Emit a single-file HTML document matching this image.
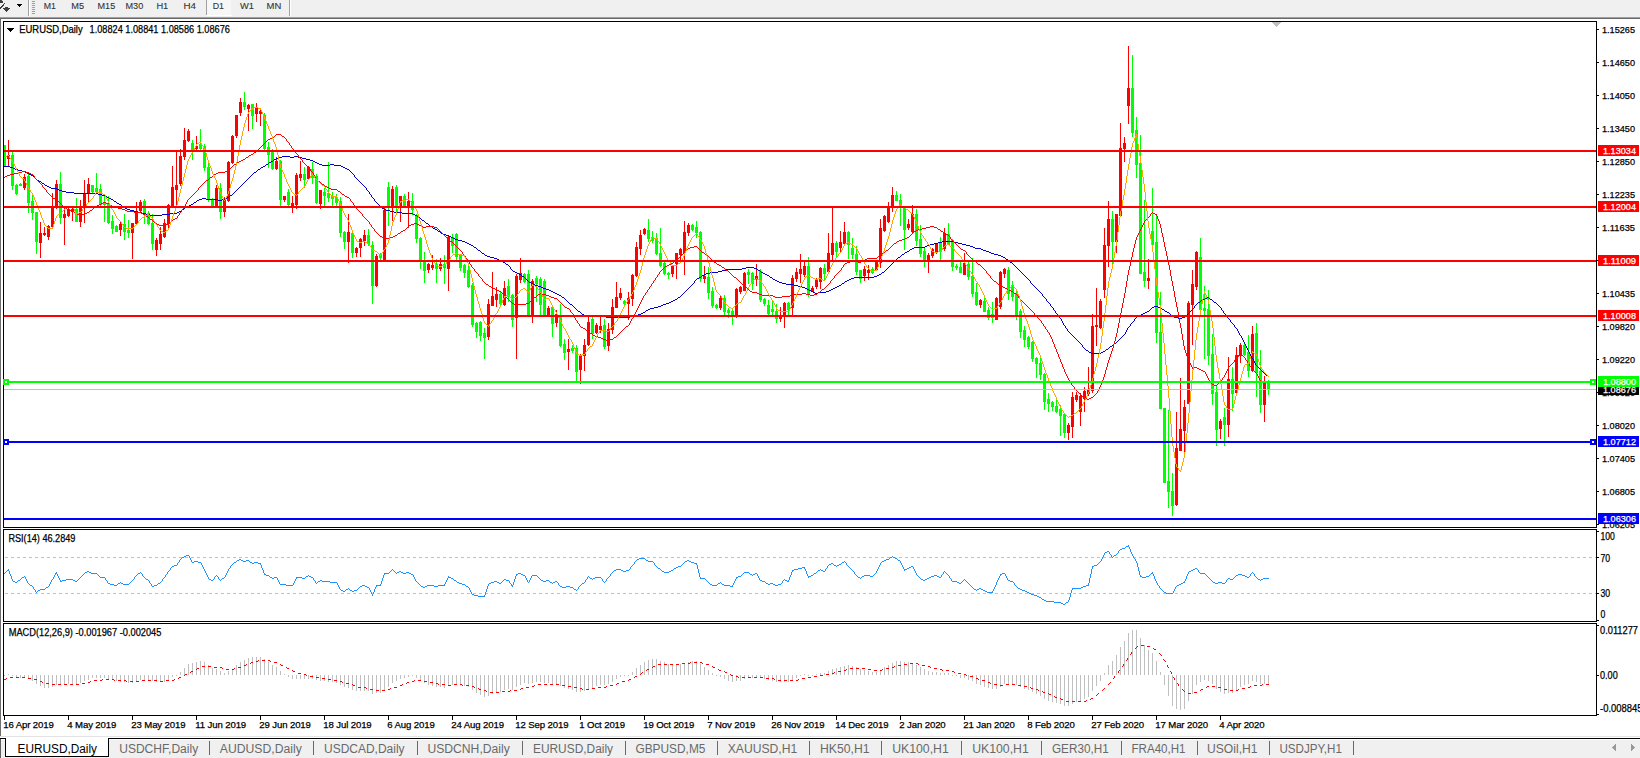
<!DOCTYPE html><html><head><meta charset="utf-8"><style>html,body{margin:0;padding:0;background:#fff;width:1640px;height:758px;overflow:hidden}svg{display:block}text{font-family:"Liberation Sans",sans-serif;stroke:currentColor;stroke-width:0.25px}</style></head><body>
<svg width="1640" height="758" viewBox="0 0 1640 758">
<g shape-rendering="crispEdges">
<rect x="0" y="0" width="1640" height="17" fill="#f0f0f0"/>
<rect x="0" y="17" width="1640" height="1" fill="#a0a0a0"/>
<rect x="0" y="18" width="1640" height="1" fill="#696969"/>
<rect x="0" y="19" width="1" height="717" fill="#6e6e6e"/>
<rect x="28" y="0" width="1" height="16" fill="#a0a0a0"/><rect x="29" y="0" width="1" height="16" fill="#ffffff"/>
<rect x="289" y="0" width="1" height="16" fill="#a0a0a0"/><rect x="290" y="0" width="1" height="16" fill="#ffffff"/>
<rect x="32" y="1" width="3" height="1" fill="#a0a0a0"/>
<rect x="32" y="3" width="3" height="1" fill="#a0a0a0"/>
<rect x="32" y="5" width="3" height="1" fill="#a0a0a0"/>
<rect x="32" y="7" width="3" height="1" fill="#a0a0a0"/>
<rect x="32" y="9" width="3" height="1" fill="#a0a0a0"/>
<rect x="32" y="11" width="3" height="1" fill="#a0a0a0"/>
<rect x="32" y="13" width="3" height="1" fill="#a0a0a0"/>
<rect x="207" y="0" width="24" height="15" fill="#f7f7f7"/>
<rect x="206" y="0" width="1" height="15" fill="#a0a0a0"/>
<rect x="206" y="15" width="26" height="1" fill="#ffffff"/>
</g>
<g shape-rendering="crispEdges" fill="#404040">
<rect x="0" y="0" width="2" height="3"/>
<rect x="2" y="1" width="1" height="2"/>
<rect x="4" y="3" width="1" height="1"/>
<rect x="3" y="4" width="1" height="2"/>
<rect x="2" y="5" width="1" height="2"/>
<rect x="1" y="6" width="1" height="2"/>
<rect x="0" y="7" width="1" height="2"/>
<rect x="5" y="7" width="3" height="1"/>
<rect x="3" y="8" width="7" height="1"/>
<rect x="4" y="9" width="5" height="1"/>
<rect x="5" y="10" width="3" height="1"/>
<rect x="6" y="11" width="1" height="1"/>
</g>
<g shape-rendering="crispEdges" fill="#000">
<rect x="17" y="4" width="5" height="1"/>
<rect x="18" y="5" width="3" height="1"/>
<rect x="19" y="6" width="1" height="1"/>
</g>
<text x="43.8" y="9" font-size="9.4" fill="#333" color="#333" style="stroke-width:0.1" textLength="12.2" lengthAdjust="spacingAndGlyphs">M1</text>
<text x="71.3" y="9" font-size="9.4" fill="#333" color="#333" style="stroke-width:0.1" textLength="12.8" lengthAdjust="spacingAndGlyphs">M5</text>
<text x="97.5" y="9" font-size="9.4" fill="#333" color="#333" style="stroke-width:0.1" textLength="17.7" lengthAdjust="spacingAndGlyphs">M15</text>
<text x="125.5" y="9" font-size="9.4" fill="#333" color="#333" style="stroke-width:0.1" textLength="17.7" lengthAdjust="spacingAndGlyphs">M30</text>
<text x="156.4" y="9" font-size="9.4" fill="#333" color="#333" style="stroke-width:0.1" textLength="11.9" lengthAdjust="spacingAndGlyphs">H1</text>
<text x="183.5" y="9" font-size="9.4" fill="#333" color="#333" style="stroke-width:0.1" textLength="12.5" lengthAdjust="spacingAndGlyphs">H4</text>
<text x="212.7" y="9" font-size="9.4" fill="#333" color="#333" style="stroke-width:0.1" textLength="11.3" lengthAdjust="spacingAndGlyphs">D1</text>
<text x="240" y="9" font-size="9.4" fill="#333" color="#333" style="stroke-width:0.1" textLength="14" lengthAdjust="spacingAndGlyphs">W1</text>
<text x="266.6" y="9" font-size="9.4" fill="#333" color="#333" style="stroke-width:0.1" textLength="14.7" lengthAdjust="spacingAndGlyphs">MN</text>
<g shape-rendering="crispEdges" fill="none" stroke="#000" stroke-width="1">
<rect x="3.5" y="21.5" width="1593" height="506"/>
<rect x="3.5" y="529.5" width="1593" height="92"/>
<rect x="3.5" y="623.5" width="1593" height="92"/>
</g>
<defs><clipPath id="cm"><rect x="4" y="22" width="1592" height="505"/></clipPath><clipPath id="cr"><rect x="4" y="530" width="1592" height="91"/></clipPath><clipPath id="cd"><rect x="4" y="624" width="1592" height="91"/></clipPath></defs>
<g fill="#c0c0c0" shape-rendering="crispEdges"><rect x="1272" y="22" width="9" height="1"/><rect x="1273" y="23" width="7" height="1"/><rect x="1274" y="24" width="5" height="1"/><rect x="1275" y="25" width="3" height="1"/><rect x="1276" y="26" width="1" height="1"/></g>
<g clip-path="url(#cm)" shape-rendering="crispEdges">
<rect x="4" y="145" width="1" height="21" fill="#00ff00"/>
<rect x="3" y="145" width="3" height="21" fill="#00ff00"/>
<rect x="8" y="140" width="1" height="26" fill="#ff0000"/>
<rect x="7" y="155" width="3" height="4" fill="#ff0000"/>
<rect x="12" y="152" width="1" height="38" fill="#00ff00"/>
<rect x="11" y="155" width="3" height="31" fill="#00ff00"/>
<rect x="16" y="184" width="1" height="11" fill="#00ff00"/>
<rect x="15" y="185" width="3" height="9" fill="#00ff00"/>
<rect x="20" y="183" width="1" height="3" fill="#00ff00"/>
<rect x="19" y="184" width="3" height="2" fill="#00ff00"/>
<rect x="24" y="174" width="1" height="16" fill="#ff0000"/>
<rect x="23" y="177" width="3" height="11" fill="#ff0000"/>
<rect x="28" y="174" width="1" height="39" fill="#00ff00"/>
<rect x="27" y="176" width="3" height="27" fill="#00ff00"/>
<rect x="32" y="195" width="1" height="25" fill="#00ff00"/>
<rect x="31" y="201" width="3" height="12" fill="#00ff00"/>
<rect x="36" y="212" width="1" height="42" fill="#00ff00"/>
<rect x="35" y="212" width="3" height="30" fill="#00ff00"/>
<rect x="40" y="222" width="1" height="36" fill="#ff0000"/>
<rect x="39" y="233" width="3" height="10" fill="#ff0000"/>
<rect x="44" y="227" width="1" height="9" fill="#ff0000"/>
<rect x="43" y="233" width="3" height="2" fill="#ff0000"/>
<rect x="48" y="225" width="1" height="15" fill="#ff0000"/>
<rect x="47" y="226" width="3" height="11" fill="#ff0000"/>
<rect x="52" y="193" width="1" height="35" fill="#ff0000"/>
<rect x="51" y="208" width="3" height="19" fill="#ff0000"/>
<rect x="56" y="180" width="1" height="29" fill="#ff0000"/>
<rect x="55" y="184" width="3" height="23" fill="#ff0000"/>
<rect x="60" y="172" width="1" height="52" fill="#00ff00"/>
<rect x="59" y="184" width="3" height="34" fill="#00ff00"/>
<rect x="64" y="208" width="1" height="37" fill="#ff0000"/>
<rect x="63" y="214" width="3" height="4" fill="#ff0000"/>
<rect x="68" y="208" width="1" height="9" fill="#ff0000"/>
<rect x="67" y="210" width="3" height="6" fill="#ff0000"/>
<rect x="72" y="208" width="1" height="13" fill="#ff0000"/>
<rect x="71" y="209" width="3" height="3" fill="#ff0000"/>
<rect x="76" y="198" width="1" height="24" fill="#00ff00"/>
<rect x="75" y="209" width="3" height="13" fill="#00ff00"/>
<rect x="80" y="200" width="1" height="27" fill="#ff0000"/>
<rect x="79" y="206" width="3" height="16" fill="#ff0000"/>
<rect x="84" y="180" width="1" height="43" fill="#ff0000"/>
<rect x="83" y="193" width="3" height="15" fill="#ff0000"/>
<rect x="88" y="178" width="1" height="25" fill="#ff0000"/>
<rect x="87" y="184" width="3" height="10" fill="#ff0000"/>
<rect x="92" y="185" width="1" height="8" fill="#00ff00"/>
<rect x="91" y="185" width="3" height="7" fill="#00ff00"/>
<rect x="96" y="173" width="1" height="20" fill="#00ff00"/>
<rect x="95" y="188" width="3" height="4" fill="#00ff00"/>
<rect x="100" y="184" width="1" height="23" fill="#00ff00"/>
<rect x="99" y="189" width="3" height="16" fill="#00ff00"/>
<rect x="104" y="196" width="1" height="26" fill="#00ff00"/>
<rect x="103" y="202" width="3" height="3" fill="#00ff00"/>
<rect x="108" y="196" width="1" height="28" fill="#00ff00"/>
<rect x="107" y="204" width="3" height="19" fill="#00ff00"/>
<rect x="112" y="215" width="1" height="19" fill="#00ff00"/>
<rect x="111" y="221" width="3" height="8" fill="#00ff00"/>
<rect x="116" y="225" width="1" height="7" fill="#00ff00"/>
<rect x="115" y="226" width="3" height="6" fill="#00ff00"/>
<rect x="120" y="222" width="1" height="14" fill="#ff0000"/>
<rect x="119" y="224" width="3" height="6" fill="#ff0000"/>
<rect x="124" y="214" width="1" height="26" fill="#00ff00"/>
<rect x="123" y="224" width="3" height="8" fill="#00ff00"/>
<rect x="128" y="220" width="1" height="18" fill="#00ff00"/>
<rect x="127" y="230" width="3" height="3" fill="#00ff00"/>
<rect x="132" y="223" width="1" height="36" fill="#ff0000"/>
<rect x="131" y="223" width="3" height="10" fill="#ff0000"/>
<rect x="136" y="202" width="1" height="23" fill="#ff0000"/>
<rect x="135" y="211" width="3" height="13" fill="#ff0000"/>
<rect x="140" y="200" width="1" height="12" fill="#ff0000"/>
<rect x="139" y="202" width="3" height="9" fill="#ff0000"/>
<rect x="144" y="199" width="1" height="25" fill="#00ff00"/>
<rect x="143" y="201" width="3" height="14" fill="#00ff00"/>
<rect x="148" y="211" width="1" height="14" fill="#00ff00"/>
<rect x="147" y="213" width="3" height="11" fill="#00ff00"/>
<rect x="152" y="214" width="1" height="36" fill="#00ff00"/>
<rect x="151" y="223" width="3" height="21" fill="#00ff00"/>
<rect x="156" y="238" width="1" height="18" fill="#ff0000"/>
<rect x="155" y="240" width="3" height="10" fill="#ff0000"/>
<rect x="160" y="227" width="1" height="23" fill="#ff0000"/>
<rect x="159" y="234" width="3" height="10" fill="#ff0000"/>
<rect x="164" y="219" width="1" height="19" fill="#ff0000"/>
<rect x="163" y="223" width="3" height="14" fill="#ff0000"/>
<rect x="168" y="204" width="1" height="24" fill="#ff0000"/>
<rect x="167" y="205" width="3" height="19" fill="#ff0000"/>
<rect x="172" y="166" width="1" height="41" fill="#ff0000"/>
<rect x="171" y="187" width="3" height="19" fill="#ff0000"/>
<rect x="176" y="151" width="1" height="55" fill="#ff0000"/>
<rect x="175" y="185" width="3" height="5" fill="#ff0000"/>
<rect x="180" y="149" width="1" height="37" fill="#ff0000"/>
<rect x="179" y="156" width="3" height="28" fill="#ff0000"/>
<rect x="184" y="128" width="1" height="32" fill="#ff0000"/>
<rect x="183" y="140" width="3" height="17" fill="#ff0000"/>
<rect x="188" y="129" width="1" height="13" fill="#ff0000"/>
<rect x="187" y="131" width="3" height="10" fill="#ff0000"/>
<rect x="192" y="140" width="1" height="20" fill="#00ff00"/>
<rect x="191" y="143" width="3" height="8" fill="#00ff00"/>
<rect x="196" y="136" width="1" height="15" fill="#ff0000"/>
<rect x="195" y="146" width="3" height="3" fill="#ff0000"/>
<rect x="200" y="129" width="1" height="21" fill="#00ff00"/>
<rect x="199" y="144" width="3" height="5" fill="#00ff00"/>
<rect x="204" y="144" width="1" height="27" fill="#00ff00"/>
<rect x="203" y="146" width="3" height="22" fill="#00ff00"/>
<rect x="208" y="163" width="1" height="39" fill="#00ff00"/>
<rect x="207" y="167" width="3" height="33" fill="#00ff00"/>
<rect x="212" y="198" width="1" height="9" fill="#00ff00"/>
<rect x="211" y="199" width="3" height="7" fill="#00ff00"/>
<rect x="216" y="185" width="1" height="22" fill="#ff0000"/>
<rect x="215" y="188" width="3" height="18" fill="#ff0000"/>
<rect x="220" y="183" width="1" height="36" fill="#00ff00"/>
<rect x="219" y="188" width="3" height="24" fill="#00ff00"/>
<rect x="224" y="197" width="1" height="20" fill="#ff0000"/>
<rect x="223" y="199" width="3" height="13" fill="#ff0000"/>
<rect x="228" y="161" width="1" height="41" fill="#ff0000"/>
<rect x="227" y="162" width="3" height="39" fill="#ff0000"/>
<rect x="232" y="135" width="1" height="29" fill="#ff0000"/>
<rect x="231" y="136" width="3" height="27" fill="#ff0000"/>
<rect x="236" y="115" width="1" height="23" fill="#ff0000"/>
<rect x="235" y="115" width="3" height="21" fill="#ff0000"/>
<rect x="240" y="98" width="1" height="18" fill="#ff0000"/>
<rect x="239" y="102" width="3" height="11" fill="#ff0000"/>
<rect x="244" y="92" width="1" height="18" fill="#00ff00"/>
<rect x="243" y="102" width="3" height="5" fill="#00ff00"/>
<rect x="248" y="104" width="1" height="27" fill="#ff0000"/>
<rect x="247" y="105" width="3" height="4" fill="#ff0000"/>
<rect x="252" y="104" width="1" height="25" fill="#00ff00"/>
<rect x="251" y="104" width="3" height="12" fill="#00ff00"/>
<rect x="256" y="103" width="1" height="19" fill="#ff0000"/>
<rect x="255" y="108" width="3" height="6" fill="#ff0000"/>
<rect x="260" y="109" width="1" height="17" fill="#ff0000"/>
<rect x="259" y="111" width="3" height="3" fill="#ff0000"/>
<rect x="264" y="113" width="1" height="39" fill="#00ff00"/>
<rect x="263" y="115" width="3" height="34" fill="#00ff00"/>
<rect x="268" y="142" width="1" height="26" fill="#00ff00"/>
<rect x="267" y="147" width="3" height="8" fill="#00ff00"/>
<rect x="272" y="149" width="1" height="21" fill="#00ff00"/>
<rect x="271" y="152" width="3" height="17" fill="#00ff00"/>
<rect x="276" y="157" width="1" height="13" fill="#ff0000"/>
<rect x="275" y="161" width="3" height="8" fill="#ff0000"/>
<rect x="280" y="160" width="1" height="46" fill="#00ff00"/>
<rect x="279" y="161" width="3" height="39" fill="#00ff00"/>
<rect x="284" y="196" width="1" height="6" fill="#ff0000"/>
<rect x="283" y="196" width="3" height="4" fill="#ff0000"/>
<rect x="288" y="189" width="1" height="17" fill="#00ff00"/>
<rect x="287" y="192" width="3" height="13" fill="#00ff00"/>
<rect x="292" y="196" width="1" height="17" fill="#ff0000"/>
<rect x="291" y="203" width="3" height="3" fill="#ff0000"/>
<rect x="296" y="173" width="1" height="36" fill="#ff0000"/>
<rect x="295" y="175" width="3" height="30" fill="#ff0000"/>
<rect x="300" y="161" width="1" height="20" fill="#ff0000"/>
<rect x="299" y="174" width="3" height="4" fill="#ff0000"/>
<rect x="304" y="167" width="1" height="21" fill="#00ff00"/>
<rect x="303" y="174" width="3" height="6" fill="#00ff00"/>
<rect x="308" y="166" width="1" height="14" fill="#ff0000"/>
<rect x="307" y="167" width="3" height="12" fill="#ff0000"/>
<rect x="312" y="162" width="1" height="22" fill="#00ff00"/>
<rect x="311" y="169" width="3" height="9" fill="#00ff00"/>
<rect x="316" y="174" width="1" height="30" fill="#00ff00"/>
<rect x="315" y="176" width="3" height="27" fill="#00ff00"/>
<rect x="320" y="190" width="1" height="19" fill="#ff0000"/>
<rect x="319" y="190" width="3" height="14" fill="#ff0000"/>
<rect x="324" y="188" width="1" height="19" fill="#00ff00"/>
<rect x="323" y="192" width="3" height="4" fill="#00ff00"/>
<rect x="328" y="162" width="1" height="40" fill="#00ff00"/>
<rect x="327" y="193" width="3" height="5" fill="#00ff00"/>
<rect x="332" y="192" width="1" height="14" fill="#00ff00"/>
<rect x="331" y="196" width="3" height="3" fill="#00ff00"/>
<rect x="336" y="194" width="1" height="13" fill="#00ff00"/>
<rect x="335" y="197" width="3" height="6" fill="#00ff00"/>
<rect x="340" y="197" width="1" height="40" fill="#00ff00"/>
<rect x="339" y="201" width="3" height="32" fill="#00ff00"/>
<rect x="344" y="231" width="1" height="18" fill="#00ff00"/>
<rect x="343" y="232" width="3" height="10" fill="#00ff00"/>
<rect x="348" y="214" width="1" height="49" fill="#ff0000"/>
<rect x="347" y="232" width="3" height="10" fill="#ff0000"/>
<rect x="352" y="232" width="1" height="26" fill="#00ff00"/>
<rect x="351" y="233" width="3" height="20" fill="#00ff00"/>
<rect x="356" y="247" width="1" height="10" fill="#ff0000"/>
<rect x="355" y="248" width="3" height="5" fill="#ff0000"/>
<rect x="360" y="238" width="1" height="19" fill="#ff0000"/>
<rect x="359" y="239" width="3" height="9" fill="#ff0000"/>
<rect x="364" y="230" width="1" height="16" fill="#ff0000"/>
<rect x="363" y="235" width="3" height="6" fill="#ff0000"/>
<rect x="368" y="229" width="1" height="17" fill="#00ff00"/>
<rect x="367" y="235" width="3" height="9" fill="#00ff00"/>
<rect x="372" y="241" width="1" height="63" fill="#00ff00"/>
<rect x="371" y="245" width="3" height="41" fill="#00ff00"/>
<rect x="376" y="254" width="1" height="33" fill="#ff0000"/>
<rect x="375" y="256" width="3" height="30" fill="#ff0000"/>
<rect x="380" y="253" width="1" height="7" fill="#00ff00"/>
<rect x="379" y="254" width="3" height="4" fill="#00ff00"/>
<rect x="384" y="208" width="1" height="54" fill="#ff0000"/>
<rect x="383" y="210" width="3" height="51" fill="#ff0000"/>
<rect x="388" y="182" width="1" height="44" fill="#00ff00"/>
<rect x="387" y="187" width="3" height="21" fill="#00ff00"/>
<rect x="392" y="186" width="1" height="35" fill="#ff0000"/>
<rect x="391" y="189" width="3" height="19" fill="#ff0000"/>
<rect x="396" y="185" width="1" height="28" fill="#00ff00"/>
<rect x="395" y="187" width="3" height="19" fill="#00ff00"/>
<rect x="400" y="196" width="1" height="26" fill="#ff0000"/>
<rect x="399" y="196" width="3" height="11" fill="#ff0000"/>
<rect x="404" y="194" width="1" height="13" fill="#00ff00"/>
<rect x="403" y="196" width="3" height="10" fill="#00ff00"/>
<rect x="408" y="192" width="1" height="36" fill="#ff0000"/>
<rect x="407" y="201" width="3" height="6" fill="#ff0000"/>
<rect x="412" y="193" width="1" height="22" fill="#00ff00"/>
<rect x="411" y="201" width="3" height="9" fill="#00ff00"/>
<rect x="416" y="214" width="1" height="29" fill="#00ff00"/>
<rect x="415" y="215" width="3" height="24" fill="#00ff00"/>
<rect x="420" y="237" width="1" height="32" fill="#00ff00"/>
<rect x="419" y="238" width="3" height="23" fill="#00ff00"/>
<rect x="424" y="252" width="1" height="31" fill="#00ff00"/>
<rect x="423" y="261" width="3" height="10" fill="#00ff00"/>
<rect x="428" y="263" width="1" height="10" fill="#ff0000"/>
<rect x="427" y="264" width="3" height="6" fill="#ff0000"/>
<rect x="432" y="255" width="1" height="15" fill="#ff0000"/>
<rect x="431" y="265" width="3" height="3" fill="#ff0000"/>
<rect x="436" y="259" width="1" height="24" fill="#00ff00"/>
<rect x="435" y="264" width="3" height="5" fill="#00ff00"/>
<rect x="440" y="258" width="1" height="13" fill="#ff0000"/>
<rect x="439" y="264" width="3" height="5" fill="#ff0000"/>
<rect x="444" y="255" width="1" height="29" fill="#00ff00"/>
<rect x="443" y="264" width="3" height="4" fill="#00ff00"/>
<rect x="448" y="236" width="1" height="55" fill="#ff0000"/>
<rect x="447" y="237" width="3" height="32" fill="#ff0000"/>
<rect x="452" y="234" width="1" height="19" fill="#00ff00"/>
<rect x="451" y="237" width="3" height="9" fill="#00ff00"/>
<rect x="456" y="233" width="1" height="27" fill="#00ff00"/>
<rect x="455" y="234" width="3" height="23" fill="#00ff00"/>
<rect x="460" y="254" width="1" height="17" fill="#00ff00"/>
<rect x="459" y="255" width="3" height="13" fill="#00ff00"/>
<rect x="464" y="264" width="1" height="14" fill="#00ff00"/>
<rect x="463" y="265" width="3" height="8" fill="#00ff00"/>
<rect x="468" y="264" width="1" height="24" fill="#00ff00"/>
<rect x="467" y="270" width="3" height="17" fill="#00ff00"/>
<rect x="472" y="283" width="1" height="44" fill="#00ff00"/>
<rect x="471" y="285" width="3" height="40" fill="#00ff00"/>
<rect x="476" y="322" width="1" height="16" fill="#00ff00"/>
<rect x="475" y="323" width="3" height="9" fill="#00ff00"/>
<rect x="480" y="321" width="1" height="20" fill="#00ff00"/>
<rect x="479" y="322" width="3" height="14" fill="#00ff00"/>
<rect x="484" y="328" width="1" height="31" fill="#00ff00"/>
<rect x="483" y="333" width="3" height="5" fill="#00ff00"/>
<rect x="488" y="299" width="1" height="41" fill="#ff0000"/>
<rect x="487" y="304" width="3" height="33" fill="#ff0000"/>
<rect x="492" y="272" width="1" height="34" fill="#ff0000"/>
<rect x="491" y="296" width="3" height="10" fill="#ff0000"/>
<rect x="496" y="287" width="1" height="20" fill="#ff0000"/>
<rect x="495" y="294" width="3" height="6" fill="#ff0000"/>
<rect x="500" y="291" width="1" height="14" fill="#00ff00"/>
<rect x="499" y="294" width="3" height="10" fill="#00ff00"/>
<rect x="504" y="281" width="1" height="25" fill="#ff0000"/>
<rect x="503" y="288" width="3" height="17" fill="#ff0000"/>
<rect x="508" y="279" width="1" height="23" fill="#00ff00"/>
<rect x="507" y="286" width="3" height="11" fill="#00ff00"/>
<rect x="512" y="294" width="1" height="33" fill="#00ff00"/>
<rect x="511" y="295" width="3" height="25" fill="#00ff00"/>
<rect x="516" y="274" width="1" height="85" fill="#ff0000"/>
<rect x="515" y="276" width="3" height="42" fill="#ff0000"/>
<rect x="520" y="258" width="1" height="25" fill="#ff0000"/>
<rect x="519" y="273" width="3" height="7" fill="#ff0000"/>
<rect x="524" y="273" width="1" height="10" fill="#00ff00"/>
<rect x="523" y="274" width="3" height="8" fill="#00ff00"/>
<rect x="528" y="270" width="1" height="46" fill="#00ff00"/>
<rect x="527" y="274" width="3" height="41" fill="#00ff00"/>
<rect x="532" y="279" width="1" height="44" fill="#ff0000"/>
<rect x="531" y="281" width="3" height="34" fill="#ff0000"/>
<rect x="536" y="276" width="1" height="26" fill="#00ff00"/>
<rect x="535" y="278" width="3" height="6" fill="#00ff00"/>
<rect x="540" y="277" width="1" height="38" fill="#00ff00"/>
<rect x="539" y="279" width="3" height="26" fill="#00ff00"/>
<rect x="544" y="279" width="1" height="38" fill="#00ff00"/>
<rect x="543" y="281" width="3" height="34" fill="#00ff00"/>
<rect x="548" y="306" width="1" height="11" fill="#ff0000"/>
<rect x="547" y="308" width="3" height="7" fill="#ff0000"/>
<rect x="552" y="305" width="1" height="32" fill="#00ff00"/>
<rect x="551" y="307" width="3" height="17" fill="#00ff00"/>
<rect x="556" y="310" width="1" height="17" fill="#ff0000"/>
<rect x="555" y="314" width="3" height="9" fill="#ff0000"/>
<rect x="560" y="304" width="1" height="43" fill="#00ff00"/>
<rect x="559" y="317" width="3" height="29" fill="#00ff00"/>
<rect x="564" y="339" width="1" height="21" fill="#00ff00"/>
<rect x="563" y="344" width="3" height="9" fill="#00ff00"/>
<rect x="568" y="339" width="1" height="31" fill="#ff0000"/>
<rect x="567" y="349" width="3" height="3" fill="#ff0000"/>
<rect x="572" y="345" width="1" height="8" fill="#00ff00"/>
<rect x="571" y="348" width="3" height="3" fill="#00ff00"/>
<rect x="576" y="345" width="1" height="37" fill="#00ff00"/>
<rect x="575" y="348" width="3" height="24" fill="#00ff00"/>
<rect x="580" y="354" width="1" height="30" fill="#ff0000"/>
<rect x="579" y="355" width="3" height="15" fill="#ff0000"/>
<rect x="584" y="339" width="1" height="32" fill="#ff0000"/>
<rect x="583" y="345" width="3" height="11" fill="#ff0000"/>
<rect x="588" y="317" width="1" height="29" fill="#ff0000"/>
<rect x="587" y="322" width="3" height="23" fill="#ff0000"/>
<rect x="592" y="317" width="1" height="22" fill="#00ff00"/>
<rect x="591" y="319" width="3" height="15" fill="#00ff00"/>
<rect x="596" y="323" width="1" height="11" fill="#ff0000"/>
<rect x="595" y="325" width="3" height="8" fill="#ff0000"/>
<rect x="600" y="317" width="1" height="16" fill="#ff0000"/>
<rect x="599" y="326" width="3" height="4" fill="#ff0000"/>
<rect x="604" y="319" width="1" height="30" fill="#00ff00"/>
<rect x="603" y="325" width="3" height="22" fill="#00ff00"/>
<rect x="608" y="323" width="1" height="28" fill="#ff0000"/>
<rect x="607" y="329" width="3" height="17" fill="#ff0000"/>
<rect x="612" y="299" width="1" height="35" fill="#ff0000"/>
<rect x="611" y="307" width="3" height="23" fill="#ff0000"/>
<rect x="616" y="282" width="1" height="26" fill="#ff0000"/>
<rect x="615" y="297" width="3" height="11" fill="#ff0000"/>
<rect x="620" y="288" width="1" height="12" fill="#ff0000"/>
<rect x="619" y="293" width="3" height="5" fill="#ff0000"/>
<rect x="624" y="300" width="1" height="6" fill="#00ff00"/>
<rect x="623" y="301" width="3" height="3" fill="#00ff00"/>
<rect x="628" y="292" width="1" height="28" fill="#ff0000"/>
<rect x="627" y="298" width="3" height="6" fill="#ff0000"/>
<rect x="632" y="274" width="1" height="32" fill="#ff0000"/>
<rect x="631" y="275" width="3" height="24" fill="#ff0000"/>
<rect x="636" y="242" width="1" height="35" fill="#ff0000"/>
<rect x="635" y="247" width="3" height="29" fill="#ff0000"/>
<rect x="640" y="230" width="1" height="25" fill="#ff0000"/>
<rect x="639" y="235" width="3" height="14" fill="#ff0000"/>
<rect x="644" y="228" width="1" height="7" fill="#ff0000"/>
<rect x="643" y="229" width="3" height="5" fill="#ff0000"/>
<rect x="648" y="219" width="1" height="23" fill="#00ff00"/>
<rect x="647" y="230" width="3" height="9" fill="#00ff00"/>
<rect x="652" y="231" width="1" height="12" fill="#00ff00"/>
<rect x="651" y="237" width="3" height="4" fill="#00ff00"/>
<rect x="656" y="233" width="1" height="22" fill="#00ff00"/>
<rect x="655" y="238" width="3" height="16" fill="#00ff00"/>
<rect x="660" y="228" width="1" height="39" fill="#00ff00"/>
<rect x="659" y="253" width="3" height="13" fill="#00ff00"/>
<rect x="664" y="262" width="1" height="13" fill="#00ff00"/>
<rect x="663" y="263" width="3" height="11" fill="#00ff00"/>
<rect x="668" y="272" width="1" height="7" fill="#00ff00"/>
<rect x="667" y="273" width="3" height="2" fill="#00ff00"/>
<rect x="672" y="265" width="1" height="12" fill="#ff0000"/>
<rect x="671" y="266" width="3" height="8" fill="#ff0000"/>
<rect x="676" y="253" width="1" height="26" fill="#ff0000"/>
<rect x="675" y="253" width="3" height="11" fill="#ff0000"/>
<rect x="680" y="248" width="1" height="15" fill="#ff0000"/>
<rect x="679" y="249" width="3" height="6" fill="#ff0000"/>
<rect x="684" y="221" width="1" height="54" fill="#ff0000"/>
<rect x="683" y="232" width="3" height="21" fill="#ff0000"/>
<rect x="688" y="223" width="1" height="13" fill="#ff0000"/>
<rect x="687" y="225" width="3" height="8" fill="#ff0000"/>
<rect x="692" y="224" width="1" height="7" fill="#00ff00"/>
<rect x="691" y="225" width="3" height="5" fill="#00ff00"/>
<rect x="696" y="221" width="1" height="17" fill="#00ff00"/>
<rect x="695" y="227" width="3" height="6" fill="#00ff00"/>
<rect x="700" y="231" width="1" height="51" fill="#00ff00"/>
<rect x="699" y="232" width="3" height="47" fill="#00ff00"/>
<rect x="704" y="266" width="1" height="17" fill="#ff0000"/>
<rect x="703" y="276" width="3" height="3" fill="#ff0000"/>
<rect x="708" y="267" width="1" height="32" fill="#00ff00"/>
<rect x="707" y="277" width="3" height="16" fill="#00ff00"/>
<rect x="712" y="287" width="1" height="21" fill="#00ff00"/>
<rect x="711" y="291" width="3" height="15" fill="#00ff00"/>
<rect x="716" y="304" width="1" height="5" fill="#00ff00"/>
<rect x="715" y="305" width="3" height="3" fill="#00ff00"/>
<rect x="720" y="296" width="1" height="14" fill="#ff0000"/>
<rect x="719" y="298" width="3" height="10" fill="#ff0000"/>
<rect x="724" y="295" width="1" height="21" fill="#00ff00"/>
<rect x="723" y="298" width="3" height="14" fill="#00ff00"/>
<rect x="728" y="308" width="1" height="10" fill="#00ff00"/>
<rect x="727" y="310" width="3" height="3" fill="#00ff00"/>
<rect x="732" y="309" width="1" height="16" fill="#00ff00"/>
<rect x="731" y="311" width="3" height="5" fill="#00ff00"/>
<rect x="736" y="288" width="1" height="30" fill="#ff0000"/>
<rect x="735" y="289" width="3" height="28" fill="#ff0000"/>
<rect x="740" y="286" width="1" height="8" fill="#ff0000"/>
<rect x="739" y="287" width="3" height="5" fill="#ff0000"/>
<rect x="744" y="272" width="1" height="18" fill="#ff0000"/>
<rect x="743" y="273" width="3" height="18" fill="#ff0000"/>
<rect x="748" y="269" width="1" height="15" fill="#00ff00"/>
<rect x="747" y="272" width="3" height="3" fill="#00ff00"/>
<rect x="752" y="272" width="1" height="18" fill="#00ff00"/>
<rect x="751" y="273" width="3" height="11" fill="#00ff00"/>
<rect x="756" y="264" width="1" height="22" fill="#ff0000"/>
<rect x="755" y="276" width="3" height="4" fill="#ff0000"/>
<rect x="760" y="269" width="1" height="33" fill="#00ff00"/>
<rect x="759" y="271" width="3" height="29" fill="#00ff00"/>
<rect x="764" y="298" width="1" height="8" fill="#00ff00"/>
<rect x="763" y="299" width="3" height="5" fill="#00ff00"/>
<rect x="768" y="300" width="1" height="16" fill="#00ff00"/>
<rect x="767" y="305" width="3" height="9" fill="#00ff00"/>
<rect x="772" y="300" width="1" height="15" fill="#00ff00"/>
<rect x="771" y="309" width="3" height="3" fill="#00ff00"/>
<rect x="776" y="304" width="1" height="19" fill="#00ff00"/>
<rect x="775" y="311" width="3" height="8" fill="#00ff00"/>
<rect x="780" y="307" width="1" height="15" fill="#ff0000"/>
<rect x="779" y="315" width="3" height="4" fill="#ff0000"/>
<rect x="784" y="302" width="1" height="26" fill="#ff0000"/>
<rect x="783" y="303" width="3" height="13" fill="#ff0000"/>
<rect x="788" y="302" width="1" height="14" fill="#00ff00"/>
<rect x="787" y="303" width="3" height="7" fill="#00ff00"/>
<rect x="792" y="275" width="1" height="41" fill="#ff0000"/>
<rect x="791" y="278" width="3" height="30" fill="#ff0000"/>
<rect x="796" y="268" width="1" height="14" fill="#ff0000"/>
<rect x="795" y="272" width="3" height="7" fill="#ff0000"/>
<rect x="800" y="254" width="1" height="29" fill="#ff0000"/>
<rect x="799" y="269" width="3" height="5" fill="#ff0000"/>
<rect x="804" y="261" width="1" height="16" fill="#ff0000"/>
<rect x="803" y="266" width="3" height="9" fill="#ff0000"/>
<rect x="808" y="257" width="1" height="40" fill="#00ff00"/>
<rect x="807" y="266" width="3" height="29" fill="#00ff00"/>
<rect x="812" y="286" width="1" height="6" fill="#ff0000"/>
<rect x="811" y="288" width="3" height="4" fill="#ff0000"/>
<rect x="816" y="278" width="1" height="11" fill="#ff0000"/>
<rect x="815" y="279" width="3" height="8" fill="#ff0000"/>
<rect x="820" y="267" width="1" height="22" fill="#ff0000"/>
<rect x="819" y="268" width="3" height="14" fill="#ff0000"/>
<rect x="824" y="264" width="1" height="16" fill="#00ff00"/>
<rect x="823" y="268" width="3" height="6" fill="#00ff00"/>
<rect x="828" y="233" width="1" height="40" fill="#ff0000"/>
<rect x="827" y="253" width="3" height="19" fill="#ff0000"/>
<rect x="832" y="207" width="1" height="55" fill="#ff0000"/>
<rect x="831" y="243" width="3" height="12" fill="#ff0000"/>
<rect x="836" y="241" width="1" height="17" fill="#00ff00"/>
<rect x="835" y="243" width="3" height="9" fill="#00ff00"/>
<rect x="840" y="231" width="1" height="21" fill="#ff0000"/>
<rect x="839" y="242" width="3" height="6" fill="#ff0000"/>
<rect x="844" y="222" width="1" height="23" fill="#ff0000"/>
<rect x="843" y="232" width="3" height="12" fill="#ff0000"/>
<rect x="848" y="231" width="1" height="28" fill="#00ff00"/>
<rect x="847" y="232" width="3" height="13" fill="#00ff00"/>
<rect x="852" y="238" width="1" height="21" fill="#00ff00"/>
<rect x="851" y="248" width="3" height="7" fill="#00ff00"/>
<rect x="856" y="246" width="1" height="29" fill="#00ff00"/>
<rect x="855" y="254" width="3" height="18" fill="#00ff00"/>
<rect x="860" y="270" width="1" height="13" fill="#00ff00"/>
<rect x="859" y="270" width="3" height="9" fill="#00ff00"/>
<rect x="864" y="266" width="1" height="15" fill="#ff0000"/>
<rect x="863" y="269" width="3" height="7" fill="#ff0000"/>
<rect x="868" y="265" width="1" height="15" fill="#ff0000"/>
<rect x="867" y="270" width="3" height="3" fill="#ff0000"/>
<rect x="872" y="267" width="1" height="7" fill="#00ff00"/>
<rect x="871" y="269" width="3" height="4" fill="#00ff00"/>
<rect x="876" y="261" width="1" height="7" fill="#ff0000"/>
<rect x="875" y="262" width="3" height="8" fill="#ff0000"/>
<rect x="880" y="219" width="1" height="49" fill="#ff0000"/>
<rect x="879" y="228" width="3" height="35" fill="#ff0000"/>
<rect x="884" y="215" width="1" height="17" fill="#ff0000"/>
<rect x="883" y="216" width="3" height="15" fill="#ff0000"/>
<rect x="888" y="202" width="1" height="21" fill="#ff0000"/>
<rect x="887" y="207" width="3" height="15" fill="#ff0000"/>
<rect x="892" y="187" width="1" height="25" fill="#ff0000"/>
<rect x="891" y="195" width="3" height="13" fill="#ff0000"/>
<rect x="896" y="191" width="1" height="10" fill="#00ff00"/>
<rect x="895" y="195" width="3" height="6" fill="#00ff00"/>
<rect x="900" y="194" width="1" height="32" fill="#00ff00"/>
<rect x="899" y="200" width="3" height="7" fill="#00ff00"/>
<rect x="904" y="206" width="1" height="44" fill="#00ff00"/>
<rect x="903" y="208" width="3" height="22" fill="#00ff00"/>
<rect x="908" y="219" width="1" height="11" fill="#ff0000"/>
<rect x="907" y="224" width="3" height="4" fill="#ff0000"/>
<rect x="912" y="205" width="1" height="29" fill="#ff0000"/>
<rect x="911" y="214" width="3" height="18" fill="#ff0000"/>
<rect x="916" y="209" width="1" height="37" fill="#00ff00"/>
<rect x="915" y="214" width="3" height="27" fill="#00ff00"/>
<rect x="920" y="225" width="1" height="32" fill="#00ff00"/>
<rect x="919" y="239" width="3" height="15" fill="#00ff00"/>
<rect x="924" y="248" width="1" height="19" fill="#00ff00"/>
<rect x="923" y="251" width="3" height="10" fill="#00ff00"/>
<rect x="928" y="253" width="1" height="20" fill="#ff0000"/>
<rect x="927" y="255" width="3" height="5" fill="#ff0000"/>
<rect x="932" y="248" width="1" height="10" fill="#ff0000"/>
<rect x="931" y="249" width="3" height="7" fill="#ff0000"/>
<rect x="936" y="243" width="1" height="11" fill="#ff0000"/>
<rect x="935" y="244" width="3" height="9" fill="#ff0000"/>
<rect x="940" y="237" width="1" height="23" fill="#00ff00"/>
<rect x="939" y="243" width="3" height="9" fill="#00ff00"/>
<rect x="944" y="228" width="1" height="23" fill="#ff0000"/>
<rect x="943" y="233" width="3" height="16" fill="#ff0000"/>
<rect x="948" y="223" width="1" height="22" fill="#00ff00"/>
<rect x="947" y="234" width="3" height="11" fill="#00ff00"/>
<rect x="952" y="239" width="1" height="32" fill="#00ff00"/>
<rect x="951" y="240" width="3" height="27" fill="#00ff00"/>
<rect x="956" y="264" width="1" height="6" fill="#00ff00"/>
<rect x="955" y="266" width="3" height="2" fill="#00ff00"/>
<rect x="960" y="262" width="1" height="10" fill="#00ff00"/>
<rect x="959" y="267" width="3" height="6" fill="#00ff00"/>
<rect x="964" y="253" width="1" height="22" fill="#ff0000"/>
<rect x="963" y="263" width="3" height="12" fill="#ff0000"/>
<rect x="968" y="262" width="1" height="18" fill="#00ff00"/>
<rect x="967" y="264" width="3" height="13" fill="#00ff00"/>
<rect x="972" y="258" width="1" height="39" fill="#00ff00"/>
<rect x="971" y="276" width="3" height="18" fill="#00ff00"/>
<rect x="976" y="283" width="1" height="23" fill="#00ff00"/>
<rect x="975" y="292" width="3" height="13" fill="#00ff00"/>
<rect x="980" y="299" width="1" height="9" fill="#ff0000"/>
<rect x="979" y="300" width="3" height="5" fill="#ff0000"/>
<rect x="984" y="298" width="1" height="14" fill="#00ff00"/>
<rect x="983" y="301" width="3" height="11" fill="#00ff00"/>
<rect x="988" y="307" width="1" height="13" fill="#00ff00"/>
<rect x="987" y="310" width="3" height="8" fill="#00ff00"/>
<rect x="992" y="302" width="1" height="21" fill="#00ff00"/>
<rect x="991" y="314" width="3" height="4" fill="#00ff00"/>
<rect x="996" y="297" width="1" height="23" fill="#ff0000"/>
<rect x="995" y="298" width="3" height="22" fill="#ff0000"/>
<rect x="1000" y="271" width="1" height="38" fill="#ff0000"/>
<rect x="999" y="272" width="3" height="35" fill="#ff0000"/>
<rect x="1004" y="268" width="1" height="10" fill="#ff0000"/>
<rect x="1003" y="269" width="3" height="5" fill="#ff0000"/>
<rect x="1008" y="267" width="1" height="33" fill="#00ff00"/>
<rect x="1007" y="270" width="3" height="24" fill="#00ff00"/>
<rect x="1012" y="281" width="1" height="20" fill="#00ff00"/>
<rect x="1011" y="285" width="3" height="12" fill="#00ff00"/>
<rect x="1016" y="291" width="1" height="29" fill="#00ff00"/>
<rect x="1015" y="293" width="3" height="24" fill="#00ff00"/>
<rect x="1020" y="309" width="1" height="29" fill="#00ff00"/>
<rect x="1019" y="311" width="3" height="21" fill="#00ff00"/>
<rect x="1024" y="326" width="1" height="21" fill="#00ff00"/>
<rect x="1023" y="330" width="3" height="10" fill="#00ff00"/>
<rect x="1028" y="336" width="1" height="13" fill="#00ff00"/>
<rect x="1027" y="337" width="3" height="10" fill="#00ff00"/>
<rect x="1032" y="341" width="1" height="21" fill="#00ff00"/>
<rect x="1031" y="342" width="3" height="17" fill="#00ff00"/>
<rect x="1036" y="357" width="1" height="21" fill="#00ff00"/>
<rect x="1035" y="358" width="3" height="6" fill="#00ff00"/>
<rect x="1040" y="357" width="1" height="23" fill="#00ff00"/>
<rect x="1039" y="363" width="3" height="12" fill="#00ff00"/>
<rect x="1044" y="373" width="1" height="37" fill="#00ff00"/>
<rect x="1043" y="374" width="3" height="28" fill="#00ff00"/>
<rect x="1048" y="393" width="1" height="19" fill="#00ff00"/>
<rect x="1047" y="399" width="3" height="5" fill="#00ff00"/>
<rect x="1052" y="401" width="1" height="10" fill="#00ff00"/>
<rect x="1051" y="402" width="3" height="5" fill="#00ff00"/>
<rect x="1056" y="400" width="1" height="13" fill="#00ff00"/>
<rect x="1055" y="406" width="3" height="6" fill="#00ff00"/>
<rect x="1060" y="405" width="1" height="31" fill="#00ff00"/>
<rect x="1059" y="409" width="3" height="7" fill="#00ff00"/>
<rect x="1064" y="413" width="1" height="25" fill="#00ff00"/>
<rect x="1063" y="414" width="3" height="19" fill="#00ff00"/>
<rect x="1068" y="423" width="1" height="17" fill="#ff0000"/>
<rect x="1067" y="425" width="3" height="8" fill="#ff0000"/>
<rect x="1072" y="392" width="1" height="46" fill="#ff0000"/>
<rect x="1071" y="397" width="3" height="30" fill="#ff0000"/>
<rect x="1076" y="392" width="1" height="10" fill="#ff0000"/>
<rect x="1075" y="395" width="3" height="5" fill="#ff0000"/>
<rect x="1080" y="393" width="1" height="33" fill="#ff0000"/>
<rect x="1079" y="396" width="3" height="16" fill="#ff0000"/>
<rect x="1084" y="387" width="1" height="25" fill="#ff0000"/>
<rect x="1083" y="391" width="3" height="8" fill="#ff0000"/>
<rect x="1088" y="367" width="1" height="29" fill="#ff0000"/>
<rect x="1087" y="390" width="3" height="4" fill="#ff0000"/>
<rect x="1092" y="314" width="1" height="79" fill="#ff0000"/>
<rect x="1091" y="326" width="3" height="65" fill="#ff0000"/>
<rect x="1096" y="288" width="1" height="58" fill="#ff0000"/>
<rect x="1095" y="325" width="3" height="2" fill="#ff0000"/>
<rect x="1100" y="299" width="1" height="30" fill="#ff0000"/>
<rect x="1099" y="301" width="3" height="27" fill="#ff0000"/>
<rect x="1104" y="228" width="1" height="70" fill="#ff0000"/>
<rect x="1103" y="245" width="3" height="45" fill="#ff0000"/>
<rect x="1108" y="201" width="1" height="66" fill="#ff0000"/>
<rect x="1107" y="219" width="3" height="27" fill="#ff0000"/>
<rect x="1112" y="211" width="1" height="53" fill="#00ff00"/>
<rect x="1111" y="219" width="3" height="23" fill="#00ff00"/>
<rect x="1116" y="214" width="1" height="39" fill="#ff0000"/>
<rect x="1115" y="214" width="3" height="28" fill="#ff0000"/>
<rect x="1120" y="123" width="1" height="93" fill="#ff0000"/>
<rect x="1119" y="148" width="3" height="68" fill="#ff0000"/>
<rect x="1124" y="137" width="1" height="25" fill="#ff0000"/>
<rect x="1123" y="143" width="3" height="6" fill="#ff0000"/>
<rect x="1128" y="46" width="1" height="78" fill="#ff0000"/>
<rect x="1127" y="88" width="3" height="18" fill="#ff0000"/>
<rect x="1132" y="55" width="1" height="82" fill="#00ff00"/>
<rect x="1131" y="88" width="3" height="45" fill="#00ff00"/>
<rect x="1136" y="117" width="1" height="61" fill="#00ff00"/>
<rect x="1135" y="130" width="3" height="35" fill="#00ff00"/>
<rect x="1140" y="135" width="1" height="139" fill="#00ff00"/>
<rect x="1139" y="163" width="3" height="111" fill="#00ff00"/>
<rect x="1144" y="200" width="1" height="87" fill="#00ff00"/>
<rect x="1143" y="272" width="3" height="9" fill="#00ff00"/>
<rect x="1148" y="259" width="1" height="30" fill="#ff0000"/>
<rect x="1147" y="278" width="3" height="3" fill="#ff0000"/>
<rect x="1152" y="188" width="1" height="63" fill="#00ff00"/>
<rect x="1151" y="231" width="3" height="14" fill="#00ff00"/>
<rect x="1156" y="214" width="1" height="129" fill="#00ff00"/>
<rect x="1155" y="242" width="3" height="91" fill="#00ff00"/>
<rect x="1160" y="292" width="1" height="117" fill="#00ff00"/>
<rect x="1159" y="332" width="3" height="77" fill="#00ff00"/>
<rect x="1164" y="408" width="1" height="75" fill="#00ff00"/>
<rect x="1163" y="408" width="3" height="75" fill="#00ff00"/>
<rect x="1168" y="410" width="1" height="98" fill="#00ff00"/>
<rect x="1167" y="481" width="3" height="11" fill="#00ff00"/>
<rect x="1172" y="473" width="1" height="43" fill="#00ff00"/>
<rect x="1171" y="491" width="3" height="15" fill="#00ff00"/>
<rect x="1176" y="412" width="1" height="94" fill="#ff0000"/>
<rect x="1175" y="448" width="3" height="57" fill="#ff0000"/>
<rect x="1180" y="378" width="1" height="73" fill="#ff0000"/>
<rect x="1179" y="429" width="3" height="22" fill="#ff0000"/>
<rect x="1184" y="400" width="1" height="52" fill="#ff0000"/>
<rect x="1183" y="407" width="3" height="24" fill="#ff0000"/>
<rect x="1188" y="301" width="1" height="103" fill="#ff0000"/>
<rect x="1187" y="303" width="3" height="101" fill="#ff0000"/>
<rect x="1192" y="270" width="1" height="75" fill="#ff0000"/>
<rect x="1191" y="284" width="3" height="21" fill="#ff0000"/>
<rect x="1196" y="251" width="1" height="39" fill="#ff0000"/>
<rect x="1195" y="252" width="3" height="35" fill="#ff0000"/>
<rect x="1200" y="238" width="1" height="73" fill="#00ff00"/>
<rect x="1199" y="257" width="3" height="53" fill="#00ff00"/>
<rect x="1204" y="286" width="1" height="73" fill="#00ff00"/>
<rect x="1203" y="308" width="3" height="3" fill="#00ff00"/>
<rect x="1208" y="290" width="1" height="75" fill="#00ff00"/>
<rect x="1207" y="309" width="3" height="47" fill="#00ff00"/>
<rect x="1212" y="334" width="1" height="71" fill="#00ff00"/>
<rect x="1211" y="354" width="3" height="40" fill="#00ff00"/>
<rect x="1216" y="385" width="1" height="61" fill="#00ff00"/>
<rect x="1215" y="392" width="3" height="38" fill="#00ff00"/>
<rect x="1220" y="419" width="1" height="20" fill="#ff0000"/>
<rect x="1219" y="421" width="3" height="8" fill="#ff0000"/>
<rect x="1224" y="408" width="1" height="38" fill="#00ff00"/>
<rect x="1223" y="417" width="3" height="8" fill="#00ff00"/>
<rect x="1228" y="357" width="1" height="80" fill="#ff0000"/>
<rect x="1227" y="379" width="3" height="46" fill="#ff0000"/>
<rect x="1232" y="367" width="1" height="44" fill="#00ff00"/>
<rect x="1231" y="379" width="3" height="15" fill="#00ff00"/>
<rect x="1236" y="347" width="1" height="46" fill="#ff0000"/>
<rect x="1235" y="355" width="3" height="38" fill="#ff0000"/>
<rect x="1240" y="343" width="1" height="20" fill="#ff0000"/>
<rect x="1239" y="345" width="3" height="11" fill="#ff0000"/>
<rect x="1244" y="344" width="1" height="12" fill="#00ff00"/>
<rect x="1243" y="345" width="3" height="10" fill="#00ff00"/>
<rect x="1248" y="335" width="1" height="42" fill="#00ff00"/>
<rect x="1247" y="352" width="3" height="19" fill="#00ff00"/>
<rect x="1252" y="326" width="1" height="46" fill="#ff0000"/>
<rect x="1251" y="334" width="3" height="37" fill="#ff0000"/>
<rect x="1256" y="323" width="1" height="74" fill="#00ff00"/>
<rect x="1255" y="333" width="3" height="40" fill="#00ff00"/>
<rect x="1260" y="350" width="1" height="63" fill="#00ff00"/>
<rect x="1259" y="371" width="3" height="34" fill="#00ff00"/>
<rect x="1264" y="376" width="1" height="46" fill="#ff0000"/>
<rect x="1263" y="383" width="3" height="22" fill="#ff0000"/>
<rect x="1268" y="380" width="1" height="15" fill="#00ff00"/>
<rect x="1267" y="381" width="3" height="9" fill="#00ff00"/>
</g>
<path clip-path="url(#cm)" d="M4 166h1v1h-1zM5 166h1v1h-1zM6 166h1v1h-1zM7 166h1v1h-1zM8 166h1v1h-1zM9 166h1v1h-1zM10 167h1v1h-1zM11 167h1v1h-1zM12 167h1v1h-1zM13 168h1v1h-1zM14 168h1v1h-1zM15 169h1v1h-1zM16 169h1v1h-1zM17 169h1v1h-1zM18 170h1v1h-1zM19 170h1v1h-1zM20 170h1v1h-1zM21 170h1v1h-1zM22 171h1v1h-1zM23 171h1v1h-1zM24 171h1v1h-1zM25 172h1v1h-1zM26 172h1v1h-1zM27 173h1v1h-1zM28 173h1v1h-1zM29 174h1v1h-1zM30 174h1v1h-1zM31 175h1v1h-1zM32 175h1v1h-1zM33 176h1v1h-1zM34 177h1v1h-1zM35 178h1v1h-1zM36 179h1v1h-1zM37 180h1v1h-1zM38 180h1v1h-1zM39 181h1v1h-1zM40 181h1v1h-1zM41 182h1v1h-1zM42 183h1v1h-1zM43 183h1v1h-1zM44 184h1v1h-1zM45 185h1v1h-1zM46 185h1v1h-1zM47 186h1v1h-1zM48 186h1v1h-1zM49 187h1v1h-1zM50 187h1v1h-1zM51 188h1v1h-1zM52 188h1v1h-1zM53 188h1v1h-1zM54 188h1v1h-1zM55 188h1v1h-1zM56 188h1v1h-1zM57 189h1v1h-1zM58 189h1v1h-1zM59 190h1v1h-1zM60 190h1v1h-1zM61 190h1v1h-1zM62 191h1v1h-1zM63 191h1v1h-1zM64 191h1v1h-1zM65 191h1v1h-1zM66 192h1v1h-1zM67 192h1v1h-1zM68 192h1v1h-1zM69 192h1v1h-1zM70 192h1v1h-1zM71 192h1v1h-1zM72 192h1v1h-1zM73 192h1v1h-1zM74 193h1v1h-1zM75 193h1v1h-1zM76 193h1v1h-1zM77 193h1v1h-1zM78 193h1v1h-1zM79 193h1v1h-1zM80 193h1v1h-1zM81 193h1v1h-1zM82 193h1v1h-1zM83 193h1v1h-1zM84 193h1v1h-1zM85 193h1v1h-1zM86 193h1v1h-1zM87 193h1v1h-1zM88 193h1v1h-1zM89 193h1v1h-1zM90 193h1v1h-1zM91 193h1v1h-1zM92 193h1v1h-1zM93 193h1v1h-1zM94 193h1v1h-1zM95 193h1v1h-1zM96 193h1v1h-1zM97 193h1v1h-1zM98 194h1v1h-1zM99 194h1v1h-1zM100 194h1v1h-1zM101 194h1v1h-1zM102 195h1v1h-1zM103 195h1v1h-1zM104 195h1v1h-1zM105 196h1v1h-1zM106 196h1v1h-1zM107 197h1v1h-1zM108 197h1v1h-1zM109 198h1v1h-1zM110 198h1v1h-1zM111 199h1v1h-1zM112 199h1v1h-1zM113 200h1v1h-1zM114 201h1v1h-1zM115 201h1v1h-1zM116 202h1v1h-1zM117 203h1v1h-1zM118 203h1v1h-1zM119 204h1v1h-1zM120 204h1v1h-1zM121 205h1v1h-1zM122 206h1v1h-1zM123 206h1v1h-1zM124 207h1v1h-1zM125 208h1v1h-1zM126 208h1v1h-1zM127 209h1v1h-1zM128 209h1v1h-1zM129 209h1v1h-1zM130 210h1v1h-1zM131 210h1v1h-1zM132 210h1v1h-1zM133 210h1v1h-1zM134 211h1v1h-1zM135 211h1v1h-1zM136 211h1v1h-1zM137 211h1v1h-1zM138 212h1v1h-1zM139 212h1v1h-1zM140 212h1v1h-1zM141 212h1v1h-1zM142 213h1v1h-1zM143 213h1v1h-1zM144 213h1v1h-1zM145 213h1v1h-1zM146 214h1v1h-1zM147 214h1v1h-1zM148 214h1v1h-1zM149 214h1v1h-1zM150 215h1v1h-1zM151 215h1v1h-1zM152 215h1v1h-1zM153 215h1v1h-1zM154 215h1v1h-1zM155 215h1v1h-1zM156 215h1v1h-1zM157 215h1v1h-1zM158 215h1v1h-1zM159 215h1v1h-1zM160 215h1v1h-1zM161 215h1v1h-1zM162 214h1v1h-1zM163 214h1v1h-1zM164 214h1v1h-1zM165 214h1v1h-1zM166 214h1v1h-1zM167 214h1v1h-1zM168 214h1v1h-1zM169 214h1v1h-1zM170 213h1v1h-1zM171 213h1v1h-1zM172 213h1v1h-1zM173 213h1v1h-1zM174 213h1v1h-1zM175 213h1v1h-1zM176 213h1v1h-1zM177 212h1v1h-1zM178 212h1v1h-1zM179 211h1v1h-1zM180 211h1v1h-1zM181 210h1v1h-1zM182 209h1v1h-1zM183 209h1v1h-1zM184 208h1v1h-1zM185 207h1v1h-1zM186 207h1v1h-1zM187 206h1v1h-1zM188 206h1v1h-1zM189 205h1v1h-1zM190 205h1v1h-1zM191 204h1v1h-1zM192 204h1v1h-1zM193 203h1v1h-1zM194 202h1v1h-1zM195 202h1v1h-1zM196 201h1v1h-1zM197 200h1v1h-1zM198 200h1v1h-1zM199 199h1v1h-1zM200 199h1v1h-1zM201 199h1v1h-1zM202 198h1v1h-1zM203 198h1v1h-1zM204 198h1v1h-1zM205 198h1v1h-1zM206 199h1v1h-1zM207 199h1v1h-1zM208 199h1v1h-1zM209 199h1v1h-1zM210 199h1v1h-1zM211 199h1v1h-1zM212 199h1v1h-1zM213 199h1v1h-1zM214 199h1v1h-1zM215 199h1v1h-1zM216 199h1v1h-1zM217 199h1v1h-1zM218 200h1v1h-1zM219 200h1v1h-1zM220 200h1v1h-1zM221 200h1v1h-1zM222 199h1v1h-1zM223 199h1v1h-1zM224 199h1v1h-1zM225 198h1v1h-1zM226 198h1v1h-1zM227 197h1v1h-1zM228 197h1v1h-1zM229 196h1v1h-1zM230 195h1v1h-1zM231 195h1v1h-1zM232 194h1v1h-1zM233 193h1v1h-1zM234 192h1v1h-1zM235 191h1v1h-1zM236 190h1v1h-1zM237 189h1v1h-1zM238 188h1v1h-1zM239 187h1v1h-1zM240 186h1v1h-1zM241 185h1v1h-1zM242 184h1v1h-1zM243 183h1v1h-1zM244 182h1v1h-1zM245 181h1v1h-1zM246 180h1v1h-1zM247 179h1v1h-1zM248 178h1v1h-1zM249 177h1v1h-1zM250 176h1v1h-1zM251 175h1v1h-1zM252 174h1v1h-1zM253 173h1v1h-1zM254 172h1v1h-1zM255 172h1v1h-1zM256 171h1v1h-1zM257 170h1v1h-1zM258 169h1v1h-1zM259 169h1v1h-1zM260 168h1v1h-1zM261 167h1v1h-1zM262 167h1v1h-1zM263 166h1v1h-1zM264 166h1v1h-1zM265 165h1v1h-1zM266 164h1v1h-1zM267 164h1v1h-1zM268 163h1v1h-1zM269 162h1v1h-1zM270 162h1v1h-1zM271 161h1v1h-1zM272 161h1v1h-1zM273 160h1v1h-1zM274 159h1v1h-1zM275 159h1v1h-1zM276 158h1v1h-1zM277 158h1v1h-1zM278 157h1v1h-1zM279 157h1v1h-1zM280 157h1v1h-1zM281 157h1v1h-1zM282 156h1v1h-1zM283 156h1v1h-1zM284 156h1v1h-1zM285 156h1v1h-1zM286 156h1v1h-1zM287 156h1v1h-1zM288 156h1v1h-1zM289 156h1v1h-1zM290 157h1v1h-1zM291 157h1v1h-1zM292 157h1v1h-1zM293 157h1v1h-1zM294 156h1v1h-1zM295 156h1v1h-1zM296 156h1v1h-1zM297 156h1v1h-1zM298 157h1v1h-1zM299 157h1v1h-1zM300 157h1v1h-1zM301 157h1v1h-1zM302 158h1v1h-1zM303 158h1v1h-1zM304 158h1v1h-1zM305 158h1v1h-1zM306 159h1v1h-1zM307 159h1v1h-1zM308 159h1v1h-1zM309 159h1v1h-1zM310 160h1v1h-1zM311 160h1v1h-1zM312 160h1v1h-1zM313 161h1v1h-1zM314 161h1v1h-1zM315 162h1v1h-1zM316 162h1v1h-1zM317 163h1v1h-1zM318 163h1v1h-1zM319 164h1v1h-1zM320 164h1v1h-1zM321 164h1v1h-1zM322 165h1v1h-1zM323 165h1v1h-1zM324 165h1v1h-1zM325 165h1v1h-1zM326 165h1v1h-1zM327 165h1v1h-1zM328 165h1v1h-1zM329 165h1v1h-1zM330 164h1v1h-1zM331 164h1v1h-1zM332 164h1v1h-1zM333 164h1v1h-1zM334 165h1v1h-1zM335 165h1v1h-1zM336 165h1v1h-1zM337 165h1v1h-1zM338 165h1v1h-1zM339 165h1v1h-1zM340 165h1v1h-1zM341 166h1v1h-1zM342 166h1v1h-1zM343 167h1v1h-1zM344 167h1v1h-1zM345 168h1v1h-1zM346 168h1v1h-1zM347 169h1v1h-1zM348 169h1v1h-1zM349 170h1v1h-1zM350 171h1v1h-1zM351 172h1v1h-1zM352 173h1v1h-1zM353 174h1v1h-1zM354 175h1v2h-1zM355 177h1v1h-1zM356 178h1v1h-1zM357 179h1v1h-1zM358 180h1v1h-1zM359 181h1v1h-1zM360 182h1v1h-1zM361 183h1v1h-1zM362 184h1v1h-1zM363 185h1v1h-1zM364 186h1v1h-1zM365 187h1v1h-1zM366 188h1v2h-1zM367 190h1v1h-1zM368 191h1v1h-1zM369 192h1v2h-1zM370 194h1v1h-1zM371 195h1v2h-1zM372 197h1v1h-1zM373 198h1v1h-1zM374 199h1v2h-1zM375 201h1v1h-1zM376 202h1v1h-1zM377 203h1v1h-1zM378 204h1v1h-1zM379 205h1v1h-1zM380 206h1v1h-1zM381 207h1v1h-1zM382 208h1v1h-1zM383 208h1v1h-1zM384 209h1v1h-1zM385 209h1v1h-1zM386 210h1v1h-1zM387 210h1v1h-1zM388 210h1v1h-1zM389 210h1v1h-1zM390 211h1v1h-1zM391 211h1v1h-1zM392 211h1v1h-1zM393 211h1v1h-1zM394 212h1v1h-1zM395 212h1v1h-1zM396 212h1v1h-1zM397 212h1v1h-1zM398 212h1v1h-1zM399 212h1v1h-1zM400 212h1v1h-1zM401 212h1v1h-1zM402 213h1v1h-1zM403 213h1v1h-1zM404 213h1v1h-1zM405 213h1v1h-1zM406 213h1v1h-1zM407 213h1v1h-1zM408 213h1v1h-1zM409 213h1v1h-1zM410 213h1v1h-1zM411 213h1v1h-1zM412 213h1v1h-1zM413 214h1v1h-1zM414 214h1v1h-1zM415 215h1v1h-1zM416 215h1v1h-1zM417 216h1v1h-1zM418 217h1v1h-1zM419 217h1v1h-1zM420 218h1v1h-1zM421 219h1v1h-1zM422 220h1v1h-1zM423 220h1v1h-1zM424 221h1v1h-1zM425 222h1v1h-1zM426 223h1v1h-1zM427 223h1v1h-1zM428 224h1v1h-1zM429 225h1v1h-1zM430 226h1v1h-1zM431 226h1v1h-1zM432 227h1v1h-1zM433 228h1v1h-1zM434 228h1v1h-1zM435 229h1v1h-1zM436 229h1v1h-1zM437 230h1v1h-1zM438 231h1v1h-1zM439 231h1v1h-1zM440 232h1v1h-1zM441 233h1v1h-1zM442 233h1v1h-1zM443 234h1v1h-1zM444 234h1v1h-1zM445 234h1v1h-1zM446 235h1v1h-1zM447 235h1v1h-1zM448 235h1v1h-1zM449 236h1v1h-1zM450 236h1v1h-1zM451 237h1v1h-1zM452 237h1v1h-1zM453 238h1v1h-1zM454 238h1v1h-1zM455 239h1v1h-1zM456 239h1v1h-1zM457 239h1v1h-1zM458 240h1v1h-1zM459 240h1v1h-1zM460 240h1v1h-1zM461 240h1v1h-1zM462 241h1v1h-1zM463 241h1v1h-1zM464 241h1v1h-1zM465 242h1v1h-1zM466 242h1v1h-1zM467 243h1v1h-1zM468 243h1v1h-1zM469 244h1v1h-1zM470 244h1v1h-1zM471 245h1v1h-1zM472 245h1v1h-1zM473 246h1v1h-1zM474 247h1v1h-1zM475 247h1v1h-1zM476 248h1v1h-1zM477 249h1v1h-1zM478 250h1v1h-1zM479 250h1v1h-1zM480 251h1v1h-1zM481 252h1v1h-1zM482 253h1v1h-1zM483 253h1v1h-1zM484 254h1v1h-1zM485 255h1v1h-1zM486 255h1v1h-1zM487 256h1v1h-1zM488 256h1v1h-1zM489 256h1v1h-1zM490 257h1v1h-1zM491 257h1v1h-1zM492 257h1v1h-1zM493 257h1v1h-1zM494 258h1v1h-1zM495 258h1v1h-1zM496 258h1v1h-1zM497 259h1v1h-1zM498 259h1v1h-1zM499 260h1v1h-1zM500 260h1v1h-1zM501 261h1v1h-1zM502 261h1v1h-1zM503 262h1v1h-1zM504 262h1v1h-1zM505 263h1v1h-1zM506 264h1v1h-1zM507 264h1v1h-1zM508 265h1v1h-1zM509 266h1v1h-1zM510 267h1v2h-1zM511 269h1v1h-1zM512 270h1v1h-1zM513 271h1v1h-1zM514 271h1v1h-1zM515 272h1v1h-1zM516 272h1v1h-1zM517 273h1v1h-1zM518 273h1v1h-1zM519 274h1v1h-1zM520 274h1v1h-1zM521 275h1v1h-1zM522 276h1v1h-1zM523 276h1v1h-1zM524 277h1v1h-1zM525 278h1v1h-1zM526 279h1v1h-1zM527 280h1v1h-1zM528 281h1v1h-1zM529 282h1v1h-1zM530 282h1v1h-1zM531 283h1v1h-1zM532 283h1v1h-1zM533 284h1v1h-1zM534 284h1v1h-1zM535 285h1v1h-1zM536 285h1v1h-1zM537 285h1v1h-1zM538 286h1v1h-1zM539 286h1v1h-1zM540 286h1v1h-1zM541 287h1v1h-1zM542 287h1v1h-1zM543 288h1v1h-1zM544 288h1v1h-1zM545 288h1v1h-1zM546 289h1v1h-1zM547 289h1v1h-1zM548 289h1v1h-1zM549 290h1v1h-1zM550 290h1v1h-1zM551 291h1v1h-1zM552 291h1v1h-1zM553 292h1v1h-1zM554 292h1v1h-1zM555 293h1v1h-1zM556 293h1v1h-1zM557 294h1v1h-1zM558 294h1v1h-1zM559 295h1v1h-1zM560 295h1v1h-1zM561 296h1v1h-1zM562 297h1v1h-1zM563 297h1v1h-1zM564 298h1v1h-1zM565 299h1v1h-1zM566 300h1v1h-1zM567 301h1v1h-1zM568 302h1v1h-1zM569 303h1v1h-1zM570 304h1v1h-1zM571 304h1v1h-1zM572 305h1v1h-1zM573 306h1v1h-1zM574 307h1v1h-1zM575 308h1v1h-1zM576 309h1v1h-1zM577 310h1v1h-1zM578 311h1v1h-1zM579 311h1v1h-1zM580 312h1v1h-1zM581 313h1v1h-1zM582 314h1v1h-1zM583 314h1v1h-1zM584 315h1v1h-1zM585 315h1v1h-1zM586 316h1v1h-1zM587 316h1v1h-1zM588 316h1v1h-1zM589 316h1v1h-1zM590 316h1v1h-1zM591 316h1v1h-1zM592 316h1v1h-1zM593 316h1v1h-1zM594 316h1v1h-1zM595 316h1v1h-1zM596 316h1v1h-1zM597 316h1v1h-1zM598 316h1v1h-1zM599 316h1v1h-1zM600 316h1v1h-1zM601 316h1v1h-1zM602 316h1v1h-1zM603 316h1v1h-1zM604 316h1v1h-1zM605 316h1v1h-1zM606 317h1v1h-1zM607 317h1v1h-1zM608 317h1v1h-1zM609 317h1v1h-1zM610 317h1v1h-1zM611 317h1v1h-1zM612 317h1v1h-1zM613 317h1v1h-1zM614 317h1v1h-1zM615 317h1v1h-1zM616 317h1v1h-1zM617 317h1v1h-1zM618 317h1v1h-1zM619 317h1v1h-1zM620 317h1v1h-1zM621 317h1v1h-1zM622 317h1v1h-1zM623 317h1v1h-1zM624 317h1v1h-1zM625 317h1v1h-1zM626 317h1v1h-1zM627 317h1v1h-1zM628 317h1v1h-1zM629 317h1v1h-1zM630 316h1v1h-1zM631 316h1v1h-1zM632 316h1v1h-1zM633 316h1v1h-1zM634 315h1v1h-1zM635 315h1v1h-1zM636 315h1v1h-1zM637 315h1v1h-1zM638 314h1v1h-1zM639 314h1v1h-1zM640 314h1v1h-1zM641 313h1v1h-1zM642 313h1v1h-1zM643 312h1v1h-1zM644 312h1v1h-1zM645 311h1v1h-1zM646 310h1v1h-1zM647 310h1v1h-1zM648 309h1v1h-1zM649 309h1v1h-1zM650 308h1v1h-1zM651 308h1v1h-1zM652 308h1v1h-1zM653 308h1v1h-1zM654 307h1v1h-1zM655 307h1v1h-1zM656 307h1v1h-1zM657 307h1v1h-1zM658 306h1v1h-1zM659 306h1v1h-1zM660 306h1v1h-1zM661 305h1v1h-1zM662 305h1v1h-1zM663 304h1v1h-1zM664 304h1v1h-1zM665 304h1v1h-1zM666 303h1v1h-1zM667 303h1v1h-1zM668 303h1v1h-1zM669 302h1v1h-1zM670 302h1v1h-1zM671 301h1v1h-1zM672 301h1v1h-1zM673 300h1v1h-1zM674 300h1v1h-1zM675 299h1v1h-1zM676 299h1v1h-1zM677 298h1v1h-1zM678 297h1v1h-1zM679 297h1v1h-1zM680 296h1v1h-1zM681 295h1v1h-1zM682 294h1v1h-1zM683 293h1v1h-1zM684 292h1v1h-1zM685 291h1v1h-1zM686 290h1v1h-1zM687 289h1v1h-1zM688 288h1v1h-1zM689 287h1v1h-1zM690 286h1v1h-1zM691 285h1v1h-1zM692 284h1v1h-1zM693 283h1v1h-1zM694 281h1v2h-1zM695 280h1v1h-1zM696 279h1v1h-1zM697 278h1v1h-1zM698 278h1v1h-1zM699 277h1v1h-1zM700 277h1v1h-1zM701 276h1v1h-1zM702 275h1v1h-1zM703 275h1v1h-1zM704 274h1v1h-1zM705 274h1v1h-1zM706 273h1v1h-1zM707 273h1v1h-1zM708 273h1v1h-1zM709 273h1v1h-1zM710 272h1v1h-1zM711 272h1v1h-1zM712 272h1v1h-1zM713 272h1v1h-1zM714 272h1v1h-1zM715 272h1v1h-1zM716 272h1v1h-1zM717 272h1v1h-1zM718 271h1v1h-1zM719 271h1v1h-1zM720 271h1v1h-1zM721 271h1v1h-1zM722 270h1v1h-1zM723 270h1v1h-1zM724 270h1v1h-1zM725 270h1v1h-1zM726 269h1v1h-1zM727 269h1v1h-1zM728 269h1v1h-1zM729 269h1v1h-1zM730 269h1v1h-1zM731 269h1v1h-1zM732 269h1v1h-1zM733 269h1v1h-1zM734 269h1v1h-1zM735 269h1v1h-1zM736 269h1v1h-1zM737 269h1v1h-1zM738 269h1v1h-1zM739 269h1v1h-1zM740 269h1v1h-1zM741 269h1v1h-1zM742 268h1v1h-1zM743 268h1v1h-1zM744 268h1v1h-1zM745 268h1v1h-1zM746 267h1v1h-1zM747 267h1v1h-1zM748 267h1v1h-1zM749 267h1v1h-1zM750 267h1v1h-1zM751 267h1v1h-1zM752 267h1v1h-1zM753 267h1v1h-1zM754 268h1v1h-1zM755 268h1v1h-1zM756 268h1v1h-1zM757 269h1v1h-1zM758 270h1v1h-1zM759 270h1v1h-1zM760 271h1v1h-1zM761 272h1v1h-1zM762 272h1v1h-1zM763 273h1v1h-1zM764 273h1v1h-1zM765 274h1v1h-1zM766 274h1v1h-1zM767 275h1v1h-1zM768 275h1v1h-1zM769 276h1v1h-1zM770 277h1v1h-1zM771 277h1v1h-1zM772 278h1v1h-1zM773 279h1v1h-1zM774 279h1v1h-1zM775 280h1v1h-1zM776 280h1v1h-1zM777 281h1v1h-1zM778 281h1v1h-1zM779 282h1v1h-1zM780 282h1v1h-1zM781 282h1v1h-1zM782 283h1v1h-1zM783 283h1v1h-1zM784 283h1v1h-1zM785 283h1v1h-1zM786 284h1v1h-1zM787 284h1v1h-1zM788 284h1v1h-1zM789 284h1v1h-1zM790 284h1v1h-1zM791 284h1v1h-1zM792 284h1v1h-1zM793 284h1v1h-1zM794 285h1v1h-1zM795 285h1v1h-1zM796 285h1v1h-1zM797 285h1v1h-1zM798 286h1v1h-1zM799 286h1v1h-1zM800 286h1v1h-1zM801 286h1v1h-1zM802 287h1v1h-1zM803 287h1v1h-1zM804 287h1v1h-1zM805 288h1v1h-1zM806 288h1v1h-1zM807 289h1v1h-1zM808 289h1v1h-1zM809 290h1v1h-1zM810 290h1v1h-1zM811 291h1v1h-1zM812 291h1v1h-1zM813 292h1v1h-1zM814 292h1v1h-1zM815 293h1v1h-1zM816 293h1v1h-1zM817 293h1v1h-1zM818 292h1v1h-1zM819 292h1v1h-1zM820 292h1v1h-1zM821 292h1v1h-1zM822 292h1v1h-1zM823 292h1v1h-1zM824 292h1v1h-1zM825 292h1v1h-1zM826 291h1v1h-1zM827 291h1v1h-1zM828 291h1v1h-1zM829 290h1v1h-1zM830 290h1v1h-1zM831 289h1v1h-1zM832 289h1v1h-1zM833 288h1v1h-1zM834 288h1v1h-1zM835 287h1v1h-1zM836 287h1v1h-1zM837 286h1v1h-1zM838 286h1v1h-1zM839 285h1v1h-1zM840 285h1v1h-1zM841 284h1v1h-1zM842 283h1v1h-1zM843 283h1v1h-1zM844 282h1v1h-1zM845 281h1v1h-1zM846 281h1v1h-1zM847 280h1v1h-1zM848 280h1v1h-1zM849 279h1v1h-1zM850 279h1v1h-1zM851 278h1v1h-1zM852 278h1v1h-1zM853 278h1v1h-1zM854 277h1v1h-1zM855 277h1v1h-1zM856 277h1v1h-1zM857 277h1v1h-1zM858 277h1v1h-1zM859 277h1v1h-1zM860 277h1v1h-1zM861 277h1v1h-1zM862 277h1v1h-1zM863 277h1v1h-1zM864 277h1v1h-1zM865 277h1v1h-1zM866 277h1v1h-1zM867 277h1v1h-1zM868 277h1v1h-1zM869 277h1v1h-1zM870 277h1v1h-1zM871 277h1v1h-1zM872 277h1v1h-1zM873 277h1v1h-1zM874 276h1v1h-1zM875 276h1v1h-1zM876 276h1v1h-1zM877 275h1v1h-1zM878 275h1v1h-1zM879 274h1v1h-1zM880 274h1v1h-1zM881 273h1v1h-1zM882 272h1v1h-1zM883 272h1v1h-1zM884 271h1v1h-1zM885 270h1v1h-1zM886 269h1v1h-1zM887 268h1v1h-1zM888 267h1v1h-1zM889 266h1v1h-1zM890 265h1v1h-1zM891 264h1v1h-1zM892 263h1v1h-1zM893 262h1v1h-1zM894 261h1v1h-1zM895 260h1v1h-1zM896 259h1v1h-1zM897 258h1v1h-1zM898 257h1v1h-1zM899 257h1v1h-1zM900 256h1v1h-1zM901 255h1v1h-1zM902 254h1v1h-1zM903 254h1v1h-1zM904 253h1v1h-1zM905 252h1v1h-1zM906 252h1v1h-1zM907 251h1v1h-1zM908 251h1v1h-1zM909 250h1v1h-1zM910 249h1v1h-1zM911 249h1v1h-1zM912 248h1v1h-1zM913 248h1v1h-1zM914 247h1v1h-1zM915 247h1v1h-1zM916 247h1v1h-1zM917 247h1v1h-1zM918 247h1v1h-1zM919 247h1v1h-1zM920 247h1v1h-1zM921 247h1v1h-1zM922 247h1v1h-1zM923 247h1v1h-1zM924 247h1v1h-1zM925 246h1v1h-1zM926 246h1v1h-1zM927 245h1v1h-1zM928 245h1v1h-1zM929 245h1v1h-1zM930 244h1v1h-1zM931 244h1v1h-1zM932 244h1v1h-1zM933 244h1v1h-1zM934 243h1v1h-1zM935 243h1v1h-1zM936 243h1v1h-1zM937 243h1v1h-1zM938 242h1v1h-1zM939 242h1v1h-1zM940 242h1v1h-1zM941 242h1v1h-1zM942 241h1v1h-1zM943 241h1v1h-1zM944 241h1v1h-1zM945 241h1v1h-1zM946 241h1v1h-1zM947 241h1v1h-1zM948 241h1v1h-1zM949 241h1v1h-1zM950 241h1v1h-1zM951 241h1v1h-1zM952 241h1v1h-1zM953 241h1v1h-1zM954 242h1v1h-1zM955 242h1v1h-1zM956 242h1v1h-1zM957 242h1v1h-1zM958 243h1v1h-1zM959 243h1v1h-1zM960 243h1v1h-1zM961 243h1v1h-1zM962 244h1v1h-1zM963 244h1v1h-1zM964 244h1v1h-1zM965 244h1v1h-1zM966 245h1v1h-1zM967 245h1v1h-1zM968 245h1v1h-1zM969 245h1v1h-1zM970 246h1v1h-1zM971 246h1v1h-1zM972 246h1v1h-1zM973 247h1v1h-1zM974 247h1v1h-1zM975 248h1v1h-1zM976 248h1v1h-1zM977 248h1v1h-1zM978 248h1v1h-1zM979 248h1v1h-1zM980 248h1v1h-1zM981 249h1v1h-1zM982 249h1v1h-1zM983 250h1v1h-1zM984 250h1v1h-1zM985 250h1v1h-1zM986 251h1v1h-1zM987 251h1v1h-1zM988 251h1v1h-1zM989 252h1v1h-1zM990 252h1v1h-1zM991 253h1v1h-1zM992 253h1v1h-1zM993 253h1v1h-1zM994 254h1v1h-1zM995 254h1v1h-1zM996 254h1v1h-1zM997 254h1v1h-1zM998 255h1v1h-1zM999 255h1v1h-1zM1000 255h1v1h-1zM1001 256h1v1h-1zM1002 256h1v1h-1zM1003 257h1v1h-1zM1004 257h1v1h-1zM1005 258h1v1h-1zM1006 259h1v1h-1zM1007 259h1v1h-1zM1008 260h1v1h-1zM1009 261h1v1h-1zM1010 262h1v1h-1zM1011 262h1v1h-1zM1012 263h1v1h-1zM1013 264h1v1h-1zM1014 265h1v1h-1zM1015 266h1v1h-1zM1016 267h1v1h-1zM1017 268h1v1h-1zM1018 269h1v1h-1zM1019 270h1v1h-1zM1020 271h1v1h-1zM1021 272h1v1h-1zM1022 273h1v1h-1zM1023 274h1v1h-1zM1024 275h1v1h-1zM1025 276h1v1h-1zM1026 277h1v1h-1zM1027 278h1v1h-1zM1028 279h1v1h-1zM1029 280h1v1h-1zM1030 281h1v2h-1zM1031 283h1v1h-1zM1032 284h1v1h-1zM1033 285h1v1h-1zM1034 286h1v1h-1zM1035 287h1v1h-1zM1036 288h1v1h-1zM1037 289h1v1h-1zM1038 290h1v1h-1zM1039 291h1v1h-1zM1040 292h1v1h-1zM1041 293h1v1h-1zM1042 294h1v2h-1zM1043 296h1v1h-1zM1044 297h1v1h-1zM1045 298h1v1h-1zM1046 299h1v2h-1zM1047 301h1v1h-1zM1048 302h1v1h-1zM1049 303h1v1h-1zM1050 304h1v2h-1zM1051 306h1v1h-1zM1052 307h1v1h-1zM1053 308h1v2h-1zM1054 310h1v1h-1zM1055 311h1v2h-1zM1056 313h1v1h-1zM1057 314h1v1h-1zM1058 315h1v2h-1zM1059 317h1v1h-1zM1060 318h1v1h-1zM1061 319h1v2h-1zM1062 321h1v2h-1zM1063 323h1v2h-1zM1064 325h1v1h-1zM1065 326h1v2h-1zM1066 328h1v1h-1zM1067 329h1v2h-1zM1068 331h1v1h-1zM1069 332h1v1h-1zM1070 333h1v1h-1zM1071 334h1v1h-1zM1072 335h1v1h-1zM1073 336h1v1h-1zM1074 337h1v1h-1zM1075 338h1v1h-1zM1076 339h1v1h-1zM1077 340h1v1h-1zM1078 341h1v1h-1zM1079 342h1v1h-1zM1080 343h1v1h-1zM1081 344h1v1h-1zM1082 345h1v2h-1zM1083 347h1v1h-1zM1084 348h1v1h-1zM1085 349h1v1h-1zM1086 350h1v1h-1zM1087 350h1v1h-1zM1088 351h1v1h-1zM1089 352h1v1h-1zM1090 352h1v1h-1zM1091 353h1v1h-1zM1092 353h1v1h-1zM1093 353h1v1h-1zM1094 353h1v1h-1zM1095 353h1v1h-1zM1096 353h1v1h-1zM1097 353h1v1h-1zM1098 353h1v1h-1zM1099 353h1v1h-1zM1100 353h1v1h-1zM1101 352h1v1h-1zM1102 352h1v1h-1zM1103 351h1v1h-1zM1104 351h1v1h-1zM1105 350h1v1h-1zM1106 349h1v1h-1zM1107 349h1v1h-1zM1108 348h1v1h-1zM1109 347h1v1h-1zM1110 346h1v1h-1zM1111 346h1v1h-1zM1112 345h1v1h-1zM1113 344h1v1h-1zM1114 343h1v1h-1zM1115 343h1v1h-1zM1116 342h1v1h-1zM1117 341h1v1h-1zM1118 340h1v1h-1zM1119 339h1v1h-1zM1120 338h1v1h-1zM1121 337h1v1h-1zM1122 336h1v1h-1zM1123 335h1v1h-1zM1124 334h1v1h-1zM1125 332h1v2h-1zM1126 330h1v2h-1zM1127 328h1v2h-1zM1128 327h1v1h-1zM1129 326h1v1h-1zM1130 324h1v2h-1zM1131 323h1v1h-1zM1132 322h1v1h-1zM1133 321h1v1h-1zM1134 319h1v2h-1zM1135 318h1v1h-1zM1136 317h1v1h-1zM1137 316h1v1h-1zM1138 316h1v1h-1zM1139 315h1v1h-1zM1140 315h1v1h-1zM1141 314h1v1h-1zM1142 314h1v1h-1zM1143 313h1v1h-1zM1144 313h1v1h-1zM1145 312h1v1h-1zM1146 312h1v1h-1zM1147 311h1v1h-1zM1148 311h1v1h-1zM1149 310h1v1h-1zM1150 309h1v1h-1zM1151 308h1v1h-1zM1152 307h1v1h-1zM1153 307h1v1h-1zM1154 306h1v1h-1zM1155 306h1v1h-1zM1156 306h1v1h-1zM1157 306h1v1h-1zM1158 307h1v1h-1zM1159 307h1v1h-1zM1160 307h1v1h-1zM1161 308h1v1h-1zM1162 309h1v1h-1zM1163 309h1v1h-1zM1164 310h1v1h-1zM1165 311h1v1h-1zM1166 311h1v1h-1zM1167 312h1v1h-1zM1168 312h1v1h-1zM1169 313h1v1h-1zM1170 314h1v1h-1zM1171 315h1v1h-1zM1172 316h1v1h-1zM1173 316h1v1h-1zM1174 317h1v1h-1zM1175 317h1v1h-1zM1176 317h1v1h-1zM1177 317h1v1h-1zM1178 318h1v1h-1zM1179 318h1v1h-1zM1180 318h1v1h-1zM1181 318h1v1h-1zM1182 317h1v1h-1zM1183 317h1v1h-1zM1184 317h1v1h-1zM1185 316h1v1h-1zM1186 315h1v1h-1zM1187 314h1v1h-1zM1188 313h1v1h-1zM1189 312h1v1h-1zM1190 311h1v1h-1zM1191 310h1v1h-1zM1192 309h1v1h-1zM1193 308h1v1h-1zM1194 306h1v2h-1zM1195 305h1v1h-1zM1196 304h1v1h-1zM1197 303h1v1h-1zM1198 302h1v1h-1zM1199 302h1v1h-1zM1200 301h1v1h-1zM1201 300h1v1h-1zM1202 300h1v1h-1zM1203 299h1v1h-1zM1204 299h1v1h-1zM1205 298h1v1h-1zM1206 298h1v1h-1zM1207 297h1v1h-1zM1208 297h1v1h-1zM1209 298h1v1h-1zM1210 299h1v1h-1zM1211 299h1v1h-1zM1212 300h1v1h-1zM1213 301h1v1h-1zM1214 302h1v1h-1zM1215 302h1v1h-1zM1216 303h1v1h-1zM1217 304h1v1h-1zM1218 305h1v1h-1zM1219 306h1v1h-1zM1220 307h1v1h-1zM1221 308h1v2h-1zM1222 310h1v1h-1zM1223 311h1v2h-1zM1224 313h1v1h-1zM1225 314h1v1h-1zM1226 315h1v2h-1zM1227 317h1v1h-1zM1228 318h1v1h-1zM1229 319h1v1h-1zM1230 320h1v2h-1zM1231 322h1v1h-1zM1232 323h1v1h-1zM1233 324h1v1h-1zM1234 325h1v2h-1zM1235 327h1v1h-1zM1236 328h1v1h-1zM1237 329h1v2h-1zM1238 331h1v2h-1zM1239 333h1v2h-1zM1240 335h1v1h-1zM1241 336h1v2h-1zM1242 338h1v2h-1zM1243 340h1v2h-1zM1244 342h1v2h-1zM1245 344h1v2h-1zM1246 346h1v2h-1zM1247 348h1v2h-1zM1248 350h1v2h-1zM1249 352h1v2h-1zM1250 354h1v2h-1zM1251 356h1v2h-1zM1252 358h1v1h-1zM1253 359h1v2h-1zM1254 361h1v2h-1zM1255 363h1v2h-1zM1256 365h1v1h-1zM1257 366h1v1h-1zM1258 367h1v1h-1zM1259 368h1v1h-1zM1260 369h1v1h-1zM1261 370h1v1h-1zM1262 371h1v1h-1zM1263 372h1v1h-1zM1264 373h1v1h-1zM1265 374h1v1h-1zM1266 375h1v1h-1zM1267 375h1v1h-1zM1268 376h1v1h-1z" fill="#0000cd" shape-rendering="crispEdges"/>
<path clip-path="url(#cm)" d="M4 177h1v1h-1zM5 176h1v1h-1zM6 176h1v1h-1zM7 175h1v1h-1zM8 175h1v1h-1zM9 175h1v1h-1zM10 174h1v1h-1zM11 174h1v1h-1zM12 174h1v1h-1zM13 174h1v1h-1zM14 173h1v1h-1zM15 173h1v1h-1zM16 173h1v1h-1zM17 173h1v1h-1zM18 172h1v1h-1zM19 172h1v1h-1zM20 172h1v1h-1zM21 172h1v1h-1zM22 171h1v1h-1zM23 171h1v1h-1zM24 171h1v1h-1zM25 171h1v1h-1zM26 172h1v1h-1zM27 172h1v1h-1zM28 172h1v1h-1zM29 173h1v1h-1zM30 173h1v1h-1zM31 174h1v1h-1zM32 174h1v1h-1zM33 175h1v1h-1zM34 176h1v2h-1zM35 178h1v1h-1zM36 179h1v1h-1zM37 180h1v1h-1zM38 181h1v1h-1zM39 182h1v1h-1zM40 183h1v1h-1zM41 184h1v1h-1zM42 185h1v2h-1zM43 187h1v1h-1zM44 188h1v1h-1zM45 189h1v1h-1zM46 190h1v2h-1zM47 192h1v1h-1zM48 193h1v1h-1zM49 194h1v1h-1zM50 195h1v1h-1zM51 196h1v1h-1zM52 197h1v1h-1zM53 198h1v1h-1zM54 198h1v1h-1zM55 199h1v1h-1zM56 199h1v1h-1zM57 200h1v1h-1zM58 201h1v1h-1zM59 202h1v1h-1zM60 203h1v1h-1zM61 204h1v1h-1zM62 205h1v1h-1zM63 206h1v1h-1zM64 207h1v1h-1zM65 208h1v1h-1zM66 208h1v1h-1zM67 209h1v1h-1zM68 209h1v1h-1zM69 209h1v1h-1zM70 210h1v1h-1zM71 210h1v1h-1zM72 210h1v1h-1zM73 211h1v1h-1zM74 212h1v1h-1zM75 212h1v1h-1zM76 213h1v1h-1zM77 214h1v1h-1zM78 214h1v1h-1zM79 215h1v1h-1zM80 215h1v1h-1zM81 215h1v1h-1zM82 214h1v1h-1zM83 214h1v1h-1zM84 214h1v1h-1zM85 213h1v1h-1zM86 213h1v1h-1zM87 212h1v1h-1zM88 212h1v1h-1zM89 211h1v1h-1zM90 210h1v1h-1zM91 210h1v1h-1zM92 209h1v1h-1zM93 208h1v1h-1zM94 207h1v1h-1zM95 207h1v1h-1zM96 206h1v1h-1zM97 205h1v1h-1zM98 205h1v1h-1zM99 204h1v1h-1zM100 204h1v1h-1zM101 203h1v1h-1zM102 203h1v1h-1zM103 202h1v1h-1zM104 202h1v1h-1zM105 202h1v1h-1zM106 203h1v1h-1zM107 203h1v1h-1zM108 203h1v1h-1zM109 204h1v1h-1zM110 205h1v1h-1zM111 205h1v1h-1zM112 206h1v1h-1zM113 206h1v1h-1zM114 207h1v1h-1zM115 207h1v1h-1zM116 207h1v1h-1zM117 207h1v1h-1zM118 208h1v1h-1zM119 208h1v1h-1zM120 208h1v1h-1zM121 208h1v1h-1zM122 209h1v1h-1zM123 209h1v1h-1zM124 209h1v1h-1zM125 210h1v1h-1zM126 210h1v1h-1zM127 211h1v1h-1zM128 211h1v1h-1zM129 211h1v1h-1zM130 211h1v1h-1zM131 211h1v1h-1zM132 211h1v1h-1zM133 211h1v1h-1zM134 212h1v1h-1zM135 212h1v1h-1zM136 212h1v1h-1zM137 212h1v1h-1zM138 212h1v1h-1zM139 212h1v1h-1zM140 212h1v1h-1zM141 213h1v1h-1zM142 213h1v1h-1zM143 214h1v1h-1zM144 214h1v1h-1zM145 215h1v1h-1zM146 216h1v1h-1zM147 216h1v1h-1zM148 217h1v1h-1zM149 218h1v1h-1zM150 219h1v1h-1zM151 219h1v1h-1zM152 220h1v1h-1zM153 221h1v1h-1zM154 222h1v1h-1zM155 222h1v1h-1zM156 223h1v1h-1zM157 224h1v1h-1zM158 224h1v1h-1zM159 225h1v1h-1zM160 225h1v1h-1zM161 225h1v1h-1zM162 225h1v1h-1zM163 225h1v1h-1zM164 225h1v1h-1zM165 225h1v1h-1zM166 224h1v1h-1zM167 224h1v1h-1zM168 224h1v1h-1zM169 223h1v1h-1zM170 222h1v1h-1zM171 221h1v1h-1zM172 220h1v1h-1zM173 219h1v1h-1zM174 219h1v1h-1zM175 218h1v1h-1zM176 218h1v1h-1zM177 216h1v2h-1zM178 215h1v1h-1zM179 213h1v2h-1zM180 212h1v1h-1zM181 210h1v2h-1zM182 209h1v1h-1zM183 207h1v2h-1zM184 206h1v1h-1zM185 204h1v2h-1zM186 202h1v2h-1zM187 200h1v2h-1zM188 199h1v1h-1zM189 198h1v1h-1zM190 197h1v1h-1zM191 196h1v1h-1zM192 195h1v1h-1zM193 194h1v1h-1zM194 193h1v1h-1zM195 192h1v1h-1zM196 191h1v1h-1zM197 190h1v1h-1zM198 188h1v2h-1zM199 187h1v1h-1zM200 186h1v1h-1zM201 185h1v1h-1zM202 184h1v1h-1zM203 183h1v1h-1zM204 182h1v1h-1zM205 181h1v1h-1zM206 180h1v1h-1zM207 180h1v1h-1zM208 179h1v1h-1zM209 178h1v1h-1zM210 177h1v1h-1zM211 177h1v1h-1zM212 176h1v1h-1zM213 175h1v1h-1zM214 174h1v1h-1zM215 174h1v1h-1zM216 173h1v1h-1zM217 173h1v1h-1zM218 172h1v1h-1zM219 172h1v1h-1zM220 172h1v1h-1zM221 172h1v1h-1zM222 172h1v1h-1zM223 172h1v1h-1zM224 172h1v1h-1zM225 171h1v1h-1zM226 171h1v1h-1zM227 170h1v1h-1zM228 170h1v1h-1zM229 169h1v1h-1zM230 168h1v1h-1zM231 167h1v1h-1zM232 166h1v1h-1zM233 165h1v1h-1zM234 164h1v1h-1zM235 164h1v1h-1zM236 163h1v1h-1zM237 162h1v1h-1zM238 162h1v1h-1zM239 161h1v1h-1zM240 161h1v1h-1zM241 160h1v1h-1zM242 160h1v1h-1zM243 159h1v1h-1zM244 159h1v1h-1zM245 158h1v1h-1zM246 157h1v1h-1zM247 157h1v1h-1zM248 156h1v1h-1zM249 155h1v1h-1zM250 155h1v1h-1zM251 154h1v1h-1zM252 154h1v1h-1zM253 153h1v1h-1zM254 152h1v1h-1zM255 152h1v1h-1zM256 151h1v1h-1zM257 150h1v1h-1zM258 149h1v1h-1zM259 148h1v1h-1zM260 147h1v1h-1zM261 146h1v1h-1zM262 145h1v1h-1zM263 144h1v1h-1zM264 143h1v1h-1zM265 142h1v1h-1zM266 141h1v1h-1zM267 140h1v1h-1zM268 139h1v1h-1zM269 139h1v1h-1zM270 138h1v1h-1zM271 138h1v1h-1zM272 138h1v1h-1zM273 137h1v1h-1zM274 136h1v1h-1zM275 135h1v1h-1zM276 134h1v1h-1zM277 134h1v1h-1zM278 134h1v1h-1zM279 134h1v1h-1zM280 134h1v1h-1zM281 135h1v1h-1zM282 136h1v1h-1zM283 136h1v1h-1zM284 137h1v1h-1zM285 138h1v1h-1zM286 139h1v2h-1zM287 141h1v1h-1zM288 142h1v1h-1zM289 143h1v2h-1zM290 145h1v1h-1zM291 146h1v2h-1zM292 148h1v1h-1zM293 149h1v1h-1zM294 150h1v2h-1zM295 152h1v1h-1zM296 153h1v1h-1zM297 154h1v1h-1zM298 155h1v2h-1zM299 157h1v1h-1zM300 158h1v1h-1zM301 159h1v1h-1zM302 160h1v2h-1zM303 162h1v1h-1zM304 163h1v1h-1zM305 164h1v1h-1zM306 165h1v1h-1zM307 166h1v1h-1zM308 167h1v1h-1zM309 168h1v1h-1zM310 169h1v2h-1zM311 171h1v1h-1zM312 172h1v1h-1zM313 173h1v2h-1zM314 175h1v2h-1zM315 177h1v2h-1zM316 179h1v1h-1zM317 180h1v1h-1zM318 181h1v1h-1zM319 181h1v1h-1zM320 182h1v1h-1zM321 183h1v1h-1zM322 184h1v1h-1zM323 184h1v1h-1zM324 185h1v1h-1zM325 186h1v1h-1zM326 186h1v1h-1zM327 187h1v1h-1zM328 187h1v1h-1zM329 188h1v1h-1zM330 188h1v1h-1zM331 189h1v1h-1zM332 189h1v1h-1zM333 189h1v1h-1zM334 189h1v1h-1zM335 189h1v1h-1zM336 189h1v1h-1zM337 190h1v1h-1zM338 191h1v1h-1zM339 191h1v1h-1zM340 192h1v1h-1zM341 193h1v1h-1zM342 194h1v1h-1zM343 194h1v1h-1zM344 195h1v1h-1zM345 196h1v1h-1zM346 196h1v1h-1zM347 197h1v1h-1zM348 197h1v1h-1zM349 198h1v1h-1zM350 199h1v2h-1zM351 201h1v1h-1zM352 202h1v1h-1zM353 203h1v2h-1zM354 205h1v1h-1zM355 206h1v2h-1zM356 208h1v1h-1zM357 209h1v1h-1zM358 210h1v1h-1zM359 211h1v1h-1zM360 212h1v1h-1zM361 213h1v1h-1zM362 214h1v2h-1zM363 216h1v1h-1zM364 217h1v1h-1zM365 218h1v1h-1zM366 219h1v1h-1zM367 220h1v1h-1zM368 221h1v1h-1zM369 222h1v2h-1zM370 224h1v1h-1zM371 225h1v2h-1zM372 227h1v1h-1zM373 228h1v1h-1zM374 229h1v2h-1zM375 231h1v1h-1zM376 232h1v1h-1zM377 233h1v1h-1zM378 234h1v1h-1zM379 235h1v1h-1zM380 236h1v1h-1zM381 236h1v1h-1zM382 237h1v1h-1zM383 237h1v1h-1zM384 237h1v1h-1zM385 237h1v1h-1zM386 238h1v1h-1zM387 238h1v1h-1zM388 238h1v1h-1zM389 238h1v1h-1zM390 237h1v1h-1zM391 237h1v1h-1zM392 237h1v1h-1zM393 236h1v1h-1zM394 236h1v1h-1zM395 235h1v1h-1zM396 235h1v1h-1zM397 234h1v1h-1zM398 233h1v1h-1zM399 233h1v1h-1zM400 232h1v1h-1zM401 231h1v1h-1zM402 231h1v1h-1zM403 230h1v1h-1zM404 230h1v1h-1zM405 229h1v1h-1zM406 228h1v1h-1zM407 227h1v1h-1zM408 226h1v1h-1zM409 225h1v1h-1zM410 225h1v1h-1zM411 224h1v1h-1zM412 224h1v1h-1zM413 224h1v1h-1zM414 223h1v1h-1zM415 223h1v1h-1zM416 223h1v1h-1zM417 224h1v1h-1zM418 224h1v1h-1zM419 225h1v1h-1zM420 225h1v1h-1zM421 226h1v1h-1zM422 226h1v1h-1zM423 227h1v1h-1zM424 227h1v1h-1zM425 227h1v1h-1zM426 226h1v1h-1zM427 226h1v1h-1zM428 226h1v1h-1zM429 226h1v1h-1zM430 226h1v1h-1zM431 226h1v1h-1zM432 226h1v1h-1zM433 226h1v1h-1zM434 227h1v1h-1zM435 227h1v1h-1zM436 227h1v1h-1zM437 228h1v1h-1zM438 229h1v1h-1zM439 230h1v1h-1zM440 231h1v1h-1zM441 232h1v1h-1zM442 233h1v1h-1zM443 234h1v1h-1zM444 235h1v1h-1zM445 236h1v1h-1zM446 237h1v1h-1zM447 238h1v1h-1zM448 239h1v1h-1zM449 240h1v1h-1zM450 241h1v1h-1zM451 241h1v1h-1zM452 242h1v1h-1zM453 243h1v1h-1zM454 244h1v1h-1zM455 245h1v1h-1zM456 246h1v1h-1zM457 247h1v1h-1zM458 248h1v1h-1zM459 249h1v1h-1zM460 250h1v1h-1zM461 251h1v1h-1zM462 252h1v2h-1zM463 254h1v1h-1zM464 255h1v1h-1zM465 256h1v2h-1zM466 258h1v1h-1zM467 259h1v2h-1zM468 261h1v1h-1zM469 262h1v2h-1zM470 264h1v1h-1zM471 265h1v2h-1zM472 267h1v1h-1zM473 268h1v1h-1zM474 269h1v2h-1zM475 271h1v1h-1zM476 272h1v1h-1zM477 273h1v1h-1zM478 274h1v2h-1zM479 276h1v1h-1zM480 277h1v1h-1zM481 278h1v1h-1zM482 279h1v2h-1zM483 281h1v1h-1zM484 282h1v1h-1zM485 283h1v1h-1zM486 284h1v1h-1zM487 284h1v1h-1zM488 285h1v1h-1zM489 286h1v1h-1zM490 286h1v1h-1zM491 287h1v1h-1zM492 287h1v1h-1zM493 288h1v1h-1zM494 288h1v1h-1zM495 289h1v1h-1zM496 289h1v1h-1zM497 290h1v1h-1zM498 290h1v1h-1zM499 291h1v1h-1zM500 291h1v1h-1zM501 292h1v1h-1zM502 293h1v1h-1zM503 294h1v1h-1zM504 295h1v1h-1zM505 296h1v1h-1zM506 297h1v1h-1zM507 298h1v1h-1zM508 299h1v1h-1zM509 300h1v1h-1zM510 301h1v1h-1zM511 302h1v1h-1zM512 303h1v1h-1zM513 303h1v1h-1zM514 304h1v1h-1zM515 304h1v1h-1zM516 304h1v1h-1zM517 304h1v1h-1zM518 304h1v1h-1zM519 304h1v1h-1zM520 304h1v1h-1zM521 304h1v1h-1zM522 304h1v1h-1zM523 304h1v1h-1zM524 304h1v1h-1zM525 304h1v1h-1zM526 303h1v1h-1zM527 303h1v1h-1zM528 303h1v1h-1zM529 302h1v1h-1zM530 301h1v1h-1zM531 300h1v1h-1zM532 299h1v1h-1zM533 298h1v1h-1zM534 297h1v1h-1zM535 297h1v1h-1zM536 296h1v1h-1zM537 295h1v1h-1zM538 294h1v1h-1zM539 294h1v1h-1zM540 293h1v1h-1zM541 293h1v1h-1zM542 294h1v1h-1zM543 294h1v1h-1zM544 294h1v1h-1zM545 294h1v1h-1zM546 295h1v1h-1zM547 295h1v1h-1zM548 295h1v1h-1zM549 296h1v1h-1zM550 296h1v1h-1zM551 297h1v1h-1zM552 297h1v1h-1zM553 297h1v1h-1zM554 298h1v1h-1zM555 298h1v1h-1zM556 298h1v1h-1zM557 299h1v1h-1zM558 300h1v1h-1zM559 301h1v1h-1zM560 302h1v1h-1zM561 303h1v1h-1zM562 304h1v1h-1zM563 305h1v1h-1zM564 306h1v1h-1zM565 307h1v1h-1zM566 307h1v1h-1zM567 308h1v1h-1zM568 308h1v1h-1zM569 309h1v1h-1zM570 310h1v2h-1zM571 312h1v1h-1zM572 313h1v1h-1zM573 314h1v2h-1zM574 316h1v2h-1zM575 318h1v2h-1zM576 320h1v1h-1zM577 321h1v2h-1zM578 323h1v1h-1zM579 324h1v2h-1zM580 326h1v1h-1zM581 327h1v1h-1zM582 327h1v1h-1zM583 328h1v1h-1zM584 328h1v1h-1zM585 329h1v1h-1zM586 330h1v1h-1zM587 330h1v1h-1zM588 331h1v1h-1zM589 332h1v1h-1zM590 333h1v1h-1zM591 333h1v1h-1zM592 334h1v1h-1zM593 335h1v1h-1zM594 335h1v1h-1zM595 336h1v1h-1zM596 336h1v1h-1zM597 336h1v1h-1zM598 337h1v1h-1zM599 337h1v1h-1zM600 337h1v1h-1zM601 338h1v1h-1zM602 338h1v1h-1zM603 339h1v1h-1zM604 339h1v1h-1zM605 339h1v1h-1zM606 340h1v1h-1zM607 340h1v1h-1zM608 340h1v1h-1zM609 340h1v1h-1zM610 339h1v1h-1zM611 339h1v1h-1zM612 339h1v1h-1zM613 338h1v1h-1zM614 337h1v1h-1zM615 337h1v1h-1zM616 336h1v1h-1zM617 335h1v1h-1zM618 334h1v1h-1zM619 333h1v1h-1zM620 332h1v1h-1zM621 331h1v1h-1zM622 330h1v1h-1zM623 329h1v1h-1zM624 328h1v1h-1zM625 327h1v1h-1zM626 326h1v1h-1zM627 326h1v1h-1zM628 325h1v1h-1zM629 323h1v2h-1zM630 321h1v2h-1zM631 319h1v2h-1zM632 318h1v1h-1zM633 316h1v2h-1zM634 314h1v2h-1zM635 312h1v2h-1zM636 310h1v2h-1zM637 308h1v2h-1zM638 306h1v2h-1zM639 304h1v2h-1zM640 302h1v2h-1zM641 300h1v2h-1zM642 298h1v2h-1zM643 296h1v2h-1zM644 295h1v1h-1zM645 293h1v2h-1zM646 292h1v1h-1zM647 290h1v2h-1zM648 289h1v1h-1zM649 287h1v2h-1zM650 286h1v1h-1zM651 284h1v2h-1zM652 283h1v1h-1zM653 281h1v2h-1zM654 280h1v1h-1zM655 278h1v2h-1zM656 277h1v1h-1zM657 275h1v2h-1zM658 274h1v1h-1zM659 272h1v2h-1zM660 271h1v1h-1zM661 270h1v1h-1zM662 269h1v1h-1zM663 268h1v1h-1zM664 267h1v1h-1zM665 266h1v1h-1zM666 266h1v1h-1zM667 265h1v1h-1zM668 265h1v1h-1zM669 264h1v1h-1zM670 264h1v1h-1zM671 263h1v1h-1zM672 263h1v1h-1zM673 262h1v1h-1zM674 261h1v1h-1zM675 261h1v1h-1zM676 260h1v1h-1zM677 259h1v1h-1zM678 258h1v1h-1zM679 257h1v1h-1zM680 256h1v1h-1zM681 255h1v1h-1zM682 254h1v1h-1zM683 253h1v1h-1zM684 252h1v1h-1zM685 251h1v1h-1zM686 250h1v1h-1zM687 249h1v1h-1zM688 248h1v1h-1zM689 248h1v1h-1zM690 247h1v1h-1zM691 247h1v1h-1zM692 247h1v1h-1zM693 247h1v1h-1zM694 246h1v1h-1zM695 246h1v1h-1zM696 246h1v1h-1zM697 247h1v1h-1zM698 248h1v1h-1zM699 249h1v1h-1zM700 250h1v1h-1zM701 251h1v1h-1zM702 252h1v1h-1zM703 252h1v1h-1zM704 253h1v1h-1zM705 254h1v1h-1zM706 255h1v1h-1zM707 255h1v1h-1zM708 256h1v1h-1zM709 257h1v1h-1zM710 258h1v1h-1zM711 259h1v1h-1zM712 260h1v1h-1zM713 261h1v1h-1zM714 262h1v1h-1zM715 262h1v1h-1zM716 263h1v1h-1zM717 264h1v1h-1zM718 264h1v1h-1zM719 265h1v1h-1zM720 265h1v1h-1zM721 266h1v1h-1zM722 267h1v1h-1zM723 267h1v1h-1zM724 268h1v1h-1zM725 269h1v1h-1zM726 270h1v1h-1zM727 270h1v1h-1zM728 271h1v1h-1zM729 272h1v1h-1zM730 273h1v1h-1zM731 274h1v1h-1zM732 275h1v1h-1zM733 276h1v1h-1zM734 277h1v1h-1zM735 277h1v1h-1zM736 278h1v1h-1zM737 279h1v1h-1zM738 280h1v1h-1zM739 281h1v1h-1zM740 282h1v1h-1zM741 283h1v1h-1zM742 284h1v1h-1zM743 284h1v1h-1zM744 285h1v1h-1zM745 286h1v1h-1zM746 287h1v1h-1zM747 288h1v1h-1zM748 289h1v1h-1zM749 290h1v1h-1zM750 291h1v1h-1zM751 291h1v1h-1zM752 292h1v1h-1zM753 292h1v1h-1zM754 292h1v1h-1zM755 292h1v1h-1zM756 292h1v1h-1zM757 293h1v1h-1zM758 293h1v1h-1zM759 294h1v1h-1zM760 294h1v1h-1zM761 294h1v1h-1zM762 295h1v1h-1zM763 295h1v1h-1zM764 295h1v1h-1zM765 295h1v1h-1zM766 295h1v1h-1zM767 295h1v1h-1zM768 295h1v1h-1zM769 295h1v1h-1zM770 295h1v1h-1zM771 295h1v1h-1zM772 295h1v1h-1zM773 296h1v1h-1zM774 296h1v1h-1zM775 297h1v1h-1zM776 297h1v1h-1zM777 297h1v1h-1zM778 297h1v1h-1zM779 297h1v1h-1zM780 297h1v1h-1zM781 297h1v1h-1zM782 296h1v1h-1zM783 296h1v1h-1zM784 296h1v1h-1zM785 296h1v1h-1zM786 296h1v1h-1zM787 296h1v1h-1zM788 296h1v1h-1zM789 296h1v1h-1zM790 295h1v1h-1zM791 295h1v1h-1zM792 295h1v1h-1zM793 295h1v1h-1zM794 294h1v1h-1zM795 294h1v1h-1zM796 294h1v1h-1zM797 294h1v1h-1zM798 294h1v1h-1zM799 294h1v1h-1zM800 294h1v1h-1zM801 294h1v1h-1zM802 293h1v1h-1zM803 293h1v1h-1zM804 293h1v1h-1zM805 293h1v1h-1zM806 294h1v1h-1zM807 294h1v1h-1zM808 294h1v1h-1zM809 294h1v1h-1zM810 295h1v1h-1zM811 295h1v1h-1zM812 295h1v1h-1zM813 295h1v1h-1zM814 294h1v1h-1zM815 294h1v1h-1zM816 294h1v1h-1zM817 293h1v1h-1zM818 292h1v1h-1zM819 292h1v1h-1zM820 291h1v1h-1zM821 290h1v1h-1zM822 289h1v1h-1zM823 289h1v1h-1zM824 288h1v1h-1zM825 287h1v1h-1zM826 286h1v1h-1zM827 285h1v1h-1zM828 284h1v1h-1zM829 283h1v1h-1zM830 281h1v2h-1zM831 280h1v1h-1zM832 279h1v1h-1zM833 278h1v1h-1zM834 276h1v2h-1zM835 275h1v1h-1zM836 274h1v1h-1zM837 273h1v1h-1zM838 272h1v1h-1zM839 271h1v1h-1zM840 270h1v1h-1zM841 268h1v2h-1zM842 267h1v1h-1zM843 265h1v2h-1zM844 264h1v1h-1zM845 263h1v1h-1zM846 263h1v1h-1zM847 262h1v1h-1zM848 262h1v1h-1zM849 262h1v1h-1zM850 261h1v1h-1zM851 261h1v1h-1zM852 261h1v1h-1zM853 261h1v1h-1zM854 261h1v1h-1zM855 261h1v1h-1zM856 261h1v1h-1zM857 261h1v1h-1zM858 262h1v1h-1zM859 262h1v1h-1zM860 262h1v1h-1zM861 261h1v1h-1zM862 261h1v1h-1zM863 260h1v1h-1zM864 260h1v1h-1zM865 259h1v1h-1zM866 259h1v1h-1zM867 258h1v1h-1zM868 258h1v1h-1zM869 258h1v1h-1zM870 258h1v1h-1zM871 258h1v1h-1zM872 258h1v1h-1zM873 258h1v1h-1zM874 258h1v1h-1zM875 258h1v1h-1zM876 258h1v1h-1zM877 257h1v1h-1zM878 256h1v1h-1zM879 255h1v1h-1zM880 254h1v1h-1zM881 253h1v1h-1zM882 253h1v1h-1zM883 252h1v1h-1zM884 252h1v1h-1zM885 251h1v1h-1zM886 250h1v1h-1zM887 250h1v1h-1zM888 249h1v1h-1zM889 248h1v1h-1zM890 247h1v1h-1zM891 246h1v1h-1zM892 245h1v1h-1zM893 244h1v1h-1zM894 243h1v1h-1zM895 243h1v1h-1zM896 242h1v1h-1zM897 241h1v1h-1zM898 241h1v1h-1zM899 240h1v1h-1zM900 240h1v1h-1zM901 240h1v1h-1zM902 239h1v1h-1zM903 239h1v1h-1zM904 239h1v1h-1zM905 238h1v1h-1zM906 238h1v1h-1zM907 237h1v1h-1zM908 237h1v1h-1zM909 236h1v1h-1zM910 235h1v1h-1zM911 234h1v1h-1zM912 233h1v1h-1zM913 232h1v1h-1zM914 231h1v1h-1zM915 231h1v1h-1zM916 230h1v1h-1zM917 230h1v1h-1zM918 229h1v1h-1zM919 229h1v1h-1zM920 229h1v1h-1zM921 229h1v1h-1zM922 228h1v1h-1zM923 228h1v1h-1zM924 228h1v1h-1zM925 228h1v1h-1zM926 227h1v1h-1zM927 227h1v1h-1zM928 227h1v1h-1zM929 227h1v1h-1zM930 226h1v1h-1zM931 226h1v1h-1zM932 226h1v1h-1zM933 226h1v1h-1zM934 227h1v1h-1zM935 227h1v1h-1zM936 227h1v1h-1zM937 228h1v1h-1zM938 229h1v1h-1zM939 229h1v1h-1zM940 230h1v1h-1zM941 231h1v1h-1zM942 231h1v1h-1zM943 232h1v1h-1zM944 232h1v1h-1zM945 233h1v1h-1zM946 234h1v1h-1zM947 234h1v1h-1zM948 235h1v1h-1zM949 236h1v1h-1zM950 237h1v2h-1zM951 239h1v1h-1zM952 240h1v1h-1zM953 241h1v1h-1zM954 242h1v1h-1zM955 243h1v1h-1zM956 244h1v1h-1zM957 245h1v1h-1zM958 246h1v1h-1zM959 247h1v1h-1zM960 248h1v1h-1zM961 249h1v1h-1zM962 249h1v1h-1zM963 250h1v1h-1zM964 250h1v1h-1zM965 251h1v1h-1zM966 252h1v2h-1zM967 254h1v1h-1zM968 255h1v1h-1zM969 256h1v1h-1zM970 257h1v1h-1zM971 258h1v1h-1zM972 259h1v1h-1zM973 260h1v1h-1zM974 261h1v1h-1zM975 261h1v1h-1zM976 262h1v1h-1zM977 263h1v1h-1zM978 264h1v1h-1zM979 264h1v1h-1zM980 265h1v1h-1zM981 266h1v1h-1zM982 267h1v1h-1zM983 268h1v1h-1zM984 269h1v1h-1zM985 270h1v1h-1zM986 271h1v2h-1zM987 273h1v1h-1zM988 274h1v1h-1zM989 275h1v1h-1zM990 276h1v2h-1zM991 278h1v1h-1zM992 279h1v1h-1zM993 280h1v1h-1zM994 281h1v1h-1zM995 281h1v1h-1zM996 282h1v1h-1zM997 283h1v1h-1zM998 284h1v1h-1zM999 284h1v1h-1zM1000 285h1v1h-1zM1001 286h1v1h-1zM1002 286h1v1h-1zM1003 287h1v1h-1zM1004 287h1v1h-1zM1005 288h1v1h-1zM1006 288h1v1h-1zM1007 289h1v1h-1zM1008 289h1v1h-1zM1009 290h1v1h-1zM1010 290h1v1h-1zM1011 291h1v1h-1zM1012 291h1v1h-1zM1013 292h1v1h-1zM1014 293h1v1h-1zM1015 293h1v1h-1zM1016 294h1v1h-1zM1017 295h1v1h-1zM1018 296h1v2h-1zM1019 298h1v1h-1zM1020 299h1v1h-1zM1021 300h1v1h-1zM1022 301h1v1h-1zM1023 302h1v1h-1zM1024 303h1v1h-1zM1025 304h1v1h-1zM1026 305h1v1h-1zM1027 306h1v1h-1zM1028 307h1v1h-1zM1029 308h1v1h-1zM1030 309h1v1h-1zM1031 310h1v1h-1zM1032 311h1v1h-1zM1033 312h1v1h-1zM1034 313h1v2h-1zM1035 315h1v1h-1zM1036 316h1v1h-1zM1037 317h1v1h-1zM1038 318h1v1h-1zM1039 319h1v1h-1zM1040 320h1v1h-1zM1041 321h1v2h-1zM1042 323h1v1h-1zM1043 324h1v2h-1zM1044 326h1v1h-1zM1045 327h1v2h-1zM1046 329h1v1h-1zM1047 330h1v2h-1zM1048 332h1v1h-1zM1049 333h1v2h-1zM1050 335h1v2h-1zM1051 337h1v2h-1zM1052 339h1v3h-1zM1053 342h1v2h-1zM1054 344h1v3h-1zM1055 347h1v2h-1zM1056 349h1v3h-1zM1057 352h1v2h-1zM1058 354h1v3h-1zM1059 357h1v2h-1zM1060 359h1v3h-1zM1061 362h1v2h-1zM1062 364h1v3h-1zM1063 367h1v2h-1zM1064 369h1v3h-1zM1065 372h1v2h-1zM1066 374h1v2h-1zM1067 376h1v2h-1zM1068 378h1v2h-1zM1069 380h1v2h-1zM1070 382h1v1h-1zM1071 383h1v2h-1zM1072 385h1v1h-1zM1073 386h1v1h-1zM1074 387h1v2h-1zM1075 389h1v1h-1zM1076 390h1v1h-1zM1077 391h1v1h-1zM1078 392h1v1h-1zM1079 393h1v1h-1zM1080 394h1v1h-1zM1081 395h1v1h-1zM1082 396h1v1h-1zM1083 396h1v1h-1zM1084 397h1v1h-1zM1085 398h1v1h-1zM1086 398h1v1h-1zM1087 399h1v1h-1zM1088 399h1v1h-1zM1089 398h1v1h-1zM1090 398h1v1h-1zM1091 397h1v1h-1zM1092 397h1v1h-1zM1093 396h1v1h-1zM1094 395h1v1h-1zM1095 394h1v1h-1zM1096 393h1v1h-1zM1097 391h1v2h-1zM1098 389h1v2h-1zM1099 387h1v2h-1zM1100 385h1v2h-1zM1101 382h1v3h-1zM1102 380h1v2h-1zM1103 377h1v3h-1zM1104 374h1v3h-1zM1105 370h1v4h-1zM1106 367h1v3h-1zM1107 363h1v4h-1zM1108 360h1v3h-1zM1109 357h1v3h-1zM1110 354h1v3h-1zM1111 351h1v3h-1zM1112 348h1v3h-1zM1113 344h1v4h-1zM1114 341h1v3h-1zM1115 337h1v4h-1zM1116 333h1v4h-1zM1117 328h1v5h-1zM1118 323h1v5h-1zM1119 318h1v5h-1zM1120 313h1v5h-1zM1121 308h1v5h-1zM1122 303h1v5h-1zM1123 298h1v5h-1zM1124 293h1v5h-1zM1125 287h1v6h-1zM1126 281h1v6h-1zM1127 275h1v6h-1zM1128 270h1v5h-1zM1129 266h1v4h-1zM1130 261h1v5h-1zM1131 257h1v4h-1zM1132 252h1v5h-1zM1133 248h1v4h-1zM1134 244h1v4h-1zM1135 240h1v4h-1zM1136 237h1v3h-1zM1137 235h1v2h-1zM1138 233h1v2h-1zM1139 231h1v2h-1zM1140 229h1v2h-1zM1141 227h1v2h-1zM1142 225h1v2h-1zM1143 223h1v2h-1zM1144 221h1v2h-1zM1145 220h1v1h-1zM1146 219h1v1h-1zM1147 218h1v1h-1zM1148 217h1v1h-1zM1149 216h1v1h-1zM1150 214h1v2h-1zM1151 213h1v1h-1zM1152 212h1v1h-1zM1153 213h1v1h-1zM1154 213h1v1h-1zM1155 214h1v1h-1zM1156 214h1v2h-1zM1157 216h1v3h-1zM1158 219h1v2h-1zM1159 221h1v3h-1zM1160 224h1v4h-1zM1161 228h1v5h-1zM1162 233h1v4h-1zM1163 237h1v5h-1zM1164 242h1v5h-1zM1165 247h1v4h-1zM1166 251h1v5h-1zM1167 256h1v4h-1zM1168 260h1v5h-1zM1169 265h1v5h-1zM1170 270h1v6h-1zM1171 276h1v5h-1zM1172 281h1v5h-1zM1173 286h1v5h-1zM1174 291h1v6h-1zM1175 297h1v5h-1zM1176 302h1v5h-1zM1177 307h1v5h-1zM1178 312h1v6h-1zM1179 318h1v5h-1zM1180 323h1v5h-1zM1181 328h1v6h-1zM1182 334h1v6h-1zM1183 340h1v6h-1zM1184 346h1v4h-1zM1185 350h1v3h-1zM1186 353h1v3h-1zM1187 356h1v3h-1zM1188 359h1v2h-1zM1189 361h1v2h-1zM1190 363h1v2h-1zM1191 365h1v2h-1zM1192 367h1v2h-1zM1193 368h1v1h-1zM1194 367h1v1h-1zM1195 367h1v1h-1zM1196 367h1v1h-1zM1197 368h1v1h-1zM1198 368h1v1h-1zM1199 369h1v1h-1zM1200 369h1v1h-1zM1201 370h1v1h-1zM1202 370h1v1h-1zM1203 371h1v1h-1zM1204 371h1v1h-1zM1205 372h1v2h-1zM1206 374h1v2h-1zM1207 376h1v2h-1zM1208 378h1v2h-1zM1209 380h1v1h-1zM1210 381h1v2h-1zM1211 383h1v1h-1zM1212 384h1v1h-1zM1213 384h1v1h-1zM1214 385h1v1h-1zM1215 385h1v1h-1zM1216 385h1v1h-1zM1217 384h1v1h-1zM1218 383h1v1h-1zM1219 382h1v1h-1zM1220 381h1v1h-1zM1221 380h1v1h-1zM1222 378h1v2h-1zM1223 377h1v1h-1zM1224 375h1v2h-1zM1225 373h1v2h-1zM1226 371h1v2h-1zM1227 369h1v2h-1zM1228 367h1v2h-1zM1229 366h1v1h-1zM1230 365h1v1h-1zM1231 364h1v1h-1zM1232 363h1v1h-1zM1233 362h1v1h-1zM1234 360h1v2h-1zM1235 359h1v1h-1zM1236 358h1v1h-1zM1237 357h1v1h-1zM1238 355h1v2h-1zM1239 354h1v1h-1zM1240 353h1v1h-1zM1241 354h1v1h-1zM1242 355h1v1h-1zM1243 356h1v1h-1zM1244 357h1v1h-1zM1245 358h1v2h-1zM1246 360h1v1h-1zM1247 361h1v2h-1zM1248 363h1v1h-1zM1249 364h1v2h-1zM1250 366h1v1h-1zM1251 367h1v2h-1zM1252 369h1v1h-1zM1253 370h1v1h-1zM1254 371h1v1h-1zM1255 372h1v1h-1zM1256 373h1v1h-1zM1257 374h1v2h-1zM1258 376h1v2h-1zM1259 378h1v2h-1zM1260 380h1v1h-1zM1261 381h1v1h-1zM1262 381h1v1h-1zM1263 382h1v1h-1zM1264 382h1v1h-1zM1265 382h1v1h-1zM1266 382h1v1h-1zM1267 382h1v1h-1zM1268 382h1v1h-1z" fill="#ff0000" shape-rendering="crispEdges"/>
<path clip-path="url(#cm)" d="M4 157h1v1h-1zM5 156h1v1h-1zM6 156h1v1h-1zM7 155h1v1h-1zM8 155h1v1h-1zM9 156h1v2h-1zM10 158h1v1h-1zM11 159h1v2h-1zM12 161h1v1h-1zM13 162h1v2h-1zM14 164h1v2h-1zM15 166h1v2h-1zM16 168h1v2h-1zM17 170h1v2h-1zM18 172h1v2h-1zM19 174h1v2h-1zM20 176h1v1h-1zM21 177h1v1h-1zM22 178h1v1h-1zM23 178h1v1h-1zM24 179h1v2h-1zM25 181h1v2h-1zM26 183h1v2h-1zM27 185h1v2h-1zM28 187h1v2h-1zM29 189h1v1h-1zM30 190h1v2h-1zM31 192h1v1h-1zM32 193h1v2h-1zM33 195h1v2h-1zM34 197h1v3h-1zM35 200h1v2h-1zM36 202h1v3h-1zM37 205h1v2h-1zM38 207h1v3h-1zM39 210h1v2h-1zM40 212h1v3h-1zM41 215h1v3h-1zM42 218h1v2h-1zM43 220h1v3h-1zM44 223h1v2h-1zM45 225h1v1h-1zM46 226h1v1h-1zM47 227h1v1h-1zM48 228h1v1h-1zM49 228h1v1h-1zM50 228h1v1h-1zM51 228h1v1h-1zM52 227h1v2h-1zM53 224h1v3h-1zM54 221h1v3h-1zM55 218h1v3h-1zM56 216h1v2h-1zM57 215h1v1h-1zM58 214h1v1h-1zM59 214h1v1h-1zM60 213h1v1h-1zM61 212h1v1h-1zM62 211h1v1h-1zM63 210h1v1h-1zM64 209h1v1h-1zM65 208h1v1h-1zM66 207h1v1h-1zM67 207h1v1h-1zM68 206h1v1h-1zM69 206h1v1h-1zM70 206h1v1h-1zM71 206h1v1h-1zM72 206h1v1h-1zM73 207h1v2h-1zM74 209h1v2h-1zM75 211h1v2h-1zM76 213h1v2h-1zM77 213h1v1h-1zM78 213h1v1h-1zM79 212h1v1h-1zM80 212h1v1h-1zM81 211h1v1h-1zM82 209h1v2h-1zM83 208h1v1h-1zM84 207h1v1h-1zM85 206h1v1h-1zM86 204h1v2h-1zM87 203h1v1h-1zM88 202h1v1h-1zM89 201h1v1h-1zM90 200h1v1h-1zM91 199h1v1h-1zM92 198h1v1h-1zM93 196h1v2h-1zM94 195h1v1h-1zM95 193h1v2h-1zM96 192h1v1h-1zM97 192h1v1h-1zM98 192h1v1h-1zM99 192h1v1h-1zM100 192h1v1h-1zM101 193h1v1h-1zM102 193h1v1h-1zM103 194h1v1h-1zM104 194h1v1h-1zM105 195h1v2h-1zM106 197h1v2h-1zM107 199h1v2h-1zM108 201h1v2h-1zM109 203h1v2h-1zM110 205h1v2h-1zM111 207h1v2h-1zM112 209h1v1h-1zM113 210h1v2h-1zM114 212h1v2h-1zM115 214h1v2h-1zM116 216h1v2h-1zM117 218h1v1h-1zM118 219h1v1h-1zM119 220h1v1h-1zM120 221h1v1h-1zM121 222h1v2h-1zM122 224h1v1h-1zM123 225h1v2h-1zM124 227h1v1h-1zM125 227h1v1h-1zM126 228h1v1h-1zM127 228h1v1h-1zM128 228h1v1h-1zM129 228h1v1h-1zM130 228h1v1h-1zM131 228h1v1h-1zM132 228h1v1h-1zM133 227h1v1h-1zM134 226h1v1h-1zM135 225h1v1h-1zM136 224h1v1h-1zM137 223h1v1h-1zM138 221h1v2h-1zM139 220h1v1h-1zM140 219h1v1h-1zM141 218h1v1h-1zM142 217h1v1h-1zM143 217h1v1h-1zM144 216h1v1h-1zM145 215h1v1h-1zM146 215h1v1h-1zM147 214h1v1h-1zM148 214h1v1h-1zM149 215h1v1h-1zM150 216h1v1h-1zM151 217h1v1h-1zM152 218h1v1h-1zM153 219h1v2h-1zM154 221h1v1h-1zM155 222h1v2h-1zM156 224h1v1h-1zM157 225h1v2h-1zM158 227h1v1h-1zM159 228h1v2h-1zM160 230h1v1h-1zM161 231h1v1h-1zM162 231h1v1h-1zM163 232h1v1h-1zM164 232h1v1h-1zM165 231h1v1h-1zM166 230h1v1h-1zM167 230h1v1h-1zM168 228h1v2h-1zM169 225h1v3h-1zM170 222h1v3h-1zM171 219h1v3h-1zM172 216h1v3h-1zM173 213h1v3h-1zM174 211h1v2h-1zM175 208h1v3h-1zM176 205h1v3h-1zM177 201h1v4h-1zM178 197h1v4h-1zM179 193h1v4h-1zM180 189h1v4h-1zM181 185h1v4h-1zM182 181h1v4h-1zM183 177h1v4h-1zM184 173h1v4h-1zM185 169h1v4h-1zM186 165h1v4h-1zM187 161h1v4h-1zM188 159h1v2h-1zM189 157h1v2h-1zM190 155h1v2h-1zM191 153h1v2h-1zM192 152h1v1h-1zM193 150h1v2h-1zM194 148h1v2h-1zM195 146h1v2h-1zM196 144h1v2h-1zM197 143h1v1h-1zM198 143h1v1h-1zM199 142h1v1h-1zM200 142h1v1h-1zM201 143h1v2h-1zM202 145h1v1h-1zM203 146h1v2h-1zM204 148h1v2h-1zM205 150h1v3h-1zM206 153h1v4h-1zM207 157h1v3h-1zM208 160h1v3h-1zM209 163h1v3h-1zM210 166h1v2h-1zM211 168h1v3h-1zM212 171h1v3h-1zM213 174h1v2h-1zM214 176h1v2h-1zM215 178h1v2h-1zM216 180h1v3h-1zM217 183h1v3h-1zM218 186h1v3h-1zM219 189h1v3h-1zM220 192h1v2h-1zM221 194h1v2h-1zM222 196h1v2h-1zM223 198h1v2h-1zM224 200h1v1h-1zM225 198h1v2h-1zM226 196h1v2h-1zM227 194h1v2h-1zM228 191h1v3h-1zM229 188h1v3h-1zM230 184h1v4h-1zM231 181h1v3h-1zM232 178h1v3h-1zM233 174h1v4h-1zM234 170h1v4h-1zM235 166h1v4h-1zM236 162h1v4h-1zM237 156h1v6h-1zM238 151h1v5h-1zM239 145h1v6h-1zM240 140h1v5h-1zM241 136h1v4h-1zM242 131h1v5h-1zM243 127h1v4h-1zM244 123h1v4h-1zM245 120h1v3h-1zM246 117h1v3h-1zM247 114h1v3h-1zM248 112h1v2h-1zM249 111h1v1h-1zM250 110h1v1h-1zM251 109h1v1h-1zM252 108h1v1h-1zM253 108h1v1h-1zM254 107h1v1h-1zM255 107h1v1h-1zM256 107h1v1h-1zM257 107h1v1h-1zM258 108h1v1h-1zM259 108h1v1h-1zM260 108h1v2h-1zM261 110h1v2h-1zM262 112h1v2h-1zM263 114h1v2h-1zM264 116h1v3h-1zM265 119h1v2h-1zM266 121h1v3h-1zM267 124h1v2h-1zM268 126h1v3h-1zM269 129h1v2h-1zM270 131h1v3h-1zM271 134h1v2h-1zM272 136h1v3h-1zM273 139h1v3h-1zM274 142h1v2h-1zM275 144h1v3h-1zM276 147h1v4h-1zM277 151h1v4h-1zM278 155h1v5h-1zM279 160h1v4h-1zM280 164h1v4h-1zM281 168h1v2h-1zM282 170h1v2h-1zM283 172h1v2h-1zM284 174h1v3h-1zM285 177h1v2h-1zM286 179h1v3h-1zM287 182h1v2h-1zM288 184h1v2h-1zM289 186h1v2h-1zM290 188h1v2h-1zM291 190h1v2h-1zM292 192h1v1h-1zM293 193h1v1h-1zM294 194h1v1h-1zM295 194h1v1h-1zM296 195h1v1h-1zM297 194h1v1h-1zM298 192h1v2h-1zM299 191h1v1h-1zM300 190h1v1h-1zM301 189h1v1h-1zM302 188h1v1h-1zM303 187h1v1h-1zM304 186h1v1h-1zM305 184h1v2h-1zM306 182h1v2h-1zM307 180h1v2h-1zM308 179h1v1h-1zM309 178h1v1h-1zM310 176h1v2h-1zM311 175h1v1h-1zM312 174h1v1h-1zM313 175h1v1h-1zM314 176h1v2h-1zM315 178h1v1h-1zM316 179h1v1h-1zM317 180h1v1h-1zM318 181h1v1h-1zM319 182h1v1h-1zM320 183h1v1h-1zM321 184h1v1h-1zM322 185h1v1h-1zM323 185h1v1h-1zM324 186h1v1h-1zM325 187h1v2h-1zM326 189h1v1h-1zM327 190h1v2h-1zM328 192h1v1h-1zM329 193h1v1h-1zM330 194h1v1h-1zM331 195h1v1h-1zM332 196h1v1h-1zM333 196h1v1h-1zM334 196h1v1h-1zM335 196h1v1h-1zM336 196h1v1h-1zM337 197h1v2h-1zM338 199h1v2h-1zM339 201h1v2h-1zM340 203h1v3h-1zM341 206h1v2h-1zM342 208h1v3h-1zM343 211h1v2h-1zM344 213h1v2h-1zM345 215h1v2h-1zM346 217h1v1h-1zM347 218h1v2h-1zM348 220h1v2h-1zM349 222h1v3h-1zM350 225h1v2h-1zM351 227h1v3h-1zM352 230h1v3h-1zM353 233h1v2h-1zM354 235h1v2h-1zM355 237h1v2h-1zM356 239h1v2h-1zM357 241h1v1h-1zM358 241h1v1h-1zM359 242h1v1h-1zM360 242h1v1h-1zM361 242h1v1h-1zM362 241h1v1h-1zM363 241h1v1h-1zM364 241h1v1h-1zM365 242h1v1h-1zM366 242h1v1h-1zM367 243h1v1h-1zM368 243h1v1h-1zM369 244h1v2h-1zM370 246h1v1h-1zM371 247h1v2h-1zM372 249h1v1h-1zM373 250h1v1h-1zM374 250h1v1h-1zM375 251h1v1h-1zM376 251h1v1h-1zM377 252h1v1h-1zM378 253h1v1h-1zM379 254h1v1h-1zM380 255h1v1h-1zM381 253h1v2h-1zM382 252h1v1h-1zM383 250h1v2h-1zM384 249h1v1h-1zM385 247h1v2h-1zM386 245h1v2h-1zM387 243h1v2h-1zM388 240h1v3h-1zM389 235h1v5h-1zM390 231h1v4h-1zM391 226h1v5h-1zM392 222h1v4h-1zM393 220h1v2h-1zM394 217h1v3h-1zM395 215h1v2h-1zM396 212h1v3h-1zM397 209h1v3h-1zM398 206h1v3h-1zM399 203h1v3h-1zM400 201h1v2h-1zM401 201h1v1h-1zM402 200h1v1h-1zM403 200h1v1h-1zM404 200h1v1h-1zM405 200h1v1h-1zM406 199h1v1h-1zM407 199h1v1h-1zM408 199h1v1h-1zM409 200h1v1h-1zM410 201h1v1h-1zM411 202h1v1h-1zM412 203h1v1h-1zM413 204h1v2h-1zM414 206h1v1h-1zM415 207h1v2h-1zM416 209h1v2h-1zM417 211h1v3h-1zM418 214h1v4h-1zM419 218h1v3h-1zM420 221h1v3h-1zM421 224h1v3h-1zM422 227h1v4h-1zM423 231h1v3h-1zM424 234h1v3h-1zM425 237h1v3h-1zM426 240h1v4h-1zM427 244h1v3h-1zM428 247h1v3h-1zM429 250h1v3h-1zM430 253h1v2h-1zM431 255h1v3h-1zM432 258h1v2h-1zM433 260h1v2h-1zM434 262h1v1h-1zM435 263h1v2h-1zM436 265h1v1h-1zM437 265h1v1h-1zM438 266h1v1h-1zM439 266h1v1h-1zM440 266h1v1h-1zM441 266h1v1h-1zM442 265h1v1h-1zM443 265h1v1h-1zM444 265h1v1h-1zM445 264h1v1h-1zM446 262h1v2h-1zM447 261h1v1h-1zM448 260h1v1h-1zM449 259h1v1h-1zM450 257h1v2h-1zM451 256h1v1h-1zM452 255h1v1h-1zM453 254h1v1h-1zM454 254h1v1h-1zM455 253h1v1h-1zM456 253h1v1h-1zM457 253h1v1h-1zM458 254h1v1h-1zM459 254h1v1h-1zM460 254h1v1h-1zM461 254h1v1h-1zM462 255h1v1h-1zM463 255h1v1h-1zM464 255h1v2h-1zM465 257h1v2h-1zM466 259h1v2h-1zM467 261h1v2h-1zM468 263h1v3h-1zM469 266h1v4h-1zM470 270h1v4h-1zM471 274h1v4h-1zM472 278h1v4h-1zM473 282h1v4h-1zM474 286h1v4h-1zM475 290h1v4h-1zM476 294h1v3h-1zM477 297h1v4h-1zM478 301h1v3h-1zM479 304h1v4h-1zM480 308h1v3h-1zM481 311h1v3h-1zM482 314h1v4h-1zM483 318h1v3h-1zM484 321h1v2h-1zM485 323h1v1h-1zM486 324h1v1h-1zM487 325h1v1h-1zM488 326h1v1h-1zM489 324h1v2h-1zM490 323h1v1h-1zM491 321h1v2h-1zM492 320h1v1h-1zM493 318h1v2h-1zM494 316h1v2h-1zM495 314h1v2h-1zM496 313h1v1h-1zM497 311h1v2h-1zM498 309h1v2h-1zM499 307h1v2h-1zM500 305h1v2h-1zM501 303h1v2h-1zM502 300h1v3h-1zM503 298h1v2h-1zM504 296h1v2h-1zM505 296h1v1h-1zM506 295h1v1h-1zM507 295h1v1h-1zM508 295h1v1h-1zM509 296h1v1h-1zM510 297h1v1h-1zM511 298h1v1h-1zM512 299h1v1h-1zM513 298h1v1h-1zM514 297h1v1h-1zM515 297h1v1h-1zM516 296h1v1h-1zM517 294h1v2h-1zM518 293h1v1h-1zM519 291h1v2h-1zM520 290h1v1h-1zM521 289h1v1h-1zM522 289h1v1h-1zM523 288h1v1h-1zM524 288h1v1h-1zM525 289h1v1h-1zM526 290h1v1h-1zM527 291h1v1h-1zM528 292h1v1h-1zM529 290h1v2h-1zM530 288h1v2h-1zM531 286h1v2h-1zM532 284h1v2h-1zM533 285h1v1h-1zM534 285h1v1h-1zM535 286h1v1h-1zM536 286h1v1h-1zM537 287h1v2h-1zM538 289h1v1h-1zM539 290h1v2h-1zM540 292h1v1h-1zM541 293h1v2h-1zM542 295h1v2h-1zM543 297h1v2h-1zM544 299h1v1h-1zM545 299h1v1h-1zM546 298h1v1h-1zM547 298h1v1h-1zM548 298h1v1h-1zM549 299h1v2h-1zM550 301h1v2h-1zM551 303h1v2h-1zM552 305h1v2h-1zM553 307h1v2h-1zM554 309h1v1h-1zM555 310h1v2h-1zM556 312h1v2h-1zM557 314h1v2h-1zM558 316h1v2h-1zM559 318h1v2h-1zM560 320h1v2h-1zM561 322h1v2h-1zM562 324h1v2h-1zM563 326h1v2h-1zM564 328h1v1h-1zM565 329h1v2h-1zM566 331h1v2h-1zM567 333h1v2h-1zM568 335h1v2h-1zM569 337h1v2h-1zM570 339h1v1h-1zM571 340h1v2h-1zM572 342h1v2h-1zM573 344h1v3h-1zM574 347h1v2h-1zM575 349h1v3h-1zM576 352h1v2h-1zM577 354h1v1h-1zM578 354h1v1h-1zM579 355h1v1h-1zM580 355h1v1h-1zM581 355h1v1h-1zM582 354h1v1h-1zM583 354h1v1h-1zM584 354h1v1h-1zM585 352h1v2h-1zM586 351h1v1h-1zM587 349h1v2h-1zM588 348h1v1h-1zM589 347h1v1h-1zM590 346h1v1h-1zM591 346h1v1h-1zM592 344h1v2h-1zM593 342h1v2h-1zM594 340h1v2h-1zM595 338h1v2h-1zM596 336h1v2h-1zM597 334h1v2h-1zM598 333h1v1h-1zM599 331h1v2h-1zM600 330h1v1h-1zM601 330h1v1h-1zM602 330h1v1h-1zM603 330h1v1h-1zM604 330h1v1h-1zM605 330h1v1h-1zM606 331h1v1h-1zM607 331h1v1h-1zM608 331h1v1h-1zM609 330h1v1h-1zM610 328h1v2h-1zM611 327h1v1h-1zM612 326h1v1h-1zM613 325h1v1h-1zM614 323h1v2h-1zM615 322h1v1h-1zM616 321h1v1h-1zM617 319h1v2h-1zM618 317h1v2h-1zM619 315h1v2h-1zM620 313h1v2h-1zM621 311h1v2h-1zM622 309h1v2h-1zM623 307h1v2h-1zM624 305h1v2h-1zM625 303h1v2h-1zM626 302h1v1h-1zM627 300h1v2h-1zM628 299h1v1h-1zM629 297h1v2h-1zM630 296h1v1h-1zM631 294h1v2h-1zM632 292h1v2h-1zM633 290h1v2h-1zM634 287h1v3h-1zM635 285h1v2h-1zM636 282h1v3h-1zM637 279h1v3h-1zM638 276h1v3h-1zM639 273h1v3h-1zM640 270h1v3h-1zM641 266h1v4h-1zM642 262h1v4h-1zM643 258h1v4h-1zM644 255h1v3h-1zM645 252h1v3h-1zM646 249h1v3h-1zM647 246h1v3h-1zM648 244h1v2h-1zM649 242h1v2h-1zM650 240h1v2h-1zM651 238h1v2h-1zM652 237h1v1h-1zM653 237h1v1h-1zM654 238h1v1h-1zM655 238h1v1h-1zM656 238h1v1h-1zM657 239h1v2h-1zM658 241h1v1h-1zM659 242h1v2h-1zM660 244h1v2h-1zM661 246h1v2h-1zM662 248h1v2h-1zM663 250h1v2h-1zM664 252h1v2h-1zM665 254h1v2h-1zM666 256h1v2h-1zM667 258h1v2h-1zM668 260h1v1h-1zM669 261h1v1h-1zM670 262h1v2h-1zM671 264h1v1h-1zM672 265h1v1h-1zM673 265h1v1h-1zM674 265h1v1h-1zM675 265h1v1h-1zM676 265h1v1h-1zM677 264h1v1h-1zM678 263h1v1h-1zM679 263h1v1h-1zM680 262h1v1h-1zM681 260h1v2h-1zM682 258h1v2h-1zM683 256h1v2h-1zM684 253h1v3h-1zM685 251h1v2h-1zM686 248h1v3h-1zM687 246h1v2h-1zM688 244h1v2h-1zM689 242h1v2h-1zM690 240h1v2h-1zM691 238h1v2h-1zM692 237h1v1h-1zM693 236h1v1h-1zM694 235h1v1h-1zM695 234h1v1h-1zM696 233h1v1h-1zM697 234h1v2h-1zM698 236h1v1h-1zM699 237h1v2h-1zM700 239h1v1h-1zM701 240h1v2h-1zM702 242h1v2h-1zM703 244h1v2h-1zM704 246h1v3h-1zM705 249h1v4h-1zM706 253h1v3h-1zM707 256h1v4h-1zM708 260h1v3h-1zM709 263h1v4h-1zM710 267h1v4h-1zM711 271h1v4h-1zM712 275h1v3h-1zM713 278h1v4h-1zM714 282h1v4h-1zM715 286h1v4h-1zM716 290h1v2h-1zM717 292h1v1h-1zM718 293h1v1h-1zM719 294h1v1h-1zM720 295h1v1h-1zM721 296h1v2h-1zM722 298h1v2h-1zM723 300h1v2h-1zM724 302h1v1h-1zM725 303h1v1h-1zM726 304h1v1h-1zM727 305h1v1h-1zM728 306h1v1h-1zM729 307h1v1h-1zM730 307h1v1h-1zM731 308h1v1h-1zM732 308h1v1h-1zM733 307h1v1h-1zM734 306h1v1h-1zM735 305h1v1h-1zM736 304h1v1h-1zM737 303h1v1h-1zM738 303h1v1h-1zM739 302h1v1h-1zM740 302h1v1h-1zM741 300h1v2h-1zM742 298h1v2h-1zM743 296h1v2h-1zM744 295h1v1h-1zM745 293h1v2h-1zM746 291h1v2h-1zM747 289h1v2h-1zM748 287h1v2h-1zM749 285h1v2h-1zM750 284h1v1h-1zM751 282h1v2h-1zM752 281h1v1h-1zM753 280h1v1h-1zM754 279h1v1h-1zM755 279h1v1h-1zM756 278h1v1h-1zM757 279h1v1h-1zM758 279h1v1h-1zM759 280h1v1h-1zM760 280h1v1h-1zM761 281h1v2h-1zM762 283h1v1h-1zM763 284h1v2h-1zM764 286h1v1h-1zM765 287h1v2h-1zM766 289h1v2h-1zM767 291h1v2h-1zM768 293h1v2h-1zM769 295h1v2h-1zM770 297h1v1h-1zM771 298h1v2h-1zM772 300h1v1h-1zM773 301h1v2h-1zM774 303h1v2h-1zM775 305h1v2h-1zM776 307h1v2h-1zM777 309h1v1h-1zM778 310h1v1h-1zM779 310h1v1h-1zM780 311h1v1h-1zM781 311h1v1h-1zM782 311h1v1h-1zM783 311h1v1h-1zM784 311h1v1h-1zM785 311h1v1h-1zM786 311h1v1h-1zM787 311h1v1h-1zM788 311h1v1h-1zM789 309h1v2h-1zM790 307h1v2h-1zM791 305h1v2h-1zM792 303h1v2h-1zM793 301h1v2h-1zM794 299h1v2h-1zM795 297h1v2h-1zM796 294h1v3h-1zM797 292h1v2h-1zM798 290h1v2h-1zM799 288h1v2h-1zM800 286h1v2h-1zM801 284h1v2h-1zM802 282h1v2h-1zM803 280h1v2h-1zM804 278h1v2h-1zM805 277h1v1h-1zM806 276h1v1h-1zM807 276h1v1h-1zM808 275h1v1h-1zM809 276h1v1h-1zM810 276h1v1h-1zM811 277h1v1h-1zM812 277h1v1h-1zM813 278h1v1h-1zM814 278h1v1h-1zM815 279h1v1h-1zM816 279h1v1h-1zM817 279h1v1h-1zM818 278h1v1h-1zM819 278h1v1h-1zM820 278h1v1h-1zM821 279h1v1h-1zM822 279h1v1h-1zM823 280h1v1h-1zM824 280h1v1h-1zM825 278h1v2h-1zM826 276h1v2h-1zM827 274h1v2h-1zM828 271h1v3h-1zM829 269h1v2h-1zM830 267h1v2h-1zM831 265h1v2h-1zM832 263h1v2h-1zM833 261h1v2h-1zM834 260h1v1h-1zM835 258h1v2h-1zM836 257h1v1h-1zM837 256h1v1h-1zM838 254h1v2h-1zM839 253h1v1h-1zM840 252h1v1h-1zM841 250h1v2h-1zM842 248h1v2h-1zM843 246h1v2h-1zM844 244h1v2h-1zM845 243h1v1h-1zM846 243h1v1h-1zM847 242h1v1h-1zM848 242h1v1h-1zM849 243h1v1h-1zM850 243h1v1h-1zM851 244h1v1h-1zM852 244h1v1h-1zM853 245h1v1h-1zM854 246h1v1h-1zM855 247h1v1h-1zM856 248h1v1h-1zM857 249h1v2h-1zM858 251h1v2h-1zM859 253h1v2h-1zM860 255h1v1h-1zM861 256h1v2h-1zM862 258h1v2h-1zM863 260h1v2h-1zM864 262h1v2h-1zM865 264h1v1h-1zM866 265h1v2h-1zM867 267h1v1h-1zM868 268h1v1h-1zM869 269h1v1h-1zM870 270h1v1h-1zM871 270h1v1h-1zM872 271h1v1h-1zM873 271h1v1h-1zM874 270h1v1h-1zM875 270h1v1h-1zM876 269h1v2h-1zM877 267h1v2h-1zM878 264h1v3h-1zM879 262h1v2h-1zM880 259h1v3h-1zM881 256h1v3h-1zM882 254h1v2h-1zM883 251h1v3h-1zM884 248h1v3h-1zM885 245h1v3h-1zM886 242h1v3h-1zM887 239h1v3h-1zM888 236h1v3h-1zM889 232h1v4h-1zM890 228h1v4h-1zM891 224h1v4h-1zM892 220h1v4h-1zM893 217h1v3h-1zM894 214h1v3h-1zM895 211h1v3h-1zM896 209h1v2h-1zM897 208h1v1h-1zM898 206h1v2h-1zM899 205h1v1h-1zM900 204h1v1h-1zM901 205h1v1h-1zM902 206h1v1h-1zM903 206h1v1h-1zM904 207h1v1h-1zM905 208h1v1h-1zM906 209h1v1h-1zM907 209h1v1h-1zM908 210h1v1h-1zM909 211h1v1h-1zM910 212h1v1h-1zM911 213h1v1h-1zM912 214h1v1h-1zM913 215h1v2h-1zM914 217h1v2h-1zM915 219h1v2h-1zM916 221h1v3h-1zM917 224h1v2h-1zM918 226h1v3h-1zM919 229h1v2h-1zM920 231h1v2h-1zM921 233h1v2h-1zM922 235h1v1h-1zM923 236h1v2h-1zM924 238h1v1h-1zM925 239h1v2h-1zM926 241h1v1h-1zM927 242h1v2h-1zM928 244h1v1h-1zM929 245h1v2h-1zM930 247h1v2h-1zM931 249h1v2h-1zM932 251h1v1h-1zM933 251h1v1h-1zM934 252h1v1h-1zM935 252h1v1h-1zM936 252h1v1h-1zM937 252h1v1h-1zM938 251h1v1h-1zM939 251h1v1h-1zM940 251h1v1h-1zM941 250h1v1h-1zM942 248h1v2h-1zM943 247h1v1h-1zM944 246h1v1h-1zM945 245h1v1h-1zM946 245h1v1h-1zM947 244h1v1h-1zM948 244h1v1h-1zM949 245h1v1h-1zM950 246h1v1h-1zM951 246h1v1h-1zM952 247h1v1h-1zM953 248h1v1h-1zM954 249h1v2h-1zM955 251h1v1h-1zM956 252h1v1h-1zM957 253h1v1h-1zM958 254h1v1h-1zM959 255h1v1h-1zM960 256h1v1h-1zM961 257h1v2h-1zM962 259h1v1h-1zM963 260h1v2h-1zM964 262h1v1h-1zM965 263h1v2h-1zM966 265h1v1h-1zM967 266h1v2h-1zM968 268h1v1h-1zM969 269h1v2h-1zM970 271h1v1h-1zM971 272h1v2h-1zM972 274h1v1h-1zM973 275h1v2h-1zM974 277h1v2h-1zM975 279h1v2h-1zM976 281h1v1h-1zM977 282h1v2h-1zM978 284h1v1h-1zM979 285h1v2h-1zM980 287h1v2h-1zM981 289h1v2h-1zM982 291h1v2h-1zM983 293h1v2h-1zM984 295h1v3h-1zM985 298h1v2h-1zM986 300h1v2h-1zM987 302h1v2h-1zM988 304h1v2h-1zM989 306h1v1h-1zM990 307h1v1h-1zM991 308h1v1h-1zM992 309h1v1h-1zM993 309h1v1h-1zM994 308h1v1h-1zM995 308h1v1h-1zM996 308h1v1h-1zM997 306h1v2h-1zM998 305h1v1h-1zM999 303h1v2h-1zM1000 302h1v1h-1zM1001 300h1v2h-1zM1002 298h1v2h-1zM1003 296h1v2h-1zM1004 294h1v2h-1zM1005 293h1v1h-1zM1006 291h1v2h-1zM1007 290h1v1h-1zM1008 289h1v1h-1zM1009 288h1v1h-1zM1010 287h1v1h-1zM1011 286h1v1h-1zM1012 285h1v1h-1zM1013 286h1v1h-1zM1014 287h1v1h-1zM1015 288h1v1h-1zM1016 289h1v2h-1zM1017 291h1v3h-1zM1018 294h1v2h-1zM1019 296h1v3h-1zM1020 299h1v3h-1zM1021 302h1v4h-1zM1022 306h1v3h-1zM1023 309h1v4h-1zM1024 313h1v3h-1zM1025 316h1v3h-1zM1026 319h1v2h-1zM1027 321h1v3h-1zM1028 324h1v3h-1zM1029 327h1v3h-1zM1030 330h1v4h-1zM1031 334h1v3h-1zM1032 337h1v3h-1zM1033 340h1v2h-1zM1034 342h1v2h-1zM1035 344h1v2h-1zM1036 346h1v3h-1zM1037 349h1v2h-1zM1038 351h1v2h-1zM1039 353h1v2h-1zM1040 355h1v3h-1zM1041 358h1v3h-1zM1042 361h1v3h-1zM1043 364h1v3h-1zM1044 367h1v3h-1zM1045 370h1v3h-1zM1046 373h1v2h-1zM1047 375h1v3h-1zM1048 378h1v3h-1zM1049 381h1v2h-1zM1050 383h1v3h-1zM1051 386h1v2h-1zM1052 388h1v3h-1zM1053 391h1v2h-1zM1054 393h1v2h-1zM1055 395h1v2h-1zM1056 397h1v3h-1zM1057 400h1v2h-1zM1058 402h1v2h-1zM1059 404h1v2h-1zM1060 406h1v2h-1zM1061 408h1v2h-1zM1062 410h1v1h-1zM1063 411h1v2h-1zM1064 413h1v1h-1zM1065 414h1v1h-1zM1066 415h1v1h-1zM1067 416h1v1h-1zM1068 417h1v1h-1zM1069 416h1v1h-1zM1070 416h1v1h-1zM1071 415h1v1h-1zM1072 415h1v1h-1zM1073 414h1v1h-1zM1074 413h1v1h-1zM1075 413h1v1h-1zM1076 412h1v1h-1zM1077 411h1v1h-1zM1078 410h1v1h-1zM1079 409h1v1h-1zM1080 408h1v1h-1zM1081 406h1v2h-1zM1082 404h1v2h-1zM1083 402h1v2h-1zM1084 400h1v2h-1zM1085 398h1v2h-1zM1086 396h1v2h-1zM1087 394h1v2h-1zM1088 392h1v2h-1zM1089 388h1v4h-1zM1090 385h1v3h-1zM1091 381h1v4h-1zM1092 378h1v3h-1zM1093 374h1v4h-1zM1094 371h1v3h-1zM1095 367h1v4h-1zM1096 363h1v4h-1zM1097 358h1v5h-1zM1098 354h1v4h-1zM1099 349h1v5h-1zM1100 343h1v6h-1zM1101 336h1v7h-1zM1102 328h1v8h-1zM1103 321h1v7h-1zM1104 313h1v8h-1zM1105 305h1v8h-1zM1106 296h1v9h-1zM1107 288h1v8h-1zM1108 281h1v7h-1zM1109 277h1v4h-1zM1110 273h1v4h-1zM1111 269h1v4h-1zM1112 264h1v5h-1zM1113 258h1v6h-1zM1114 252h1v6h-1zM1115 246h1v6h-1zM1116 240h1v6h-1zM1117 232h1v8h-1zM1118 225h1v7h-1zM1119 217h1v8h-1zM1120 211h1v6h-1zM1121 206h1v5h-1zM1122 200h1v6h-1zM1123 195h1v5h-1zM1124 189h1v6h-1zM1125 183h1v6h-1zM1126 176h1v7h-1zM1127 170h1v6h-1zM1128 164h1v6h-1zM1129 158h1v6h-1zM1130 153h1v5h-1zM1131 147h1v6h-1zM1132 143h1v4h-1zM1133 141h1v2h-1zM1134 138h1v3h-1zM1135 136h1v2h-1zM1136 134h1v4h-1zM1137 138h1v6h-1zM1138 144h1v6h-1zM1139 150h1v6h-1zM1140 156h1v7h-1zM1141 163h1v7h-1zM1142 170h1v7h-1zM1143 177h1v7h-1zM1144 184h1v8h-1zM1145 192h1v10h-1zM1146 202h1v9h-1zM1147 211h1v10h-1zM1148 221h1v7h-1zM1149 228h1v6h-1zM1150 234h1v5h-1zM1151 239h1v6h-1zM1152 245h1v7h-1zM1153 252h1v8h-1zM1154 260h1v9h-1zM1155 269h1v8h-1zM1156 277h1v8h-1zM1157 285h1v7h-1zM1158 292h1v6h-1zM1159 298h1v7h-1zM1160 305h1v8h-1zM1161 313h1v10h-1zM1162 323h1v10h-1zM1163 333h1v10h-1zM1164 343h1v11h-1zM1165 354h1v11h-1zM1166 365h1v10h-1zM1167 375h1v11h-1zM1168 386h1v12h-1zM1169 398h1v13h-1zM1170 411h1v13h-1zM1171 424h1v13h-1zM1172 437h1v9h-1zM1173 446h1v6h-1zM1174 452h1v6h-1zM1175 458h1v6h-1zM1176 464h1v3h-1zM1177 467h1v1h-1zM1178 468h1v2h-1zM1179 470h1v1h-1zM1180 470h1v2h-1zM1181 466h1v4h-1zM1182 462h1v4h-1zM1183 458h1v4h-1zM1184 452h1v6h-1zM1185 442h1v10h-1zM1186 433h1v9h-1zM1187 423h1v10h-1zM1188 413h1v10h-1zM1189 402h1v11h-1zM1190 391h1v11h-1zM1191 380h1v11h-1zM1192 370h1v10h-1zM1193 360h1v10h-1zM1194 350h1v10h-1zM1195 340h1v10h-1zM1196 333h1v7h-1zM1197 327h1v6h-1zM1198 321h1v6h-1zM1199 315h1v6h-1zM1200 309h1v6h-1zM1201 304h1v5h-1zM1202 299h1v5h-1zM1203 294h1v5h-1zM1204 291h1v3h-1zM1205 293h1v2h-1zM1206 295h1v3h-1zM1207 298h1v2h-1zM1208 300h1v4h-1zM1209 304h1v6h-1zM1210 310h1v5h-1zM1211 315h1v6h-1zM1212 321h1v7h-1zM1213 328h1v9h-1zM1214 337h1v9h-1zM1215 346h1v9h-1zM1216 355h1v7h-1zM1217 362h1v6h-1zM1218 368h1v5h-1zM1219 373h1v6h-1zM1220 379h1v5h-1zM1221 384h1v6h-1zM1222 390h1v6h-1zM1223 396h1v6h-1zM1224 402h1v3h-1zM1225 405h1v1h-1zM1226 406h1v2h-1zM1227 408h1v1h-1zM1228 409h1v1h-1zM1229 409h1v1h-1zM1230 409h1v1h-1zM1231 409h1v1h-1zM1232 408h1v2h-1zM1233 404h1v4h-1zM1234 400h1v4h-1zM1235 396h1v4h-1zM1236 393h1v3h-1zM1237 389h1v4h-1zM1238 385h1v4h-1zM1239 381h1v4h-1zM1240 378h1v3h-1zM1241 374h1v4h-1zM1242 371h1v3h-1zM1243 367h1v4h-1zM1244 365h1v2h-1zM1245 364h1v1h-1zM1246 364h1v1h-1zM1247 363h1v1h-1zM1248 362h1v2h-1zM1249 359h1v3h-1zM1250 356h1v3h-1zM1251 353h1v3h-1zM1252 351h1v2h-1zM1253 352h1v1h-1zM1254 353h1v1h-1zM1255 353h1v1h-1zM1256 354h1v2h-1zM1257 356h1v3h-1zM1258 359h1v3h-1zM1259 362h1v3h-1zM1260 365h1v2h-1zM1261 367h1v2h-1zM1262 369h1v1h-1zM1263 370h1v2h-1zM1264 372h1v1h-1zM1265 373h1v1h-1zM1266 374h1v1h-1zM1267 375h1v1h-1zM1268 376h1v1h-1z" fill="#ffa500" shape-rendering="crispEdges"/>
<rect x="4" y="389" width="1592" height="1" fill="#c0c0c0" shape-rendering="crispEdges"/>
<rect x="4" y="150" width="1592" height="2" fill="#ff0000" shape-rendering="crispEdges"/>
<rect x="4" y="206" width="1592" height="2" fill="#ff0000" shape-rendering="crispEdges"/>
<rect x="4" y="260" width="1592" height="2" fill="#ff0000" shape-rendering="crispEdges"/>
<rect x="4" y="315" width="1592" height="2" fill="#ff0000" shape-rendering="crispEdges"/>
<rect x="4" y="381" width="1592" height="2" fill="#00ff00" shape-rendering="crispEdges"/>
<rect x="4" y="441" width="1592" height="2" fill="#0000ff" shape-rendering="crispEdges"/>
<rect x="4" y="518" width="1592" height="2" fill="#0000ff" shape-rendering="crispEdges"/>
<rect x="3" y="379" width="6" height="6" fill="#00ff00" shape-rendering="crispEdges"/><rect x="5" y="381" width="2" height="2" fill="#fff" shape-rendering="crispEdges"/>
<rect x="1590" y="379" width="6" height="6" fill="#00ff00" shape-rendering="crispEdges"/><rect x="1592" y="381" width="2" height="2" fill="#fff" shape-rendering="crispEdges"/>
<rect x="3" y="439" width="6" height="6" fill="#0000ff" shape-rendering="crispEdges"/><rect x="5" y="441" width="2" height="2" fill="#fff" shape-rendering="crispEdges"/>
<rect x="1590" y="439" width="6" height="6" fill="#0000ff" shape-rendering="crispEdges"/><rect x="1592" y="441" width="2" height="2" fill="#fff" shape-rendering="crispEdges"/>
<g shape-rendering="crispEdges" fill="#000">
<rect x="1597" y="29" width="2" height="1"/>
<rect x="1597" y="62" width="2" height="1"/>
<rect x="1597" y="95" width="2" height="1"/>
<rect x="1597" y="128" width="2" height="1"/>
<rect x="1597" y="161" width="2" height="1"/>
<rect x="1597" y="194" width="2" height="1"/>
<rect x="1597" y="227" width="2" height="1"/>
<rect x="1597" y="260" width="2" height="1"/>
<rect x="1597" y="293" width="2" height="1"/>
<rect x="1597" y="326" width="2" height="1"/>
<rect x="1597" y="359" width="2" height="1"/>
<rect x="1597" y="392" width="2" height="1"/>
<rect x="1597" y="425" width="2" height="1"/>
<rect x="1597" y="458" width="2" height="1"/>
<rect x="1597" y="491" width="2" height="1"/>
<rect x="1597" y="524" width="2" height="1"/>
</g>
<text x="1602" y="33" font-size="9.8" textLength="33" lengthAdjust="spacingAndGlyphs" fill="#000" color="#000">1.15265</text>
<text x="1602" y="66" font-size="9.8" textLength="33" lengthAdjust="spacingAndGlyphs" fill="#000" color="#000">1.14650</text>
<text x="1602" y="99" font-size="9.8" textLength="33" lengthAdjust="spacingAndGlyphs" fill="#000" color="#000">1.14050</text>
<text x="1602" y="132" font-size="9.8" textLength="33" lengthAdjust="spacingAndGlyphs" fill="#000" color="#000">1.13450</text>
<text x="1602" y="165" font-size="9.8" textLength="33" lengthAdjust="spacingAndGlyphs" fill="#000" color="#000">1.12850</text>
<text x="1602" y="198" font-size="9.8" textLength="33" lengthAdjust="spacingAndGlyphs" fill="#000" color="#000">1.12235</text>
<text x="1602" y="231" font-size="9.8" textLength="33" lengthAdjust="spacingAndGlyphs" fill="#000" color="#000">1.11635</text>
<text x="1602" y="264" font-size="9.8" textLength="33" lengthAdjust="spacingAndGlyphs" fill="#000" color="#000">1.11035</text>
<text x="1602" y="297" font-size="9.8" textLength="33" lengthAdjust="spacingAndGlyphs" fill="#000" color="#000">1.10435</text>
<text x="1602" y="330" font-size="9.8" textLength="33" lengthAdjust="spacingAndGlyphs" fill="#000" color="#000">1.09820</text>
<text x="1602" y="363" font-size="9.8" textLength="33" lengthAdjust="spacingAndGlyphs" fill="#000" color="#000">1.09220</text>
<text x="1602" y="396" font-size="9.8" textLength="33" lengthAdjust="spacingAndGlyphs" fill="#000" color="#000">1.08620</text>
<text x="1602" y="429" font-size="9.8" textLength="33" lengthAdjust="spacingAndGlyphs" fill="#000" color="#000">1.08020</text>
<text x="1602" y="462" font-size="9.8" textLength="33" lengthAdjust="spacingAndGlyphs" fill="#000" color="#000">1.07405</text>
<text x="1602" y="495" font-size="9.8" textLength="33" lengthAdjust="spacingAndGlyphs" fill="#000" color="#000">1.06805</text>
<text x="1602" y="528" font-size="9.8" textLength="33" lengthAdjust="spacingAndGlyphs" fill="#000" color="#000">1.06205</text>
<rect x="1598" y="387" width="41" height="8" fill="#000" shape-rendering="crispEdges"/>
<text x="1603" y="393" font-size="9.8" textLength="33" lengthAdjust="spacingAndGlyphs" fill="#fff" color="#fff">1.08676</text>
<rect x="1598" y="145" width="41" height="11" fill="#ff0000" shape-rendering="crispEdges"/>
<text x="1603" y="154" font-size="9.8" textLength="33" lengthAdjust="spacingAndGlyphs" fill="#fff" color="#fff">1.13034</text>
<rect x="1598" y="201" width="41" height="11" fill="#ff0000" shape-rendering="crispEdges"/>
<text x="1603" y="210" font-size="9.8" textLength="33" lengthAdjust="spacingAndGlyphs" fill="#fff" color="#fff">1.12004</text>
<rect x="1598" y="255" width="41" height="11" fill="#ff0000" shape-rendering="crispEdges"/>
<text x="1603" y="264" font-size="9.8" textLength="33" lengthAdjust="spacingAndGlyphs" fill="#fff" color="#fff">1.11009</text>
<rect x="1598" y="310" width="41" height="11" fill="#ff0000" shape-rendering="crispEdges"/>
<text x="1603" y="319" font-size="9.8" textLength="33" lengthAdjust="spacingAndGlyphs" fill="#fff" color="#fff">1.10008</text>
<rect x="1598" y="376" width="41" height="11" fill="#00ff00" shape-rendering="crispEdges"/>
<text x="1603" y="385" font-size="9.8" textLength="33" lengthAdjust="spacingAndGlyphs" fill="#fff" color="#fff">1.08800</text>
<rect x="1598" y="436" width="41" height="11" fill="#0000ff" shape-rendering="crispEdges"/>
<text x="1603" y="445" font-size="9.8" textLength="33" lengthAdjust="spacingAndGlyphs" fill="#fff" color="#fff">1.07712</text>
<rect x="1598" y="513" width="41" height="11" fill="#0000ff" shape-rendering="crispEdges"/>
<text x="1603" y="522" font-size="9.8" textLength="33" lengthAdjust="spacingAndGlyphs" fill="#fff" color="#fff">1.06306</text>
<g fill="#000" shape-rendering="crispEdges"><rect x="7" y="28" width="7" height="1"/><rect x="8" y="29" width="5" height="1"/><rect x="9" y="30" width="3" height="1"/><rect x="10" y="31" width="1" height="1"/></g>
<text x="19.2" y="33" font-size="10" fill="#000" color="#000" textLength="63.5" lengthAdjust="spacingAndGlyphs">EURUSD,Daily</text>
<text x="89.6" y="33" font-size="10" fill="#000" color="#000" textLength="140.3" lengthAdjust="spacingAndGlyphs">1.08824 1.08841 1.08586 1.08676</text>
<g shape-rendering="crispEdges">
<line x1="5" y1="557.5" x2="1596" y2="557.5" stroke="#c0c0c0" stroke-dasharray="3,3" shape-rendering="crispEdges"/>
<line x1="5" y1="593.5" x2="1596" y2="593.5" stroke="#c0c0c0" stroke-dasharray="3,3" shape-rendering="crispEdges"/>
</g>
<path clip-path="url(#cr)" d="M4 573h1v1h-1zM5 572h1v1h-1zM6 571h1v1h-1zM7 570h1v1h-1zM8 569h1v2h-1zM9 571h1v3h-1zM10 574h1v2h-1zM11 576h1v3h-1zM12 579h1v2h-1zM13 581h1v1h-1zM14 581h1v1h-1zM15 582h1v1h-1zM16 582h1v1h-1zM17 581h1v1h-1zM18 580h1v1h-1zM19 580h1v1h-1zM20 579h1v1h-1zM21 578h1v1h-1zM22 577h1v1h-1zM23 577h1v1h-1zM24 576h1v1h-1zM25 577h1v2h-1zM26 579h1v2h-1zM27 581h1v2h-1zM28 583h1v1h-1zM29 584h1v1h-1zM30 585h1v1h-1zM31 585h1v1h-1zM32 586h1v1h-1zM33 587h1v2h-1zM34 589h1v1h-1zM35 590h1v2h-1zM36 592h1v1h-1zM37 591h1v1h-1zM38 590h1v1h-1zM39 590h1v1h-1zM40 589h1v1h-1zM41 589h1v1h-1zM42 589h1v1h-1zM43 589h1v1h-1zM44 589h1v1h-1zM45 588h1v1h-1zM46 587h1v1h-1zM47 587h1v1h-1zM48 586h1v1h-1zM49 584h1v2h-1zM50 582h1v2h-1zM51 580h1v2h-1zM52 579h1v1h-1zM53 577h1v2h-1zM54 575h1v2h-1zM55 573h1v2h-1zM56 572h1v2h-1zM57 574h1v2h-1zM58 576h1v2h-1zM59 578h1v2h-1zM60 580h1v2h-1zM61 581h1v1h-1zM62 580h1v1h-1zM63 580h1v1h-1zM64 580h1v1h-1zM65 580h1v1h-1zM66 579h1v1h-1zM67 579h1v1h-1zM68 579h1v1h-1zM69 579h1v1h-1zM70 579h1v1h-1zM71 579h1v1h-1zM72 579h1v1h-1zM73 580h1v1h-1zM74 580h1v1h-1zM75 581h1v1h-1zM76 581h1v1h-1zM77 580h1v1h-1zM78 579h1v1h-1zM79 578h1v1h-1zM80 577h1v1h-1zM81 576h1v1h-1zM82 575h1v1h-1zM83 574h1v1h-1zM84 573h1v1h-1zM85 572h1v1h-1zM86 572h1v1h-1zM87 571h1v1h-1zM88 571h1v1h-1zM89 572h1v1h-1zM90 572h1v1h-1zM91 573h1v1h-1zM92 573h1v1h-1zM93 573h1v1h-1zM94 573h1v1h-1zM95 573h1v1h-1zM96 573h1v1h-1zM97 574h1v1h-1zM98 575h1v1h-1zM99 576h1v1h-1zM100 577h1v1h-1zM101 577h1v1h-1zM102 577h1v1h-1zM103 577h1v1h-1zM104 577h1v1h-1zM105 578h1v2h-1zM106 580h1v1h-1zM107 581h1v2h-1zM108 583h1v1h-1zM109 583h1v1h-1zM110 584h1v1h-1zM111 584h1v1h-1zM112 584h1v1h-1zM113 584h1v1h-1zM114 585h1v1h-1zM115 585h1v1h-1zM116 585h1v1h-1zM117 584h1v1h-1zM118 583h1v1h-1zM119 583h1v1h-1zM120 582h1v1h-1zM121 583h1v1h-1zM122 583h1v1h-1zM123 584h1v1h-1zM124 584h1v1h-1zM125 584h1v1h-1zM126 584h1v1h-1zM127 584h1v1h-1zM128 584h1v1h-1zM129 583h1v1h-1zM130 582h1v1h-1zM131 581h1v1h-1zM132 580h1v1h-1zM133 579h1v1h-1zM134 577h1v2h-1zM135 576h1v1h-1zM136 575h1v1h-1zM137 574h1v1h-1zM138 573h1v1h-1zM139 573h1v1h-1zM140 572h1v1h-1zM141 573h1v1h-1zM142 574h1v2h-1zM143 576h1v1h-1zM144 577h1v1h-1zM145 578h1v1h-1zM146 579h1v1h-1zM147 579h1v1h-1zM148 580h1v1h-1zM149 581h1v2h-1zM150 583h1v1h-1zM151 584h1v2h-1zM152 586h1v1h-1zM153 586h1v1h-1zM154 585h1v1h-1zM155 585h1v1h-1zM156 585h1v1h-1zM157 584h1v1h-1zM158 583h1v1h-1zM159 583h1v1h-1zM160 582h1v1h-1zM161 581h1v1h-1zM162 579h1v2h-1zM163 578h1v1h-1zM164 577h1v1h-1zM165 575h1v2h-1zM166 574h1v1h-1zM167 572h1v2h-1zM168 571h1v1h-1zM169 570h1v1h-1zM170 568h1v2h-1zM171 567h1v1h-1zM172 566h1v1h-1zM173 566h1v1h-1zM174 565h1v1h-1zM175 565h1v1h-1zM176 565h1v1h-1zM177 563h1v2h-1zM178 562h1v1h-1zM179 560h1v2h-1zM180 559h1v1h-1zM181 558h1v1h-1zM182 557h1v1h-1zM183 557h1v1h-1zM184 556h1v1h-1zM185 556h1v1h-1zM186 555h1v1h-1zM187 555h1v1h-1zM188 555h1v1h-1zM189 556h1v2h-1zM190 558h1v2h-1zM191 560h1v2h-1zM192 562h1v1h-1zM193 562h1v1h-1zM194 561h1v1h-1zM195 561h1v1h-1zM196 561h1v1h-1zM197 561h1v1h-1zM198 562h1v1h-1zM199 562h1v1h-1zM200 562h1v1h-1zM201 563h1v2h-1zM202 565h1v2h-1zM203 567h1v2h-1zM204 569h1v2h-1zM205 571h1v2h-1zM206 573h1v2h-1zM207 575h1v2h-1zM208 577h1v2h-1zM209 579h1v1h-1zM210 579h1v1h-1zM211 580h1v1h-1zM212 580h1v1h-1zM213 579h1v1h-1zM214 577h1v2h-1zM215 576h1v1h-1zM216 575h1v1h-1zM217 576h1v1h-1zM218 577h1v2h-1zM219 579h1v1h-1zM220 580h1v1h-1zM221 579h1v1h-1zM222 578h1v1h-1zM223 578h1v1h-1zM224 577h1v1h-1zM225 575h1v2h-1zM226 573h1v2h-1zM227 571h1v2h-1zM228 569h1v2h-1zM229 568h1v1h-1zM230 566h1v2h-1zM231 565h1v1h-1zM232 564h1v1h-1zM233 563h1v1h-1zM234 562h1v1h-1zM235 562h1v1h-1zM236 561h1v1h-1zM237 560h1v1h-1zM238 560h1v1h-1zM239 559h1v1h-1zM240 559h1v1h-1zM241 560h1v1h-1zM242 560h1v1h-1zM243 561h1v1h-1zM244 561h1v1h-1zM245 561h1v1h-1zM246 560h1v1h-1zM247 560h1v1h-1zM248 560h1v1h-1zM249 561h1v1h-1zM250 562h1v1h-1zM251 562h1v1h-1zM252 563h1v1h-1zM253 563h1v1h-1zM254 562h1v1h-1zM255 562h1v1h-1zM256 562h1v1h-1zM257 562h1v1h-1zM258 563h1v1h-1zM259 563h1v1h-1zM260 563h1v2h-1zM261 565h1v3h-1zM262 568h1v2h-1zM263 570h1v3h-1zM264 573h1v2h-1zM265 574h1v1h-1zM266 575h1v1h-1zM267 575h1v1h-1zM268 575h1v1h-1zM269 576h1v1h-1zM270 577h1v1h-1zM271 577h1v1h-1zM272 578h1v1h-1zM273 578h1v1h-1zM274 577h1v1h-1zM275 577h1v1h-1zM276 577h1v1h-1zM277 578h1v2h-1zM278 580h1v2h-1zM279 582h1v2h-1zM280 584h1v1h-1zM281 584h1v1h-1zM282 584h1v1h-1zM283 584h1v1h-1zM284 584h1v1h-1zM285 584h1v1h-1zM286 585h1v1h-1zM287 585h1v1h-1zM288 585h1v1h-1zM289 585h1v1h-1zM290 585h1v1h-1zM291 585h1v1h-1zM292 585h1v1h-1zM293 583h1v2h-1zM294 581h1v2h-1zM295 579h1v2h-1zM296 577h1v2h-1zM297 577h1v1h-1zM298 577h1v1h-1zM299 577h1v1h-1zM300 577h1v1h-1zM301 577h1v1h-1zM302 578h1v1h-1zM303 578h1v1h-1zM304 578h1v1h-1zM305 577h1v1h-1zM306 576h1v1h-1zM307 576h1v1h-1zM308 575h1v1h-1zM309 576h1v1h-1zM310 576h1v1h-1zM311 577h1v1h-1zM312 577h1v1h-1zM313 578h1v2h-1zM314 580h1v1h-1zM315 581h1v2h-1zM316 583h1v1h-1zM317 582h1v1h-1zM318 581h1v1h-1zM319 581h1v1h-1zM320 580h1v1h-1zM321 580h1v1h-1zM322 581h1v1h-1zM323 581h1v1h-1zM324 581h1v1h-1zM325 581h1v1h-1zM326 581h1v1h-1zM327 581h1v1h-1zM328 581h1v1h-1zM329 581h1v1h-1zM330 582h1v1h-1zM331 582h1v1h-1zM332 582h1v1h-1zM333 582h1v1h-1zM334 582h1v1h-1zM335 582h1v1h-1zM336 582h1v1h-1zM337 583h1v2h-1zM338 585h1v2h-1zM339 587h1v2h-1zM340 589h1v1h-1zM341 590h1v1h-1zM342 590h1v1h-1zM343 591h1v1h-1zM344 591h1v1h-1zM345 590h1v1h-1zM346 589h1v1h-1zM347 589h1v1h-1zM348 588h1v1h-1zM349 589h1v1h-1zM350 590h1v1h-1zM351 590h1v1h-1zM352 591h1v1h-1zM353 591h1v1h-1zM354 590h1v1h-1zM355 590h1v1h-1zM356 590h1v1h-1zM357 589h1v1h-1zM358 588h1v1h-1zM359 587h1v1h-1zM360 586h1v1h-1zM361 586h1v1h-1zM362 585h1v1h-1zM363 585h1v1h-1zM364 585h1v1h-1zM365 586h1v1h-1zM366 586h1v1h-1zM367 587h1v1h-1zM368 587h1v1h-1zM369 588h1v2h-1zM370 590h1v2h-1zM371 592h1v2h-1zM372 594h1v2h-1zM373 592h1v2h-1zM374 589h1v3h-1zM375 587h1v2h-1zM376 585h1v2h-1zM377 585h1v1h-1zM378 585h1v1h-1zM379 585h1v1h-1zM380 584h1v2h-1zM381 581h1v3h-1zM382 578h1v3h-1zM383 575h1v3h-1zM384 573h1v2h-1zM385 573h1v1h-1zM386 573h1v1h-1zM387 573h1v1h-1zM388 573h1v1h-1zM389 572h1v1h-1zM390 571h1v1h-1zM391 570h1v1h-1zM392 569h1v1h-1zM393 570h1v1h-1zM394 571h1v1h-1zM395 572h1v1h-1zM396 573h1v1h-1zM397 572h1v1h-1zM398 572h1v1h-1zM399 571h1v1h-1zM400 571h1v1h-1zM401 572h1v1h-1zM402 572h1v1h-1zM403 573h1v1h-1zM404 573h1v1h-1zM405 573h1v1h-1zM406 572h1v1h-1zM407 572h1v1h-1zM408 572h1v1h-1zM409 573h1v1h-1zM410 573h1v1h-1zM411 574h1v1h-1zM412 574h1v1h-1zM413 575h1v2h-1zM414 577h1v2h-1zM415 579h1v2h-1zM416 581h1v1h-1zM417 582h1v1h-1zM418 583h1v1h-1zM419 584h1v1h-1zM420 585h1v1h-1zM421 586h1v1h-1zM422 586h1v1h-1zM423 587h1v1h-1zM424 587h1v1h-1zM425 586h1v1h-1zM426 586h1v1h-1zM427 585h1v1h-1zM428 585h1v1h-1zM429 585h1v1h-1zM430 585h1v1h-1zM431 585h1v1h-1zM432 585h1v1h-1zM433 585h1v1h-1zM434 586h1v1h-1zM435 586h1v1h-1zM436 586h1v1h-1zM437 586h1v1h-1zM438 585h1v1h-1zM439 585h1v1h-1zM440 585h1v1h-1zM441 585h1v1h-1zM442 585h1v1h-1zM443 585h1v1h-1zM444 584h1v2h-1zM445 582h1v2h-1zM446 580h1v2h-1zM447 578h1v2h-1zM448 576h1v2h-1zM449 577h1v1h-1zM450 577h1v1h-1zM451 578h1v1h-1zM452 578h1v1h-1zM453 579h1v1h-1zM454 580h1v1h-1zM455 580h1v1h-1zM456 581h1v1h-1zM457 582h1v1h-1zM458 582h1v1h-1zM459 583h1v1h-1zM460 583h1v1h-1zM461 583h1v1h-1zM462 584h1v1h-1zM463 584h1v1h-1zM464 584h1v1h-1zM465 585h1v1h-1zM466 586h1v1h-1zM467 586h1v1h-1zM468 587h1v1h-1zM469 588h1v2h-1zM470 590h1v2h-1zM471 592h1v2h-1zM472 594h1v1h-1zM473 594h1v1h-1zM474 595h1v1h-1zM475 595h1v1h-1zM476 595h1v1h-1zM477 595h1v1h-1zM478 596h1v1h-1zM479 596h1v1h-1zM480 596h1v1h-1zM481 596h1v1h-1zM482 596h1v1h-1zM483 596h1v1h-1zM484 595h1v2h-1zM485 592h1v3h-1zM486 589h1v3h-1zM487 586h1v3h-1zM488 584h1v2h-1zM489 583h1v1h-1zM490 583h1v1h-1zM491 582h1v1h-1zM492 582h1v1h-1zM493 582h1v1h-1zM494 581h1v1h-1zM495 581h1v1h-1zM496 581h1v1h-1zM497 582h1v1h-1zM498 582h1v1h-1zM499 583h1v1h-1zM500 583h1v1h-1zM501 582h1v1h-1zM502 581h1v1h-1zM503 580h1v1h-1zM504 579h1v1h-1zM505 579h1v1h-1zM506 580h1v1h-1zM507 580h1v1h-1zM508 580h1v1h-1zM509 581h1v2h-1zM510 583h1v1h-1zM511 584h1v2h-1zM512 585h1v2h-1zM513 582h1v3h-1zM514 579h1v3h-1zM515 576h1v3h-1zM516 574h1v2h-1zM517 574h1v1h-1zM518 573h1v1h-1zM519 573h1v1h-1zM520 573h1v1h-1zM521 574h1v1h-1zM522 574h1v1h-1zM523 575h1v1h-1zM524 575h1v1h-1zM525 576h1v2h-1zM526 578h1v2h-1zM527 580h1v2h-1zM528 582h1v1h-1zM529 580h1v2h-1zM530 578h1v2h-1zM531 576h1v2h-1zM532 575h1v1h-1zM533 575h1v1h-1zM534 575h1v1h-1zM535 575h1v1h-1zM536 575h1v1h-1zM537 576h1v1h-1zM538 577h1v1h-1zM539 578h1v1h-1zM540 579h1v1h-1zM541 580h1v1h-1zM542 580h1v1h-1zM543 581h1v1h-1zM544 581h1v1h-1zM545 581h1v1h-1zM546 580h1v1h-1zM547 580h1v1h-1zM548 580h1v1h-1zM549 581h1v1h-1zM550 582h1v1h-1zM551 582h1v1h-1zM552 583h1v1h-1zM553 582h1v1h-1zM554 582h1v1h-1zM555 581h1v1h-1zM556 581h1v1h-1zM557 582h1v1h-1zM558 583h1v2h-1zM559 585h1v1h-1zM560 586h1v1h-1zM561 586h1v1h-1zM562 587h1v1h-1zM563 587h1v1h-1zM564 587h1v1h-1zM565 587h1v1h-1zM566 586h1v1h-1zM567 586h1v1h-1zM568 586h1v1h-1zM569 586h1v1h-1zM570 587h1v1h-1zM571 587h1v1h-1zM572 587h1v1h-1zM573 588h1v1h-1zM574 589h1v1h-1zM575 589h1v1h-1zM576 590h1v1h-1zM577 589h1v1h-1zM578 587h1v2h-1zM579 586h1v1h-1zM580 585h1v1h-1zM581 584h1v1h-1zM582 583h1v1h-1zM583 583h1v1h-1zM584 582h1v1h-1zM585 580h1v2h-1zM586 579h1v1h-1zM587 577h1v2h-1zM588 576h1v1h-1zM589 577h1v1h-1zM590 578h1v1h-1zM591 578h1v1h-1zM592 579h1v1h-1zM593 578h1v1h-1zM594 578h1v1h-1zM595 577h1v1h-1zM596 577h1v1h-1zM597 577h1v1h-1zM598 577h1v1h-1zM599 577h1v1h-1zM600 577h1v1h-1zM601 578h1v1h-1zM602 579h1v2h-1zM603 581h1v1h-1zM604 582h1v1h-1zM605 581h1v1h-1zM606 579h1v2h-1zM607 578h1v1h-1zM608 577h1v1h-1zM609 576h1v1h-1zM610 574h1v2h-1zM611 573h1v1h-1zM612 572h1v1h-1zM613 571h1v1h-1zM614 570h1v1h-1zM615 570h1v1h-1zM616 569h1v1h-1zM617 569h1v1h-1zM618 569h1v1h-1zM619 569h1v1h-1zM620 569h1v1h-1zM621 570h1v1h-1zM622 570h1v1h-1zM623 571h1v1h-1zM624 571h1v1h-1zM625 571h1v1h-1zM626 570h1v1h-1zM627 570h1v1h-1zM628 570h1v1h-1zM629 569h1v1h-1zM630 567h1v2h-1zM631 566h1v1h-1zM632 565h1v1h-1zM633 564h1v1h-1zM634 562h1v2h-1zM635 561h1v1h-1zM636 560h1v1h-1zM637 559h1v1h-1zM638 559h1v1h-1zM639 558h1v1h-1zM640 558h1v1h-1zM641 558h1v1h-1zM642 558h1v1h-1zM643 558h1v1h-1zM644 558h1v1h-1zM645 559h1v1h-1zM646 560h1v1h-1zM647 560h1v1h-1zM648 561h1v1h-1zM649 561h1v1h-1zM650 561h1v1h-1zM651 561h1v1h-1zM652 561h1v1h-1zM653 562h1v1h-1zM654 563h1v2h-1zM655 565h1v1h-1zM656 566h1v1h-1zM657 567h1v1h-1zM658 568h1v1h-1zM659 568h1v1h-1zM660 569h1v1h-1zM661 570h1v1h-1zM662 571h1v1h-1zM663 571h1v1h-1zM664 572h1v1h-1zM665 572h1v1h-1zM666 572h1v1h-1zM667 572h1v1h-1zM668 572h1v1h-1zM669 571h1v1h-1zM670 571h1v1h-1zM671 570h1v1h-1zM672 570h1v1h-1zM673 569h1v1h-1zM674 568h1v1h-1zM675 568h1v1h-1zM676 567h1v1h-1zM677 567h1v1h-1zM678 566h1v1h-1zM679 566h1v1h-1zM680 566h1v1h-1zM681 565h1v1h-1zM682 564h1v1h-1zM683 563h1v1h-1zM684 562h1v1h-1zM685 561h1v1h-1zM686 561h1v1h-1zM687 560h1v1h-1zM688 560h1v1h-1zM689 561h1v1h-1zM690 561h1v1h-1zM691 562h1v1h-1zM692 562h1v1h-1zM693 562h1v1h-1zM694 563h1v1h-1zM695 563h1v1h-1zM696 563h1v2h-1zM697 565h1v4h-1zM698 569h1v4h-1zM699 573h1v4h-1zM700 577h1v2h-1zM701 578h1v1h-1zM702 578h1v1h-1zM703 578h1v1h-1zM704 578h1v1h-1zM705 579h1v1h-1zM706 580h1v1h-1zM707 581h1v1h-1zM708 582h1v1h-1zM709 583h1v1h-1zM710 584h1v1h-1zM711 584h1v1h-1zM712 585h1v1h-1zM713 585h1v1h-1zM714 585h1v1h-1zM715 585h1v1h-1zM716 585h1v1h-1zM717 584h1v1h-1zM718 583h1v1h-1zM719 583h1v1h-1zM720 582h1v1h-1zM721 583h1v1h-1zM722 584h1v1h-1zM723 584h1v1h-1zM724 585h1v1h-1zM725 585h1v1h-1zM726 585h1v1h-1zM727 585h1v1h-1zM728 585h1v1h-1zM729 585h1v1h-1zM730 586h1v1h-1zM731 586h1v1h-1zM732 585h1v2h-1zM733 583h1v2h-1zM734 581h1v2h-1zM735 579h1v2h-1zM736 577h1v2h-1zM737 577h1v1h-1zM738 576h1v1h-1zM739 576h1v1h-1zM740 576h1v1h-1zM741 575h1v1h-1zM742 574h1v1h-1zM743 573h1v1h-1zM744 572h1v1h-1zM745 572h1v1h-1zM746 572h1v1h-1zM747 572h1v1h-1zM748 572h1v1h-1zM749 573h1v1h-1zM750 574h1v1h-1zM751 574h1v1h-1zM752 575h1v1h-1zM753 574h1v1h-1zM754 574h1v1h-1zM755 573h1v1h-1zM756 573h1v1h-1zM757 574h1v2h-1zM758 576h1v2h-1zM759 578h1v2h-1zM760 580h1v1h-1zM761 580h1v1h-1zM762 581h1v1h-1zM763 581h1v1h-1zM764 581h1v1h-1zM765 582h1v1h-1zM766 583h1v1h-1zM767 583h1v1h-1zM768 584h1v1h-1zM769 584h1v1h-1zM770 583h1v1h-1zM771 583h1v1h-1zM772 583h1v1h-1zM773 584h1v1h-1zM774 584h1v1h-1zM775 585h1v1h-1zM776 585h1v1h-1zM777 585h1v1h-1zM778 584h1v1h-1zM779 584h1v1h-1zM780 584h1v1h-1zM781 583h1v1h-1zM782 581h1v2h-1zM783 580h1v1h-1zM784 579h1v1h-1zM785 580h1v1h-1zM786 580h1v1h-1zM787 581h1v1h-1zM788 580h1v2h-1zM789 577h1v3h-1zM790 575h1v2h-1zM791 572h1v3h-1zM792 570h1v2h-1zM793 570h1v1h-1zM794 569h1v1h-1zM795 569h1v1h-1zM796 569h1v1h-1zM797 569h1v1h-1zM798 568h1v1h-1zM799 568h1v1h-1zM800 568h1v1h-1zM801 568h1v1h-1zM802 567h1v1h-1zM803 567h1v1h-1zM804 567h1v2h-1zM805 569h1v2h-1zM806 571h1v3h-1zM807 574h1v2h-1zM808 576h1v2h-1zM809 576h1v1h-1zM810 576h1v1h-1zM811 575h1v1h-1zM812 575h1v1h-1zM813 574h1v1h-1zM814 573h1v1h-1zM815 573h1v1h-1zM816 572h1v1h-1zM817 571h1v1h-1zM818 570h1v1h-1zM819 570h1v1h-1zM820 569h1v1h-1zM821 570h1v1h-1zM822 570h1v1h-1zM823 571h1v1h-1zM824 571h1v1h-1zM825 569h1v2h-1zM826 568h1v1h-1zM827 566h1v2h-1zM828 565h1v1h-1zM829 564h1v1h-1zM830 564h1v1h-1zM831 563h1v1h-1zM832 563h1v1h-1zM833 564h1v1h-1zM834 565h1v1h-1zM835 565h1v1h-1zM836 566h1v1h-1zM837 565h1v1h-1zM838 565h1v1h-1zM839 564h1v1h-1zM840 564h1v1h-1zM841 563h1v1h-1zM842 562h1v1h-1zM843 562h1v1h-1zM844 561h1v1h-1zM845 562h1v1h-1zM846 563h1v2h-1zM847 565h1v1h-1zM848 566h1v1h-1zM849 567h1v1h-1zM850 568h1v1h-1zM851 569h1v1h-1zM852 570h1v1h-1zM853 571h1v1h-1zM854 572h1v2h-1zM855 574h1v1h-1zM856 575h1v1h-1zM857 576h1v1h-1zM858 577h1v1h-1zM859 577h1v1h-1zM860 578h1v1h-1zM861 577h1v1h-1zM862 576h1v1h-1zM863 576h1v1h-1zM864 575h1v1h-1zM865 575h1v1h-1zM866 575h1v1h-1zM867 575h1v1h-1zM868 575h1v1h-1zM869 575h1v1h-1zM870 576h1v1h-1zM871 576h1v1h-1zM872 576h1v1h-1zM873 575h1v1h-1zM874 574h1v1h-1zM875 573h1v1h-1zM876 571h1v2h-1zM877 569h1v2h-1zM878 567h1v2h-1zM879 565h1v2h-1zM880 563h1v2h-1zM881 562h1v1h-1zM882 561h1v1h-1zM883 561h1v1h-1zM884 560h1v1h-1zM885 560h1v1h-1zM886 559h1v1h-1zM887 559h1v1h-1zM888 559h1v1h-1zM889 558h1v1h-1zM890 557h1v1h-1zM891 557h1v1h-1zM892 556h1v1h-1zM893 557h1v1h-1zM894 557h1v1h-1zM895 558h1v1h-1zM896 558h1v1h-1zM897 559h1v1h-1zM898 560h1v1h-1zM899 560h1v1h-1zM900 561h1v2h-1zM901 563h1v2h-1zM902 565h1v2h-1zM903 567h1v2h-1zM904 569h1v2h-1zM905 569h1v1h-1zM906 569h1v1h-1zM907 568h1v1h-1zM908 568h1v1h-1zM909 567h1v1h-1zM910 567h1v1h-1zM911 566h1v1h-1zM912 566h1v1h-1zM913 567h1v2h-1zM914 569h1v2h-1zM915 571h1v2h-1zM916 573h1v2h-1zM917 575h1v1h-1zM918 576h1v1h-1zM919 577h1v1h-1zM920 578h1v1h-1zM921 579h1v1h-1zM922 579h1v1h-1zM923 580h1v1h-1zM924 580h1v1h-1zM925 579h1v1h-1zM926 579h1v1h-1zM927 578h1v1h-1zM928 578h1v1h-1zM929 577h1v1h-1zM930 577h1v1h-1zM931 576h1v1h-1zM932 576h1v1h-1zM933 576h1v1h-1zM934 575h1v1h-1zM935 575h1v1h-1zM936 575h1v1h-1zM937 576h1v1h-1zM938 576h1v1h-1zM939 577h1v1h-1zM940 577h1v1h-1zM941 575h1v2h-1zM942 574h1v1h-1zM943 572h1v2h-1zM944 571h1v1h-1zM945 572h1v1h-1zM946 573h1v1h-1zM947 574h1v1h-1zM948 575h1v1h-1zM949 576h1v2h-1zM950 578h1v1h-1zM951 579h1v2h-1zM952 581h1v1h-1zM953 581h1v1h-1zM954 581h1v1h-1zM955 581h1v1h-1zM956 581h1v1h-1zM957 582h1v1h-1zM958 582h1v1h-1zM959 583h1v1h-1zM960 583h1v1h-1zM961 582h1v1h-1zM962 581h1v1h-1zM963 580h1v1h-1zM964 579h1v1h-1zM965 580h1v1h-1zM966 581h1v1h-1zM967 582h1v1h-1zM968 583h1v1h-1zM969 584h1v1h-1zM970 585h1v1h-1zM971 586h1v1h-1zM972 587h1v1h-1zM973 588h1v1h-1zM974 589h1v1h-1zM975 589h1v1h-1zM976 590h1v1h-1zM977 589h1v1h-1zM978 589h1v1h-1zM979 588h1v1h-1zM980 588h1v1h-1zM981 589h1v1h-1zM982 589h1v1h-1zM983 590h1v1h-1zM984 590h1v1h-1zM985 591h1v1h-1zM986 591h1v1h-1zM987 592h1v1h-1zM988 592h1v1h-1zM989 592h1v1h-1zM990 592h1v1h-1zM991 592h1v1h-1zM992 591h1v2h-1zM993 589h1v2h-1zM994 587h1v2h-1zM995 585h1v2h-1zM996 582h1v3h-1zM997 580h1v2h-1zM998 578h1v2h-1zM999 576h1v2h-1zM1000 574h1v2h-1zM1001 574h1v1h-1zM1002 573h1v1h-1zM1003 573h1v1h-1zM1004 573h1v1h-1zM1005 574h1v2h-1zM1006 576h1v2h-1zM1007 578h1v2h-1zM1008 580h1v1h-1zM1009 580h1v1h-1zM1010 581h1v1h-1zM1011 581h1v1h-1zM1012 581h1v1h-1zM1013 582h1v1h-1zM1014 583h1v2h-1zM1015 585h1v1h-1zM1016 586h1v1h-1zM1017 587h1v1h-1zM1018 588h1v1h-1zM1019 588h1v1h-1zM1020 589h1v1h-1zM1021 589h1v1h-1zM1022 590h1v1h-1zM1023 590h1v1h-1zM1024 590h1v1h-1zM1025 591h1v1h-1zM1026 591h1v1h-1zM1027 592h1v1h-1zM1028 592h1v1h-1zM1029 593h1v1h-1zM1030 593h1v1h-1zM1031 594h1v1h-1zM1032 594h1v1h-1zM1033 594h1v1h-1zM1034 595h1v1h-1zM1035 595h1v1h-1zM1036 595h1v1h-1zM1037 596h1v1h-1zM1038 596h1v1h-1zM1039 597h1v1h-1zM1040 597h1v1h-1zM1041 598h1v1h-1zM1042 599h1v1h-1zM1043 599h1v1h-1zM1044 600h1v1h-1zM1045 600h1v1h-1zM1046 601h1v1h-1zM1047 601h1v1h-1zM1048 601h1v1h-1zM1049 601h1v1h-1zM1050 601h1v1h-1zM1051 601h1v1h-1zM1052 601h1v1h-1zM1053 601h1v1h-1zM1054 602h1v1h-1zM1055 602h1v1h-1zM1056 602h1v1h-1zM1057 602h1v1h-1zM1058 602h1v1h-1zM1059 602h1v1h-1zM1060 602h1v1h-1zM1061 603h1v1h-1zM1062 603h1v1h-1zM1063 604h1v1h-1zM1064 604h1v1h-1zM1065 603h1v1h-1zM1066 602h1v1h-1zM1067 602h1v1h-1zM1068 600h1v2h-1zM1069 597h1v3h-1zM1070 593h1v4h-1zM1071 590h1v3h-1zM1072 588h1v2h-1zM1073 588h1v1h-1zM1074 588h1v1h-1zM1075 588h1v1h-1zM1076 588h1v1h-1zM1077 588h1v1h-1zM1078 588h1v1h-1zM1079 588h1v1h-1zM1080 588h1v1h-1zM1081 587h1v1h-1zM1082 587h1v1h-1zM1083 586h1v1h-1zM1084 586h1v1h-1zM1085 586h1v1h-1zM1086 585h1v1h-1zM1087 585h1v1h-1zM1088 583h1v3h-1zM1089 578h1v5h-1zM1090 574h1v4h-1zM1091 569h1v5h-1zM1092 566h1v3h-1zM1093 566h1v1h-1zM1094 565h1v1h-1zM1095 565h1v1h-1zM1096 565h1v1h-1zM1097 564h1v1h-1zM1098 563h1v1h-1zM1099 562h1v1h-1zM1100 561h1v1h-1zM1101 559h1v2h-1zM1102 557h1v2h-1zM1103 555h1v2h-1zM1104 553h1v2h-1zM1105 552h1v1h-1zM1106 552h1v1h-1zM1107 551h1v1h-1zM1108 551h1v1h-1zM1109 552h1v2h-1zM1110 554h1v1h-1zM1111 555h1v2h-1zM1112 557h1v1h-1zM1113 556h1v1h-1zM1114 555h1v1h-1zM1115 555h1v1h-1zM1116 554h1v1h-1zM1117 553h1v1h-1zM1118 551h1v2h-1zM1119 550h1v1h-1zM1120 549h1v1h-1zM1121 549h1v1h-1zM1122 548h1v1h-1zM1123 548h1v1h-1zM1124 548h1v1h-1zM1125 547h1v1h-1zM1126 546h1v1h-1zM1127 546h1v1h-1zM1128 545h1v2h-1zM1129 547h1v2h-1zM1130 549h1v3h-1zM1131 552h1v2h-1zM1132 554h1v2h-1zM1133 556h1v2h-1zM1134 558h1v1h-1zM1135 559h1v2h-1zM1136 561h1v2h-1zM1137 563h1v4h-1zM1138 567h1v4h-1zM1139 571h1v4h-1zM1140 575h1v2h-1zM1141 576h1v1h-1zM1142 577h1v1h-1zM1143 577h1v1h-1zM1144 577h1v1h-1zM1145 577h1v1h-1zM1146 576h1v1h-1zM1147 576h1v1h-1zM1148 576h1v1h-1zM1149 575h1v1h-1zM1150 574h1v1h-1zM1151 573h1v1h-1zM1152 572h1v2h-1zM1153 574h1v2h-1zM1154 576h1v3h-1zM1155 579h1v2h-1zM1156 581h1v2h-1zM1157 583h1v2h-1zM1158 585h1v1h-1zM1159 586h1v2h-1zM1160 588h1v1h-1zM1161 589h1v1h-1zM1162 590h1v1h-1zM1163 591h1v1h-1zM1164 592h1v1h-1zM1165 592h1v1h-1zM1166 593h1v1h-1zM1167 593h1v1h-1zM1168 593h1v1h-1zM1169 593h1v1h-1zM1170 593h1v1h-1zM1171 593h1v1h-1zM1172 593h1v1h-1zM1173 591h1v2h-1zM1174 589h1v2h-1zM1175 587h1v2h-1zM1176 586h1v1h-1zM1177 585h1v1h-1zM1178 585h1v1h-1zM1179 584h1v1h-1zM1180 584h1v1h-1zM1181 583h1v1h-1zM1182 583h1v1h-1zM1183 582h1v1h-1zM1184 581h1v2h-1zM1185 579h1v2h-1zM1186 576h1v3h-1zM1187 574h1v2h-1zM1188 572h1v2h-1zM1189 571h1v1h-1zM1190 571h1v1h-1zM1191 570h1v1h-1zM1192 570h1v1h-1zM1193 569h1v1h-1zM1194 569h1v1h-1zM1195 568h1v1h-1zM1196 568h1v1h-1zM1197 569h1v1h-1zM1198 570h1v2h-1zM1199 572h1v1h-1zM1200 573h1v1h-1zM1201 573h1v1h-1zM1202 573h1v1h-1zM1203 573h1v1h-1zM1204 573h1v1h-1zM1205 574h1v1h-1zM1206 575h1v1h-1zM1207 576h1v1h-1zM1208 577h1v1h-1zM1209 578h1v1h-1zM1210 579h1v1h-1zM1211 580h1v1h-1zM1212 581h1v1h-1zM1213 582h1v1h-1zM1214 582h1v1h-1zM1215 583h1v1h-1zM1216 583h1v1h-1zM1217 583h1v1h-1zM1218 582h1v1h-1zM1219 582h1v1h-1zM1220 582h1v1h-1zM1221 582h1v1h-1zM1222 583h1v1h-1zM1223 583h1v1h-1zM1224 583h1v1h-1zM1225 582h1v1h-1zM1226 580h1v2h-1zM1227 579h1v1h-1zM1228 578h1v1h-1zM1229 578h1v1h-1zM1230 579h1v1h-1zM1231 579h1v1h-1zM1232 579h1v1h-1zM1233 578h1v1h-1zM1234 577h1v1h-1zM1235 576h1v1h-1zM1236 575h1v1h-1zM1237 575h1v1h-1zM1238 574h1v1h-1zM1239 574h1v1h-1zM1240 574h1v1h-1zM1241 574h1v1h-1zM1242 575h1v1h-1zM1243 575h1v1h-1zM1244 575h1v1h-1zM1245 576h1v1h-1zM1246 576h1v1h-1zM1247 577h1v1h-1zM1248 577h1v1h-1zM1249 576h1v1h-1zM1250 574h1v2h-1zM1251 573h1v1h-1zM1252 572h1v1h-1zM1253 573h1v1h-1zM1254 574h1v2h-1zM1255 576h1v1h-1zM1256 577h1v1h-1zM1257 578h1v1h-1zM1258 579h1v1h-1zM1259 579h1v1h-1zM1260 580h1v1h-1zM1261 579h1v1h-1zM1262 579h1v1h-1zM1263 578h1v1h-1zM1264 578h1v1h-1zM1265 578h1v1h-1zM1266 578h1v1h-1zM1267 578h1v1h-1zM1268 578h1v1h-1z" fill="#1e90ff" shape-rendering="crispEdges"/>
<text x="8.4" y="542" font-size="10" fill="#000" color="#000" textLength="67" lengthAdjust="spacingAndGlyphs">RSI(14) 46.2849</text>
<rect x="1597" y="531" width="2" height="1" shape-rendering="crispEdges"/>
<text x="1600.5" y="540" font-size="10" fill="#000" color="#000" textLength="14.4" lengthAdjust="spacingAndGlyphs">100</text>
<rect x="1597" y="557" width="2" height="1" shape-rendering="crispEdges"/>
<text x="1600.5" y="562" font-size="10" fill="#000" color="#000" textLength="9.7" lengthAdjust="spacingAndGlyphs">70</text>
<rect x="1597" y="593" width="2" height="1" shape-rendering="crispEdges"/>
<text x="1600.5" y="597" font-size="10" fill="#000" color="#000" textLength="9.7" lengthAdjust="spacingAndGlyphs">30</text>
<rect x="1597" y="620" width="2" height="1" shape-rendering="crispEdges"/>
<text x="1600.5" y="618" font-size="10" fill="#000" color="#000" textLength="4.8" lengthAdjust="spacingAndGlyphs">0</text>
<g clip-path="url(#cd)" shape-rendering="crispEdges" fill="#c0c0c0">
<rect x="4" y="675" width="1" height="1"/>
<rect x="8" y="674" width="1" height="1"/>
<rect x="12" y="675" width="1" height="1"/>
<rect x="16" y="675" width="1" height="2"/>
<rect x="20" y="675" width="1" height="3"/>
<rect x="24" y="675" width="1" height="3"/>
<rect x="28" y="675" width="1" height="4"/>
<rect x="32" y="675" width="1" height="6"/>
<rect x="36" y="675" width="1" height="9"/>
<rect x="40" y="675" width="1" height="11"/>
<rect x="44" y="675" width="1" height="13"/>
<rect x="48" y="675" width="1" height="13"/>
<rect x="52" y="675" width="1" height="12"/>
<rect x="56" y="675" width="1" height="10"/>
<rect x="60" y="675" width="1" height="10"/>
<rect x="64" y="675" width="1" height="10"/>
<rect x="68" y="675" width="1" height="9"/>
<rect x="72" y="675" width="1" height="9"/>
<rect x="76" y="675" width="1" height="9"/>
<rect x="80" y="675" width="1" height="8"/>
<rect x="84" y="675" width="1" height="6"/>
<rect x="88" y="675" width="1" height="5"/>
<rect x="92" y="675" width="1" height="3"/>
<rect x="96" y="675" width="1" height="3"/>
<rect x="100" y="675" width="1" height="3"/>
<rect x="104" y="675" width="1" height="3"/>
<rect x="108" y="675" width="1" height="4"/>
<rect x="112" y="675" width="1" height="5"/>
<rect x="116" y="675" width="1" height="6"/>
<rect x="120" y="675" width="1" height="7"/>
<rect x="124" y="675" width="1" height="7"/>
<rect x="128" y="675" width="1" height="8"/>
<rect x="132" y="675" width="1" height="8"/>
<rect x="136" y="675" width="1" height="7"/>
<rect x="140" y="675" width="1" height="5"/>
<rect x="144" y="675" width="1" height="5"/>
<rect x="148" y="675" width="1" height="5"/>
<rect x="152" y="675" width="1" height="6"/>
<rect x="156" y="675" width="1" height="7"/>
<rect x="160" y="675" width="1" height="7"/>
<rect x="164" y="675" width="1" height="7"/>
<rect x="168" y="675" width="1" height="5"/>
<rect x="172" y="675" width="1" height="2"/>
<rect x="176" y="675" width="1" height="1"/>
<rect x="180" y="672" width="1" height="3"/>
<rect x="184" y="668" width="1" height="7"/>
<rect x="188" y="664" width="1" height="11"/>
<rect x="192" y="663" width="1" height="12"/>
<rect x="196" y="662" width="1" height="13"/>
<rect x="200" y="661" width="1" height="14"/>
<rect x="204" y="662" width="1" height="13"/>
<rect x="208" y="665" width="1" height="10"/>
<rect x="212" y="668" width="1" height="7"/>
<rect x="216" y="669" width="1" height="6"/>
<rect x="220" y="671" width="1" height="4"/>
<rect x="224" y="673" width="1" height="2"/>
<rect x="228" y="671" width="1" height="4"/>
<rect x="232" y="669" width="1" height="6"/>
<rect x="236" y="665" width="1" height="10"/>
<rect x="240" y="662" width="1" height="13"/>
<rect x="244" y="660" width="1" height="15"/>
<rect x="248" y="658" width="1" height="17"/>
<rect x="252" y="657" width="1" height="18"/>
<rect x="256" y="657" width="1" height="18"/>
<rect x="260" y="657" width="1" height="18"/>
<rect x="264" y="659" width="1" height="16"/>
<rect x="268" y="662" width="1" height="13"/>
<rect x="272" y="665" width="1" height="10"/>
<rect x="276" y="667" width="1" height="8"/>
<rect x="280" y="671" width="1" height="4"/>
<rect x="284" y="674" width="1" height="1"/>
<rect x="288" y="675" width="1" height="2"/>
<rect x="292" y="675" width="1" height="4"/>
<rect x="296" y="675" width="1" height="4"/>
<rect x="300" y="675" width="1" height="4"/>
<rect x="304" y="675" width="1" height="4"/>
<rect x="308" y="675" width="1" height="4"/>
<rect x="312" y="675" width="1" height="4"/>
<rect x="316" y="675" width="1" height="5"/>
<rect x="320" y="675" width="1" height="6"/>
<rect x="324" y="675" width="1" height="6"/>
<rect x="328" y="675" width="1" height="7"/>
<rect x="332" y="675" width="1" height="7"/>
<rect x="336" y="675" width="1" height="8"/>
<rect x="340" y="675" width="1" height="10"/>
<rect x="344" y="675" width="1" height="12"/>
<rect x="348" y="675" width="1" height="13"/>
<rect x="352" y="675" width="1" height="15"/>
<rect x="356" y="675" width="1" height="16"/>
<rect x="360" y="675" width="1" height="16"/>
<rect x="364" y="675" width="1" height="16"/>
<rect x="368" y="675" width="1" height="16"/>
<rect x="372" y="675" width="1" height="19"/>
<rect x="376" y="675" width="1" height="18"/>
<rect x="380" y="675" width="1" height="18"/>
<rect x="384" y="675" width="1" height="15"/>
<rect x="388" y="675" width="1" height="12"/>
<rect x="392" y="675" width="1" height="8"/>
<rect x="396" y="675" width="1" height="6"/>
<rect x="400" y="675" width="1" height="4"/>
<rect x="404" y="675" width="1" height="3"/>
<rect x="408" y="675" width="1" height="2"/>
<rect x="412" y="675" width="1" height="1"/>
<rect x="416" y="675" width="1" height="3"/>
<rect x="420" y="675" width="1" height="6"/>
<rect x="424" y="675" width="1" height="8"/>
<rect x="428" y="675" width="1" height="10"/>
<rect x="432" y="675" width="1" height="11"/>
<rect x="436" y="675" width="1" height="12"/>
<rect x="440" y="675" width="1" height="12"/>
<rect x="444" y="675" width="1" height="13"/>
<rect x="448" y="675" width="1" height="11"/>
<rect x="452" y="675" width="1" height="10"/>
<rect x="456" y="675" width="1" height="10"/>
<rect x="460" y="675" width="1" height="10"/>
<rect x="464" y="675" width="1" height="11"/>
<rect x="468" y="675" width="1" height="12"/>
<rect x="472" y="675" width="1" height="15"/>
<rect x="476" y="675" width="1" height="18"/>
<rect x="480" y="675" width="1" height="20"/>
<rect x="484" y="675" width="1" height="22"/>
<rect x="488" y="675" width="1" height="21"/>
<rect x="492" y="675" width="1" height="19"/>
<rect x="496" y="675" width="1" height="18"/>
<rect x="500" y="675" width="1" height="17"/>
<rect x="504" y="675" width="1" height="15"/>
<rect x="508" y="675" width="1" height="14"/>
<rect x="512" y="675" width="1" height="15"/>
<rect x="516" y="675" width="1" height="12"/>
<rect x="520" y="675" width="1" height="10"/>
<rect x="524" y="675" width="1" height="8"/>
<rect x="528" y="675" width="1" height="9"/>
<rect x="532" y="675" width="1" height="8"/>
<rect x="536" y="675" width="1" height="7"/>
<rect x="540" y="675" width="1" height="7"/>
<rect x="544" y="675" width="1" height="8"/>
<rect x="548" y="675" width="1" height="8"/>
<rect x="552" y="675" width="1" height="9"/>
<rect x="556" y="675" width="1" height="9"/>
<rect x="560" y="675" width="1" height="11"/>
<rect x="564" y="675" width="1" height="13"/>
<rect x="568" y="675" width="1" height="14"/>
<rect x="572" y="675" width="1" height="15"/>
<rect x="576" y="675" width="1" height="17"/>
<rect x="580" y="675" width="1" height="17"/>
<rect x="584" y="675" width="1" height="16"/>
<rect x="588" y="675" width="1" height="14"/>
<rect x="592" y="675" width="1" height="13"/>
<rect x="596" y="675" width="1" height="11"/>
<rect x="600" y="675" width="1" height="10"/>
<rect x="604" y="675" width="1" height="10"/>
<rect x="608" y="675" width="1" height="9"/>
<rect x="612" y="675" width="1" height="7"/>
<rect x="616" y="675" width="1" height="4"/>
<rect x="620" y="675" width="1" height="2"/>
<rect x="624" y="675" width="1" height="1"/>
<rect x="628" y="675" width="1" height="1"/>
<rect x="632" y="672" width="1" height="3"/>
<rect x="636" y="668" width="1" height="7"/>
<rect x="640" y="665" width="1" height="10"/>
<rect x="644" y="662" width="1" height="13"/>
<rect x="648" y="660" width="1" height="15"/>
<rect x="652" y="659" width="1" height="16"/>
<rect x="656" y="659" width="1" height="16"/>
<rect x="660" y="661" width="1" height="14"/>
<rect x="664" y="662" width="1" height="13"/>
<rect x="668" y="664" width="1" height="11"/>
<rect x="672" y="664" width="1" height="11"/>
<rect x="676" y="664" width="1" height="11"/>
<rect x="680" y="664" width="1" height="11"/>
<rect x="684" y="663" width="1" height="12"/>
<rect x="688" y="662" width="1" height="13"/>
<rect x="692" y="661" width="1" height="14"/>
<rect x="696" y="661" width="1" height="14"/>
<rect x="700" y="664" width="1" height="11"/>
<rect x="704" y="667" width="1" height="8"/>
<rect x="708" y="670" width="1" height="5"/>
<rect x="712" y="673" width="1" height="2"/>
<rect x="716" y="675" width="1" height="1"/>
<rect x="720" y="675" width="1" height="2"/>
<rect x="724" y="675" width="1" height="4"/>
<rect x="728" y="675" width="1" height="6"/>
<rect x="732" y="675" width="1" height="7"/>
<rect x="736" y="675" width="1" height="6"/>
<rect x="740" y="675" width="1" height="6"/>
<rect x="744" y="675" width="1" height="4"/>
<rect x="748" y="675" width="1" height="3"/>
<rect x="752" y="675" width="1" height="3"/>
<rect x="756" y="675" width="1" height="2"/>
<rect x="760" y="675" width="1" height="3"/>
<rect x="764" y="675" width="1" height="4"/>
<rect x="768" y="675" width="1" height="5"/>
<rect x="772" y="675" width="1" height="6"/>
<rect x="776" y="675" width="1" height="7"/>
<rect x="780" y="675" width="1" height="7"/>
<rect x="784" y="675" width="1" height="7"/>
<rect x="788" y="675" width="1" height="7"/>
<rect x="792" y="675" width="1" height="5"/>
<rect x="796" y="675" width="1" height="3"/>
<rect x="800" y="675" width="1" height="1"/>
<rect x="804" y="674" width="1" height="1"/>
<rect x="808" y="675" width="1" height="1"/>
<rect x="812" y="675" width="1" height="1"/>
<rect x="816" y="674" width="1" height="1"/>
<rect x="820" y="673" width="1" height="2"/>
<rect x="824" y="673" width="1" height="2"/>
<rect x="828" y="671" width="1" height="4"/>
<rect x="832" y="669" width="1" height="6"/>
<rect x="836" y="668" width="1" height="7"/>
<rect x="840" y="667" width="1" height="8"/>
<rect x="844" y="666" width="1" height="9"/>
<rect x="848" y="665" width="1" height="10"/>
<rect x="852" y="666" width="1" height="9"/>
<rect x="856" y="667" width="1" height="8"/>
<rect x="860" y="669" width="1" height="6"/>
<rect x="864" y="670" width="1" height="5"/>
<rect x="868" y="671" width="1" height="4"/>
<rect x="872" y="672" width="1" height="3"/>
<rect x="876" y="672" width="1" height="3"/>
<rect x="880" y="670" width="1" height="5"/>
<rect x="884" y="667" width="1" height="8"/>
<rect x="888" y="665" width="1" height="10"/>
<rect x="892" y="663" width="1" height="12"/>
<rect x="896" y="661" width="1" height="14"/>
<rect x="900" y="661" width="1" height="14"/>
<rect x="904" y="662" width="1" height="13"/>
<rect x="908" y="662" width="1" height="13"/>
<rect x="912" y="663" width="1" height="12"/>
<rect x="916" y="665" width="1" height="10"/>
<rect x="920" y="667" width="1" height="8"/>
<rect x="924" y="669" width="1" height="6"/>
<rect x="928" y="671" width="1" height="4"/>
<rect x="932" y="672" width="1" height="3"/>
<rect x="936" y="672" width="1" height="3"/>
<rect x="940" y="673" width="1" height="2"/>
<rect x="944" y="673" width="1" height="2"/>
<rect x="948" y="673" width="1" height="2"/>
<rect x="952" y="675" width="1" height="1"/>
<rect x="956" y="675" width="1" height="1"/>
<rect x="960" y="675" width="1" height="3"/>
<rect x="964" y="675" width="1" height="3"/>
<rect x="968" y="675" width="1" height="5"/>
<rect x="972" y="675" width="1" height="6"/>
<rect x="976" y="675" width="1" height="9"/>
<rect x="980" y="675" width="1" height="10"/>
<rect x="984" y="675" width="1" height="12"/>
<rect x="988" y="675" width="1" height="13"/>
<rect x="992" y="675" width="1" height="14"/>
<rect x="996" y="675" width="1" height="14"/>
<rect x="1000" y="675" width="1" height="12"/>
<rect x="1004" y="675" width="1" height="9"/>
<rect x="1008" y="675" width="1" height="9"/>
<rect x="1012" y="675" width="1" height="9"/>
<rect x="1016" y="675" width="1" height="10"/>
<rect x="1020" y="675" width="1" height="12"/>
<rect x="1024" y="675" width="1" height="14"/>
<rect x="1028" y="675" width="1" height="15"/>
<rect x="1032" y="675" width="1" height="17"/>
<rect x="1036" y="675" width="1" height="19"/>
<rect x="1040" y="675" width="1" height="21"/>
<rect x="1044" y="675" width="1" height="24"/>
<rect x="1048" y="675" width="1" height="26"/>
<rect x="1052" y="675" width="1" height="27"/>
<rect x="1056" y="675" width="1" height="28"/>
<rect x="1060" y="675" width="1" height="29"/>
<rect x="1064" y="675" width="1" height="31"/>
<rect x="1068" y="675" width="1" height="31"/>
<rect x="1072" y="675" width="1" height="29"/>
<rect x="1076" y="675" width="1" height="27"/>
<rect x="1080" y="675" width="1" height="26"/>
<rect x="1084" y="675" width="1" height="24"/>
<rect x="1088" y="675" width="1" height="22"/>
<rect x="1092" y="675" width="1" height="16"/>
<rect x="1096" y="675" width="1" height="11"/>
<rect x="1100" y="675" width="1" height="6"/>
<rect x="1104" y="673" width="1" height="2"/>
<rect x="1108" y="665" width="1" height="10"/>
<rect x="1112" y="661" width="1" height="14"/>
<rect x="1116" y="655" width="1" height="20"/>
<rect x="1120" y="647" width="1" height="28"/>
<rect x="1124" y="641" width="1" height="34"/>
<rect x="1128" y="633" width="1" height="42"/>
<rect x="1132" y="630" width="1" height="45"/>
<rect x="1136" y="630" width="1" height="45"/>
<rect x="1140" y="638" width="1" height="37"/>
<rect x="1144" y="645" width="1" height="30"/>
<rect x="1148" y="650" width="1" height="25"/>
<rect x="1152" y="653" width="1" height="22"/>
<rect x="1156" y="661" width="1" height="14"/>
<rect x="1160" y="672" width="1" height="3"/>
<rect x="1164" y="675" width="1" height="10"/>
<rect x="1168" y="675" width="1" height="21"/>
<rect x="1172" y="675" width="1" height="31"/>
<rect x="1176" y="675" width="1" height="34"/>
<rect x="1180" y="675" width="1" height="35"/>
<rect x="1184" y="675" width="1" height="34"/>
<rect x="1188" y="675" width="1" height="26"/>
<rect x="1192" y="675" width="1" height="19"/>
<rect x="1196" y="675" width="1" height="10"/>
<rect x="1200" y="675" width="1" height="7"/>
<rect x="1204" y="675" width="1" height="5"/>
<rect x="1208" y="675" width="1" height="6"/>
<rect x="1212" y="675" width="1" height="9"/>
<rect x="1216" y="675" width="1" height="14"/>
<rect x="1220" y="675" width="1" height="17"/>
<rect x="1224" y="675" width="1" height="19"/>
<rect x="1228" y="675" width="1" height="18"/>
<rect x="1232" y="675" width="1" height="18"/>
<rect x="1236" y="675" width="1" height="15"/>
<rect x="1240" y="675" width="1" height="12"/>
<rect x="1244" y="675" width="1" height="10"/>
<rect x="1248" y="675" width="1" height="9"/>
<rect x="1252" y="675" width="1" height="6"/>
<rect x="1256" y="675" width="1" height="7"/>
<rect x="1260" y="675" width="1" height="9"/>
<rect x="1264" y="675" width="1" height="9"/>
<rect x="1268" y="675" width="1" height="9"/>
</g>
<path clip-path="url(#cd)" d="M4 679h1v1h-1zM5 679h1v1h-1zM6 678h1v1h-1zM10 677h1v1h-1zM11 677h1v1h-1zM12 677h1v1h-1zM16 677h1v1h-1zM17 677h1v1h-1zM18 677h1v1h-1zM22 677h1v1h-1zM23 677h1v1h-1zM24 677h1v1h-1zM28 678h1v1h-1zM29 678h1v1h-1zM30 678h1v1h-1zM34 679h1v1h-1zM35 679h1v1h-1zM36 679h1v1h-1zM40 681h1v1h-1zM41 681h1v1h-1zM42 682h1v1h-1zM46 683h1v1h-1zM47 683h1v1h-1zM48 683h1v1h-1zM52 684h1v1h-1zM53 684h1v1h-1zM54 684h1v1h-1zM58 684h1v1h-1zM59 684h1v1h-1zM60 684h1v1h-1zM64 684h1v1h-1zM65 684h1v1h-1zM66 684h1v1h-1zM70 684h1v1h-1zM71 684h1v1h-1zM72 684h1v1h-1zM76 684h1v1h-1zM77 684h1v1h-1zM78 684h1v1h-1zM82 683h1v1h-1zM83 683h1v1h-1zM84 683h1v1h-1zM88 682h1v1h-1zM89 682h1v1h-1zM90 681h1v1h-1zM94 680h1v1h-1zM95 680h1v1h-1zM96 680h1v1h-1zM100 680h1v1h-1zM101 680h1v1h-1zM102 679h1v1h-1zM106 679h1v1h-1zM107 679h1v1h-1zM108 679h1v1h-1zM112 679h1v1h-1zM113 679h1v1h-1zM114 680h1v1h-1zM118 680h1v1h-1zM119 680h1v1h-1zM120 680h1v1h-1zM124 680h1v1h-1zM125 680h1v1h-1zM126 681h1v1h-1zM130 681h1v1h-1zM131 681h1v1h-1zM132 681h1v1h-1zM136 681h1v1h-1zM137 681h1v1h-1zM138 681h1v1h-1zM142 680h1v1h-1zM143 680h1v1h-1zM144 680h1v1h-1zM148 680h1v1h-1zM149 680h1v1h-1zM150 680h1v1h-1zM154 680h1v1h-1zM155 680h1v1h-1zM156 680h1v1h-1zM160 681h1v1h-1zM161 681h1v1h-1zM162 681h1v1h-1zM166 680h1v1h-1zM167 680h1v1h-1zM168 680h1v1h-1zM172 680h1v1h-1zM173 680h1v1h-1zM174 679h1v1h-1zM178 678h1v1h-1zM179 677h1v1h-1zM180 677h1v1h-1zM184 675h1v1h-1zM185 674h1v1h-1zM186 674h1v1h-1zM190 672h1v1h-1zM191 671h1v1h-1zM192 671h1v1h-1zM196 669h1v1h-1zM197 668h1v1h-1zM198 668h1v1h-1zM202 666h1v1h-1zM203 666h1v1h-1zM204 666h1v1h-1zM208 666h1v1h-1zM209 666h1v1h-1zM210 666h1v1h-1zM214 667h1v1h-1zM215 667h1v1h-1zM216 667h1v1h-1zM220 667h1v1h-1zM221 667h1v1h-1zM222 668h1v1h-1zM226 669h1v1h-1zM227 669h1v1h-1zM228 669h1v1h-1zM232 669h1v1h-1zM233 669h1v1h-1zM234 668h1v1h-1zM238 667h1v1h-1zM239 667h1v1h-1zM240 667h1v1h-1zM244 665h1v1h-1zM245 665h1v1h-1zM246 664h1v1h-1zM250 663h1v1h-1zM251 662h1v1h-1zM252 662h1v1h-1zM256 661h1v1h-1zM257 661h1v1h-1zM258 660h1v1h-1zM262 660h1v1h-1zM263 660h1v1h-1zM264 660h1v1h-1zM268 660h1v1h-1zM269 660h1v1h-1zM270 661h1v1h-1zM274 662h1v1h-1zM275 662h1v1h-1zM276 662h1v1h-1zM280 664h1v1h-1zM281 665h1v1h-1zM282 665h1v1h-1zM286 667h1v1h-1zM287 668h1v1h-1zM288 668h1v1h-1zM292 670h1v1h-1zM293 671h1v1h-1zM294 671h1v1h-1zM298 673h1v1h-1zM299 673h1v1h-1zM300 673h1v1h-1zM304 674h1v1h-1zM305 674h1v1h-1zM306 675h1v1h-1zM310 676h1v1h-1zM311 676h1v1h-1zM312 676h1v1h-1zM316 677h1v1h-1zM317 677h1v1h-1zM318 677h1v1h-1zM322 678h1v1h-1zM323 678h1v1h-1zM324 678h1v1h-1zM328 679h1v1h-1zM329 679h1v1h-1zM330 679h1v1h-1zM334 680h1v1h-1zM335 680h1v1h-1zM336 680h1v1h-1zM340 681h1v1h-1zM341 681h1v1h-1zM342 682h1v1h-1zM346 683h1v1h-1zM347 683h1v1h-1zM348 683h1v1h-1zM352 684h1v1h-1zM353 685h1v1h-1zM354 685h1v1h-1zM358 687h1v1h-1zM359 687h1v1h-1zM360 687h1v1h-1zM364 687h1v1h-1zM365 687h1v1h-1zM366 688h1v1h-1zM370 689h1v1h-1zM371 689h1v1h-1zM372 689h1v1h-1zM376 690h1v1h-1zM377 690h1v1h-1zM378 690h1v1h-1zM382 690h1v1h-1zM383 690h1v1h-1zM384 690h1v1h-1zM388 689h1v1h-1zM389 689h1v1h-1zM390 688h1v1h-1zM394 687h1v1h-1zM395 687h1v1h-1zM396 687h1v1h-1zM400 685h1v1h-1zM401 685h1v1h-1zM402 684h1v1h-1zM406 683h1v1h-1zM407 682h1v1h-1zM408 682h1v1h-1zM412 681h1v1h-1zM413 681h1v1h-1zM414 680h1v1h-1zM418 680h1v1h-1zM419 680h1v1h-1zM420 680h1v1h-1zM424 681h1v1h-1zM425 681h1v1h-1zM426 681h1v1h-1zM430 682h1v1h-1zM431 682h1v1h-1zM432 682h1v1h-1zM436 683h1v1h-1zM437 683h1v1h-1zM438 684h1v1h-1zM442 684h1v1h-1zM443 684h1v1h-1zM444 684h1v1h-1zM448 685h1v1h-1zM449 685h1v1h-1zM450 685h1v1h-1zM454 684h1v1h-1zM455 684h1v1h-1zM456 684h1v1h-1zM460 684h1v1h-1zM461 684h1v1h-1zM462 685h1v1h-1zM466 685h1v1h-1zM467 685h1v1h-1zM468 685h1v1h-1zM472 686h1v1h-1zM473 686h1v1h-1zM474 687h1v1h-1zM478 688h1v1h-1zM479 689h1v1h-1zM480 689h1v1h-1zM484 690h1v1h-1zM485 690h1v1h-1zM486 691h1v1h-1zM490 692h1v1h-1zM491 692h1v1h-1zM492 692h1v1h-1zM496 692h1v1h-1zM497 692h1v1h-1zM498 692h1v1h-1zM502 691h1v1h-1zM503 691h1v1h-1zM504 691h1v1h-1zM508 691h1v1h-1zM509 691h1v1h-1zM510 690h1v1h-1zM514 690h1v1h-1zM515 690h1v1h-1zM516 690h1v1h-1zM520 689h1v1h-1zM521 688h1v1h-1zM522 688h1v1h-1zM526 687h1v1h-1zM527 687h1v1h-1zM528 687h1v1h-1zM532 686h1v1h-1zM533 686h1v1h-1zM534 685h1v1h-1zM538 684h1v1h-1zM539 684h1v1h-1zM540 684h1v1h-1zM544 684h1v1h-1zM545 684h1v1h-1zM546 684h1v1h-1zM550 684h1v1h-1zM551 684h1v1h-1zM552 684h1v1h-1zM556 684h1v1h-1zM557 684h1v1h-1zM558 684h1v1h-1zM562 685h1v1h-1zM563 685h1v1h-1zM564 685h1v1h-1zM568 686h1v1h-1zM569 686h1v1h-1zM570 686h1v1h-1zM574 687h1v1h-1zM575 687h1v1h-1zM576 687h1v1h-1zM580 688h1v1h-1zM581 688h1v1h-1zM582 689h1v1h-1zM586 689h1v1h-1zM587 689h1v1h-1zM588 689h1v1h-1zM592 688h1v1h-1zM593 688h1v1h-1zM594 688h1v1h-1zM598 687h1v1h-1zM599 687h1v1h-1zM600 687h1v1h-1zM604 687h1v1h-1zM605 687h1v1h-1zM606 686h1v1h-1zM610 685h1v1h-1zM611 685h1v1h-1zM612 685h1v1h-1zM616 684h1v1h-1zM617 683h1v1h-1zM618 683h1v1h-1zM622 681h1v1h-1zM623 681h1v1h-1zM624 681h1v1h-1zM628 680h1v1h-1zM629 679h1v1h-1zM630 679h1v1h-1zM634 677h1v1h-1zM635 676h1v1h-1zM636 676h1v1h-1zM640 674h1v1h-1zM641 673h1v1h-1zM642 672h1v1h-1zM646 670h1v1h-1zM647 669h1v1h-1zM648 669h1v1h-1zM652 667h1v1h-1zM653 666h1v1h-1zM654 666h1v1h-1zM658 664h1v1h-1zM659 664h1v1h-1zM660 664h1v1h-1zM664 664h1v1h-1zM665 664h1v1h-1zM666 664h1v1h-1zM670 664h1v1h-1zM671 664h1v1h-1zM672 664h1v1h-1zM676 664h1v1h-1zM677 664h1v1h-1zM678 664h1v1h-1zM682 663h1v1h-1zM683 663h1v1h-1zM684 663h1v1h-1zM688 663h1v1h-1zM689 663h1v1h-1zM690 662h1v1h-1zM694 662h1v1h-1zM695 662h1v1h-1zM696 662h1v1h-1zM700 662h1v1h-1zM701 662h1v1h-1zM702 663h1v1h-1zM706 664h1v1h-1zM707 664h1v1h-1zM708 664h1v1h-1zM712 666h1v1h-1zM713 667h1v1h-1zM714 667h1v1h-1zM718 669h1v1h-1zM719 670h1v1h-1zM720 670h1v1h-1zM724 671h1v1h-1zM725 672h1v1h-1zM726 672h1v1h-1zM730 674h1v1h-1zM731 675h1v1h-1zM732 675h1v1h-1zM736 676h1v1h-1zM737 676h1v1h-1zM738 677h1v1h-1zM742 677h1v1h-1zM743 677h1v1h-1zM744 677h1v1h-1zM748 677h1v1h-1zM749 677h1v1h-1zM750 677h1v1h-1zM754 677h1v1h-1zM755 677h1v1h-1zM756 677h1v1h-1zM760 677h1v1h-1zM761 677h1v1h-1zM762 677h1v1h-1zM766 678h1v1h-1zM767 678h1v1h-1zM768 678h1v1h-1zM772 678h1v1h-1zM773 678h1v1h-1zM774 679h1v1h-1zM778 680h1v1h-1zM779 680h1v1h-1zM780 680h1v1h-1zM784 680h1v1h-1zM785 680h1v1h-1zM786 680h1v1h-1zM790 680h1v1h-1zM791 680h1v1h-1zM792 680h1v1h-1zM796 680h1v1h-1zM797 680h1v1h-1zM798 679h1v1h-1zM802 678h1v1h-1zM803 678h1v1h-1zM804 678h1v1h-1zM808 677h1v1h-1zM809 677h1v1h-1zM810 677h1v1h-1zM814 676h1v1h-1zM815 676h1v1h-1zM816 676h1v1h-1zM820 675h1v1h-1zM821 675h1v1h-1zM822 675h1v1h-1zM826 674h1v1h-1zM827 674h1v1h-1zM828 674h1v1h-1zM832 673h1v1h-1zM833 673h1v1h-1zM834 672h1v1h-1zM838 671h1v1h-1zM839 671h1v1h-1zM840 671h1v1h-1zM844 670h1v1h-1zM845 670h1v1h-1zM846 669h1v1h-1zM850 668h1v1h-1zM851 668h1v1h-1zM852 668h1v1h-1zM856 668h1v1h-1zM857 668h1v1h-1zM858 668h1v1h-1zM862 668h1v1h-1zM863 668h1v1h-1zM864 668h1v1h-1zM868 669h1v1h-1zM869 669h1v1h-1zM870 669h1v1h-1zM874 670h1v1h-1zM875 670h1v1h-1zM876 670h1v1h-1zM880 670h1v1h-1zM881 670h1v1h-1zM882 669h1v1h-1zM886 668h1v1h-1zM887 668h1v1h-1zM888 668h1v1h-1zM892 667h1v1h-1zM893 667h1v1h-1zM894 666h1v1h-1zM898 665h1v1h-1zM899 665h1v1h-1zM900 665h1v1h-1zM904 664h1v1h-1zM905 664h1v1h-1zM906 664h1v1h-1zM910 663h1v1h-1zM911 663h1v1h-1zM912 663h1v1h-1zM916 663h1v1h-1zM917 663h1v1h-1zM918 664h1v1h-1zM922 665h1v1h-1zM923 665h1v1h-1zM924 665h1v1h-1zM928 666h1v1h-1zM929 666h1v1h-1zM930 667h1v1h-1zM934 668h1v1h-1zM935 668h1v1h-1zM936 668h1v1h-1zM940 669h1v1h-1zM941 669h1v1h-1zM942 670h1v1h-1zM946 670h1v1h-1zM947 670h1v1h-1zM948 670h1v1h-1zM952 671h1v1h-1zM953 671h1v1h-1zM954 672h1v1h-1zM958 673h1v1h-1zM959 673h1v1h-1zM960 673h1v1h-1zM964 674h1v1h-1zM965 674h1v1h-1zM966 675h1v1h-1zM970 676h1v1h-1zM971 676h1v1h-1zM972 676h1v1h-1zM976 678h1v1h-1zM977 678h1v1h-1zM978 679h1v1h-1zM982 680h1v1h-1zM983 680h1v1h-1zM984 680h1v1h-1zM988 682h1v1h-1zM989 682h1v1h-1zM990 683h1v1h-1zM994 684h1v1h-1zM995 684h1v1h-1zM996 684h1v1h-1zM1000 685h1v1h-1zM1001 685h1v1h-1zM1002 685h1v1h-1zM1006 684h1v1h-1zM1007 684h1v1h-1zM1008 684h1v1h-1zM1012 684h1v1h-1zM1013 684h1v1h-1zM1014 684h1v1h-1zM1018 685h1v1h-1zM1019 685h1v1h-1zM1020 685h1v1h-1zM1024 686h1v1h-1zM1025 686h1v1h-1zM1026 686h1v1h-1zM1030 687h1v1h-1zM1031 688h1v1h-1zM1032 688h1v1h-1zM1036 689h1v1h-1zM1037 689h1v1h-1zM1038 690h1v1h-1zM1042 691h1v1h-1zM1043 692h1v1h-1zM1044 692h1v1h-1zM1048 693h1v1h-1zM1049 694h1v1h-1zM1050 694h1v1h-1zM1054 696h1v1h-1zM1055 697h1v1h-1zM1056 697h1v1h-1zM1060 698h1v1h-1zM1061 699h1v1h-1zM1062 699h1v1h-1zM1066 701h1v1h-1zM1067 701h1v1h-1zM1068 701h1v1h-1zM1072 701h1v1h-1zM1073 701h1v1h-1zM1074 701h1v1h-1zM1078 701h1v1h-1zM1079 701h1v1h-1zM1080 701h1v1h-1zM1084 701h1v1h-1zM1085 701h1v1h-1zM1086 700h1v1h-1zM1090 699h1v1h-1zM1091 698h1v1h-1zM1092 698h1v1h-1zM1096 695h1v1h-1zM1097 694h1v1h-1zM1098 693h1v1h-1zM1102 690h1v1h-1zM1103 689h1v1h-1zM1104 688h1v1h-1zM1108 684h1v1h-1zM1109 683h1v1h-1zM1110 682h1v1h-1zM1113 678h1v1h-1zM1114 676h1v2h-1zM1118 671h1v2h-1zM1119 670h1v1h-1zM1122 666h1v1h-1zM1123 664h1v2h-1zM1126 660h1v1h-1zM1127 658h1v2h-1zM1130 654h1v1h-1zM1131 652h1v2h-1zM1135 648h1v1h-1zM1136 647h1v1h-1zM1137 646h1v1h-1zM1141 645h1v1h-1zM1142 645h1v1h-1zM1143 645h1v1h-1zM1147 646h1v1h-1zM1148 646h1v1h-1zM1149 646h1v1h-1zM1153 648h1v1h-1zM1154 649h1v1h-1zM1155 649h1v1h-1zM1159 653h1v1h-1zM1160 654h1v1h-1zM1161 655h1v1h-1zM1163 659h1v1h-1zM1164 660h1v1h-1zM1165 661h1v1h-1zM1167 665h1v2h-1zM1168 667h1v1h-1zM1170 671h1v1h-1zM1171 672h1v2h-1zM1173 677h1v1h-1zM1174 678h1v2h-1zM1177 683h1v1h-1zM1178 684h1v2h-1zM1182 689h1v1h-1zM1183 690h1v1h-1zM1184 691h1v1h-1zM1188 693h1v1h-1zM1189 693h1v1h-1zM1190 693h1v1h-1zM1194 692h1v1h-1zM1195 692h1v1h-1zM1196 692h1v1h-1zM1200 690h1v1h-1zM1201 689h1v1h-1zM1202 689h1v1h-1zM1206 687h1v1h-1zM1207 686h1v1h-1zM1208 686h1v1h-1zM1212 686h1v1h-1zM1213 686h1v1h-1zM1214 686h1v1h-1zM1218 687h1v1h-1zM1219 687h1v1h-1zM1220 687h1v1h-1zM1224 689h1v1h-1zM1225 689h1v1h-1zM1226 689h1v1h-1zM1230 690h1v1h-1zM1231 690h1v1h-1zM1232 690h1v1h-1zM1236 690h1v1h-1zM1237 690h1v1h-1zM1238 689h1v1h-1zM1242 688h1v1h-1zM1243 688h1v1h-1zM1244 688h1v1h-1zM1248 687h1v1h-1zM1249 687h1v1h-1zM1250 686h1v1h-1zM1254 685h1v1h-1zM1255 685h1v1h-1zM1256 685h1v1h-1zM1260 685h1v1h-1zM1261 685h1v1h-1zM1262 684h1v1h-1zM1266 684h1v1h-1zM1267 684h1v1h-1zM1268 684h1v1h-1z" fill="#ff0000" shape-rendering="crispEdges"/>
<text x="8.7" y="636" font-size="10" fill="#000" color="#000" textLength="152.7" lengthAdjust="spacingAndGlyphs">MACD(12,26,9) -0.001967 -0.002045</text>
<rect x="1597" y="625" width="2" height="1" shape-rendering="crispEdges"/>
<text x="1600" y="634" font-size="10" fill="#000" color="#000" textLength="38" lengthAdjust="spacingAndGlyphs">0.011277</text>
<rect x="1597" y="675" width="2" height="1" shape-rendering="crispEdges"/>
<text x="1600" y="679" font-size="10" fill="#000" color="#000" textLength="17.7" lengthAdjust="spacingAndGlyphs">0.00</text>
<rect x="1597" y="714" width="2" height="1" shape-rendering="crispEdges"/>
<text x="1600" y="712" font-size="10" fill="#000" color="#000" textLength="42.5" lengthAdjust="spacingAndGlyphs">-0.008845</text>
<rect x="4" y="716" width="1" height="4" fill="#000" shape-rendering="crispEdges"/>
<text x="3.3" y="728" font-size="9.6" letter-spacing="-0.12" fill="#000" color="#000">16 Apr 2019</text>
<rect x="68" y="716" width="1" height="4" fill="#000" shape-rendering="crispEdges"/>
<text x="67.3" y="728" font-size="9.6" letter-spacing="-0.12" fill="#000" color="#000">4 May 2019</text>
<rect x="132" y="716" width="1" height="4" fill="#000" shape-rendering="crispEdges"/>
<text x="131.3" y="728" font-size="9.6" letter-spacing="-0.12" fill="#000" color="#000">23 May 2019</text>
<rect x="196" y="716" width="1" height="4" fill="#000" shape-rendering="crispEdges"/>
<text x="195.3" y="728" font-size="9.6" letter-spacing="-0.12" fill="#000" color="#000">11 Jun 2019</text>
<rect x="260" y="716" width="1" height="4" fill="#000" shape-rendering="crispEdges"/>
<text x="259.3" y="728" font-size="9.6" letter-spacing="-0.12" fill="#000" color="#000">29 Jun 2019</text>
<rect x="324" y="716" width="1" height="4" fill="#000" shape-rendering="crispEdges"/>
<text x="323.3" y="728" font-size="9.6" letter-spacing="-0.12" fill="#000" color="#000">18 Jul 2019</text>
<rect x="388" y="716" width="1" height="4" fill="#000" shape-rendering="crispEdges"/>
<text x="387.3" y="728" font-size="9.6" letter-spacing="-0.12" fill="#000" color="#000">6 Aug 2019</text>
<rect x="452" y="716" width="1" height="4" fill="#000" shape-rendering="crispEdges"/>
<text x="451.3" y="728" font-size="9.6" letter-spacing="-0.12" fill="#000" color="#000">24 Aug 2019</text>
<rect x="516" y="716" width="1" height="4" fill="#000" shape-rendering="crispEdges"/>
<text x="515.3" y="728" font-size="9.6" letter-spacing="-0.12" fill="#000" color="#000">12 Sep 2019</text>
<rect x="580" y="716" width="1" height="4" fill="#000" shape-rendering="crispEdges"/>
<text x="579.3" y="728" font-size="9.6" letter-spacing="-0.12" fill="#000" color="#000">1 Oct 2019</text>
<rect x="644" y="716" width="1" height="4" fill="#000" shape-rendering="crispEdges"/>
<text x="643.3" y="728" font-size="9.6" letter-spacing="-0.12" fill="#000" color="#000">19 Oct 2019</text>
<rect x="708" y="716" width="1" height="4" fill="#000" shape-rendering="crispEdges"/>
<text x="707.3" y="728" font-size="9.6" letter-spacing="-0.12" fill="#000" color="#000">7 Nov 2019</text>
<rect x="772" y="716" width="1" height="4" fill="#000" shape-rendering="crispEdges"/>
<text x="771.3" y="728" font-size="9.6" letter-spacing="-0.12" fill="#000" color="#000">26 Nov 2019</text>
<rect x="836" y="716" width="1" height="4" fill="#000" shape-rendering="crispEdges"/>
<text x="835.3" y="728" font-size="9.6" letter-spacing="-0.12" fill="#000" color="#000">14 Dec 2019</text>
<rect x="900" y="716" width="1" height="4" fill="#000" shape-rendering="crispEdges"/>
<text x="899.3" y="728" font-size="9.6" letter-spacing="-0.12" fill="#000" color="#000">2 Jan 2020</text>
<rect x="964" y="716" width="1" height="4" fill="#000" shape-rendering="crispEdges"/>
<text x="963.3" y="728" font-size="9.6" letter-spacing="-0.12" fill="#000" color="#000">21 Jan 2020</text>
<rect x="1028" y="716" width="1" height="4" fill="#000" shape-rendering="crispEdges"/>
<text x="1027.3" y="728" font-size="9.6" letter-spacing="-0.12" fill="#000" color="#000">8 Feb 2020</text>
<rect x="1092" y="716" width="1" height="4" fill="#000" shape-rendering="crispEdges"/>
<text x="1091.3" y="728" font-size="9.6" letter-spacing="-0.12" fill="#000" color="#000">27 Feb 2020</text>
<rect x="1156" y="716" width="1" height="4" fill="#000" shape-rendering="crispEdges"/>
<text x="1155.3" y="728" font-size="9.6" letter-spacing="-0.12" fill="#000" color="#000">17 Mar 2020</text>
<rect x="1220" y="716" width="1" height="4" fill="#000" shape-rendering="crispEdges"/>
<text x="1219.3" y="728" font-size="9.6" letter-spacing="-0.12" fill="#000" color="#000">4 Apr 2020</text>
<g shape-rendering="crispEdges">
<rect x="0" y="736" width="1640" height="22" fill="#f0f0f0"/>
<rect x="0" y="736" width="1640" height="1" fill="#e3e3e3"/>
<rect x="0" y="737" width="1640" height="1" fill="#ffffff"/>
<rect x="108" y="738" width="1532" height="1" fill="#000"/>
<rect x="0" y="738" width="6" height="1" fill="#000"/>
<rect x="0" y="739" width="1640" height="1" fill="#ffffff"/>
<rect x="0" y="739" width="1" height="19" fill="#606060"/>
<rect x="5" y="737" width="104" height="20" fill="#fff"/>
<rect x="5" y="738" width="1" height="19" fill="#000"/>
<rect x="108" y="738" width="1" height="19" fill="#000"/>
<rect x="5" y="756" width="104" height="1" fill="#000"/>
</g>
<text x="17.5" y="752.8" font-size="12" fill="#000" style="stroke-width:0" textLength="79.5" lengthAdjust="spacingAndGlyphs">EURUSD,Daily</text>
<text x="119.2" y="752.8" font-size="12" fill="#696969" style="stroke-width:0" textLength="79" lengthAdjust="spacingAndGlyphs">USDCHF,Daily</text>
<rect x="209" y="741" width="1" height="14" fill="#696969" shape-rendering="crispEdges"/>
<text x="219.8" y="752.8" font-size="12" fill="#696969" style="stroke-width:0" textLength="82" lengthAdjust="spacingAndGlyphs">AUDUSD,Daily</text>
<rect x="313" y="741" width="1" height="14" fill="#696969" shape-rendering="crispEdges"/>
<text x="324" y="752.8" font-size="12" fill="#696969" style="stroke-width:0" textLength="80.6" lengthAdjust="spacingAndGlyphs">USDCAD,Daily</text>
<rect x="417" y="741" width="1" height="14" fill="#696969" shape-rendering="crispEdges"/>
<text x="427.4" y="752.8" font-size="12" fill="#696969" style="stroke-width:0" textLength="82.4" lengthAdjust="spacingAndGlyphs">USDCNH,Daily</text>
<rect x="522" y="741" width="1" height="14" fill="#696969" shape-rendering="crispEdges"/>
<text x="533" y="752.8" font-size="12" fill="#696969" style="stroke-width:0" textLength="80" lengthAdjust="spacingAndGlyphs">EURUSD,Daily</text>
<rect x="625" y="741" width="1" height="14" fill="#696969" shape-rendering="crispEdges"/>
<text x="635.4" y="752.8" font-size="12" fill="#696969" style="stroke-width:0" textLength="70" lengthAdjust="spacingAndGlyphs">GBPUSD,M5</text>
<rect x="717" y="741" width="1" height="14" fill="#696969" shape-rendering="crispEdges"/>
<text x="727.7" y="752.8" font-size="12" fill="#696969" style="stroke-width:0" textLength="69.5" lengthAdjust="spacingAndGlyphs">XAUUSD,H1</text>
<rect x="809" y="741" width="1" height="14" fill="#696969" shape-rendering="crispEdges"/>
<text x="820" y="752.8" font-size="12" fill="#696969" style="stroke-width:0" textLength="49.5" lengthAdjust="spacingAndGlyphs">HK50,H1</text>
<rect x="881" y="741" width="1" height="14" fill="#696969" shape-rendering="crispEdges"/>
<text x="892.2" y="752.8" font-size="12" fill="#696969" style="stroke-width:0" textLength="56.6" lengthAdjust="spacingAndGlyphs">UK100,H1</text>
<rect x="961" y="741" width="1" height="14" fill="#696969" shape-rendering="crispEdges"/>
<text x="972.2" y="752.8" font-size="12" fill="#696969" style="stroke-width:0" textLength="56.6" lengthAdjust="spacingAndGlyphs">UK100,H1</text>
<rect x="1041" y="741" width="1" height="14" fill="#696969" shape-rendering="crispEdges"/>
<text x="1052" y="752.8" font-size="12" fill="#696969" style="stroke-width:0" textLength="56.7" lengthAdjust="spacingAndGlyphs">GER30,H1</text>
<rect x="1121" y="741" width="1" height="14" fill="#696969" shape-rendering="crispEdges"/>
<text x="1131.5" y="752.8" font-size="12" fill="#696969" style="stroke-width:0" textLength="54" lengthAdjust="spacingAndGlyphs">FRA40,H1</text>
<rect x="1197" y="741" width="1" height="14" fill="#696969" shape-rendering="crispEdges"/>
<text x="1207" y="752.8" font-size="12" fill="#696969" style="stroke-width:0" textLength="50.5" lengthAdjust="spacingAndGlyphs">USOil,H1</text>
<rect x="1269" y="741" width="1" height="14" fill="#696969" shape-rendering="crispEdges"/>
<text x="1279.4" y="752.8" font-size="12" fill="#696969" style="stroke-width:0" textLength="62.5" lengthAdjust="spacingAndGlyphs">USDJPY,H1</text>
<rect x="1353" y="741" width="1" height="14" fill="#696969" shape-rendering="crispEdges"/>
<g fill="#999" shape-rendering="crispEdges"><rect x="1612" y="747" width="1" height="1"/><rect x="1613" y="746" width="1" height="3"/><rect x="1614" y="745" width="1" height="5"/><rect x="1615" y="744" width="1" height="7"/><rect x="1631" y="744" width="1" height="7"/><rect x="1632" y="745" width="1" height="5"/><rect x="1633" y="746" width="1" height="3"/><rect x="1634" y="747" width="1" height="1"/></g>
</svg></body></html>
